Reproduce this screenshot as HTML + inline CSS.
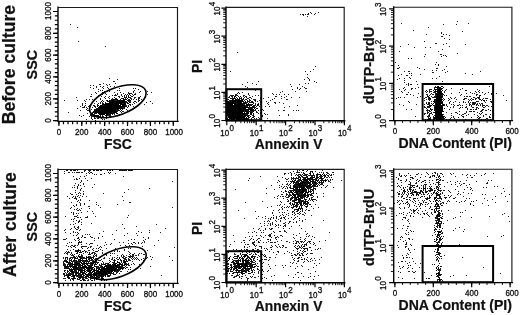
<!DOCTYPE html>
<html><head><meta charset="utf-8"><title>Flow cytometry before and after culture</title>
<style>html,body{margin:0;padding:0;background:#fff;}svg{display:block}text{font-family:"Liberation Sans",Arial,Helvetica,sans-serif}</style>
</head><body>
<svg width="520" height="315" viewBox="0 0 520 315">
<rect width="520" height="315" fill="#fff"/>
<path d="M108 104.5h1M113 111.5h1M108 110.5h1M105 115.5h1M107 111.5h1M104 114.5h1M110 107.5h1M120 106.5h1M109 116.5h1M104 106.5h1M114 109.5h1M114 111.5h1M111 108.5h1M103 112.5h1M111 111.5h1M114 104.5h1M100 112.5h1M105 106.5h1M94 111.5h1M99 109.5h1M96 112.5h1M108 108.5h1M100 112.5h1M110 103.5h1M113 113.5h1M109 111.5h1M91 116.5h1M105 108.5h1M109 107.5h1M111 109.5h1M98 113.5h1M104 104.5h1M103 112.5h1M106 118.5h1M116 99.5h1M104 112.5h1M110 109.5h1M116 105.5h1M107 113.5h1M107 104.5h1M111 108.5h1M112 111.5h1M100 110.5h1M110 106.5h1M120 104.5h1M97 110.5h1M118 110.5h1M109 104.5h1M106 112.5h1M123 98.5h1M116 107.5h1M100 110.5h1M107 100.5h1M114 106.5h1M107 105.5h1M114 104.5h1M111 112.5h1M113 102.5h1M119 100.5h1M106 113.5h1M111 107.5h1M108 113.5h1M111 108.5h1M100 108.5h1M105 109.5h1M109 112.5h1M117 108.5h1M118 104.5h1M100 111.5h1M103 109.5h1M114 104.5h1M97 118.5h1M106 109.5h1M108 104.5h1M118 103.5h1M115 108.5h1M108 110.5h1M107 108.5h1M107 106.5h1M121 103.5h1M105 104.5h1M106 104.5h1M113 109.5h1M108 106.5h1M108 109.5h1M102 114.5h1M110 109.5h1M106 109.5h1M121 110.5h1M115 108.5h1M109 106.5h1M115 108.5h1M107 110.5h1M117 102.5h1M110 108.5h1M114 105.5h1M98 105.5h1M112 106.5h1M97 111.5h1M94 112.5h1M105 103.5h1M102 109.5h1M111 107.5h1M126 102.5h1M102 106.5h1M105 111.5h1M110 103.5h1M113 105.5h1M110 112.5h1M107 106.5h1M114 104.5h1M115 109.5h1M101 109.5h1M109 107.5h1M110 108.5h1M103 113.5h1M109 100.5h1M102 107.5h1M116 102.5h1M110 104.5h1M109 105.5h1M104 107.5h1M109 109.5h1M94 110.5h1M101 111.5h1M113 108.5h1M93 111.5h1M116 105.5h1M98 117.5h1M116 106.5h1M102 108.5h1M115 105.5h1M110 104.5h1M98 112.5h1M120 106.5h1M119 101.5h1M109 107.5h1M109 111.5h1M108 106.5h1M102 111.5h1M117 101.5h1M105 107.5h1M109 106.5h1M106 116.5h1M104 108.5h1M99 109.5h1M118 102.5h1M108 107.5h1M117 107.5h1M110 108.5h1M106 115.5h1M107 109.5h1M107 113.5h1M110 108.5h1M107 110.5h1M106 104.5h1M99 111.5h1M103 109.5h1M122 102.5h1M102 103.5h1M102 113.5h1M112 105.5h1M120 102.5h1M98 111.5h1M108 107.5h1M105 110.5h1M95 109.5h1M114 103.5h1M110 108.5h1M110 108.5h1M103 108.5h1M112 105.5h1M105 107.5h1M108 108.5h1M102 114.5h1M99 108.5h1M121 108.5h1M107 111.5h1M111 105.5h1M110 110.5h1M105 104.5h1M104 104.5h1M113 102.5h1M107 107.5h1M108 107.5h1M109 106.5h1M118 104.5h1M112 100.5h1M113 108.5h1M104 105.5h1M98 109.5h1M116 104.5h1M116 101.5h1M107 104.5h1M113 103.5h1M115 105.5h1M116 107.5h1M117 106.5h1M105 106.5h1M120 101.5h1M99 108.5h1M116 106.5h1M111 100.5h1M117 109.5h1M123 101.5h1M120 101.5h1M101 111.5h1M98 115.5h1M116 106.5h1M103 113.5h1M110 108.5h1M117 109.5h1M98 115.5h1M94 113.5h1M113 111.5h1M110 108.5h1M108 108.5h1M109 105.5h1M103 109.5h1M99 114.5h1M107 104.5h1M103 112.5h1M98 113.5h1M114 107.5h1M107 101.5h1M112 106.5h1M103 112.5h1M104 107.5h1M102 110.5h1M100 103.5h1M112 109.5h1M103 108.5h1M113 109.5h1M110 101.5h1M125 104.5h1M99 111.5h1M117 107.5h1M108 105.5h1M109 106.5h1M101 118.5h1M105 106.5h1M114 103.5h1M109 107.5h1M109 104.5h1M109 112.5h1M120 109.5h1M109 105.5h1M91 109.5h1M105 113.5h1M96 116.5h1M86 119.5h1M107 112.5h1M119 101.5h1M110 107.5h1M99 107.5h1M101 106.5h1M119 107.5h1M110 105.5h1M112 114.5h1M109 108.5h1M109 105.5h1M116 107.5h1M116 111.5h1M112 108.5h1M100 107.5h1M114 107.5h1M106 113.5h1M117 103.5h1M99 109.5h1M110 111.5h1M110 108.5h1M98 108.5h1M122 102.5h1M120 101.5h1M106 110.5h1M115 106.5h1M114 110.5h1M91 117.5h1M110 102.5h1M109 109.5h1M111 110.5h1M102 112.5h1M109 111.5h1M108 106.5h1M117 101.5h1M113 109.5h1M108 104.5h1M119 97.5h1M106 112.5h1M106 106.5h1M96 112.5h1M120 99.5h1M115 101.5h1M115 102.5h1M114 105.5h1M111 108.5h1M109 100.5h1M108 110.5h1M107 105.5h1M109 104.5h1M122 105.5h1M114 106.5h1M107 103.5h1M107 114.5h1M104 107.5h1M122 104.5h1M114 107.5h1M111 111.5h1M106 107.5h1M102 113.5h1M108 105.5h1M117 108.5h1M106 106.5h1M107 107.5h1M110 113.5h1M111 108.5h1M98 112.5h1M110 114.5h1M103 111.5h1M115 103.5h1M104 112.5h1M113 102.5h1M122 106.5h1M108 112.5h1M104 107.5h1M110 105.5h1M110 108.5h1M102 110.5h1M112 103.5h1M125 103.5h1M105 102.5h1M108 107.5h1M101 109.5h1M112 106.5h1M100 112.5h1M100 107.5h1M120 106.5h1M103 109.5h1M117 103.5h1M120 99.5h1M110 103.5h1M114 107.5h1M123 99.5h1M108 108.5h1M106 112.5h1M100 114.5h1M111 112.5h1M120 103.5h1M116 102.5h1M103 113.5h1M103 111.5h1M107 112.5h1M112 107.5h1M109 111.5h1M112 109.5h1M112 109.5h1M108 110.5h1M110 109.5h1M111 107.5h1M109 108.5h1M114 109.5h1M123 101.5h1M116 111.5h1M110 107.5h1M98 115.5h1M112 106.5h1M95 112.5h1M101 117.5h1M116 104.5h1M113 102.5h1M108 106.5h1M96 111.5h1M109 114.5h1M105 110.5h1M115 108.5h1M125 98.5h1M111 108.5h1M104 111.5h1M103 116.5h1M108 106.5h1M109 110.5h1M101 111.5h1M109 104.5h1M101 110.5h1M118 104.5h1M115 98.5h1M118 106.5h1M106 110.5h1M113 105.5h1M107 104.5h1M108 113.5h1M107 109.5h1M101 114.5h1M100 115.5h1M115 104.5h1M109 110.5h1M111 106.5h1M117 104.5h1M96 112.5h1M104 110.5h1M112 110.5h1M113 107.5h1M107 108.5h1M117 104.5h1M111 108.5h1M99 108.5h1M102 109.5h1M116 105.5h1M112 105.5h1M95 112.5h1M119 102.5h1M116 111.5h1M121 107.5h1M107 110.5h1M107 108.5h1M103 117.5h1M129 101.5h1M108 108.5h1M122 104.5h1M105 110.5h1M112 111.5h1M97 112.5h1M109 114.5h1M116 102.5h1M101 113.5h1M117 102.5h1M114 112.5h1M101 109.5h1M106 109.5h1M107 111.5h1M110 111.5h1M104 106.5h1M103 109.5h1M106 104.5h1M102 111.5h1M100 111.5h1M109 107.5h1M115 103.5h1M98 110.5h1M109 105.5h1M105 111.5h1M104 114.5h1M114 100.5h1M105 108.5h1M120 102.5h1M104 111.5h1M111 104.5h1M108 108.5h1M103 107.5h1M115 108.5h1M108 108.5h1M114 105.5h1M110 109.5h1M101 110.5h1M107 103.5h1M111 109.5h1M117 106.5h1M103 109.5h1M110 110.5h1M98 116.5h1M113 103.5h1M101 108.5h1M98 117.5h1M111 112.5h1M117 102.5h1M97 108.5h1M101 109.5h1M103 108.5h1M99 106.5h1M112 106.5h1M102 106.5h1M103 106.5h1M115 108.5h1M103 108.5h1M113 106.5h1M103 112.5h1M101 113.5h1M95 111.5h1M124 102.5h1M106 106.5h1M113 112.5h1M110 109.5h1M110 104.5h1M110 107.5h1M125 104.5h1M102 112.5h1M100 117.5h1M103 114.5h1M99 110.5h1M115 105.5h1M114 102.5h1M103 111.5h1M99 112.5h1M110 116.5h1M120 104.5h1M86 109.5h1M113 104.5h1M102 111.5h1M116 101.5h1M101 108.5h1M107 107.5h1M99 112.5h1M102 110.5h1M119 101.5h1M116 107.5h1M106 107.5h1M102 108.5h1M94 109.5h1M106 106.5h1M110 109.5h1M107 103.5h1M109 107.5h1M102 112.5h1M109 107.5h1M109 108.5h1M118 101.5h1M125 106.5h1M110 111.5h1M104 110.5h1M107 103.5h1M104 106.5h1M105 112.5h1M111 112.5h1M102 111.5h1M115 109.5h1M108 106.5h1M111 106.5h1M108 108.5h1M104 111.5h1M101 106.5h1M109 111.5h1M107 113.5h1M110 104.5h1M108 104.5h1M100 112.5h1M109 105.5h1M97 104.5h1M106 111.5h1M107 109.5h1M93 112.5h1M112 113.5h1M111 107.5h1M108 106.5h1M106 109.5h1M106 105.5h1M101 108.5h1M108 109.5h1M105 107.5h1M110 106.5h1M102 115.5h1M112 109.5h1M111 109.5h1M109 109.5h1M107 110.5h1M115 110.5h1M97 112.5h1M115 111.5h1M110 104.5h1M111 106.5h1M111 102.5h1M104 108.5h1M108 110.5h1M116 110.5h1M112 104.5h1M111 107.5h1M98 111.5h1M113 104.5h1M117 101.5h1M117 105.5h1M109 102.5h1M98 112.5h1M117 105.5h1M108 106.5h1M89 111.5h1M111 102.5h1M100 117.5h1M98 107.5h1M106 114.5h1M120 106.5h1M106 107.5h1M110 103.5h1M124 106.5h1M123 108.5h1M108 105.5h1M107 107.5h1M101 114.5h1M105 110.5h1M115 112.5h1M112 105.5h1M111 109.5h1M116 101.5h1M106 115.5h1M108 105.5h1M113 99.5h1M114 105.5h1M117 104.5h1M114 112.5h1M107 107.5h1M112 106.5h1M103 112.5h1M99 116.5h1M114 106.5h1M110 110.5h1M112 108.5h1M96 111.5h1M107 109.5h1M105 109.5h1M102 107.5h1M94 117.5h1M106 104.5h1M117 108.5h1M113 109.5h1M105 109.5h1M109 105.5h1M115 105.5h1M89 116.5h1M109 110.5h1M114 107.5h1M116 108.5h1M122 101.5h1M118 105.5h1M110 102.5h1M113 109.5h1M116 106.5h1M105 108.5h1M110 111.5h1M117 107.5h1M121 94.5h1M108 108.5h1M108 103.5h1M112 110.5h1M122 111.5h1M109 106.5h1M121 104.5h1M102 109.5h1M108 109.5h1M109 110.5h1M117 109.5h1M116 102.5h1M100 116.5h1M102 107.5h1M112 107.5h1M106 112.5h1M99 114.5h1M116 102.5h1M112 104.5h1M113 105.5h1M106 109.5h1M118 108.5h1M106 104.5h1M118 106.5h1M103 112.5h1M104 111.5h1M112 108.5h1M106 114.5h1M115 107.5h1M112 109.5h1M103 112.5h1M112 112.5h1M105 103.5h1M118 109.5h1M104 108.5h1M106 108.5h1M118 101.5h1M124 96.5h1M124 101.5h1M109 105.5h1M112 108.5h1M120 99.5h1M110 112.5h1M102 111.5h1M110 106.5h1M112 104.5h1M102 107.5h1M96 109.5h1M98 110.5h1M115 106.5h1M104 109.5h1M107 104.5h1M111 106.5h1M113 103.5h1M107 109.5h1M115 111.5h1M103 112.5h1M106 108.5h1M100 106.5h1M117 100.5h1M108 103.5h1M105 111.5h1M106 106.5h1M108 108.5h1M114 104.5h1M98 112.5h1M103 114.5h1M106 107.5h1M128 100.5h1M116 103.5h1M110 110.5h1M114 103.5h1M124 99.5h1M106 104.5h1M105 104.5h1M119 105.5h1M116 113.5h1M114 103.5h1M107 111.5h1M124 103.5h1M121 100.5h1M113 105.5h1M114 105.5h1M94 111.5h1M116 111.5h1M106 103.5h1M113 107.5h1M115 106.5h1M106 107.5h1M97 112.5h1M113 109.5h1M104 110.5h1M107 109.5h1M106 111.5h1M105 103.5h1M94 118.5h1M121 110.5h1M112 109.5h1M119 107.5h1M123 98.5h1M110 107.5h1M95 110.5h1M102 108.5h1M101 113.5h1M105 107.5h1M110 107.5h1M92 107.5h1M112 106.5h1M98 112.5h1M111 105.5h1M108 106.5h1M109 114.5h1M108 104.5h1M104 106.5h1M104 107.5h1M98 115.5h1M111 113.5h1M124 103.5h1M124 100.5h1M119 103.5h1M116 108.5h1M103 107.5h1M122 108.5h1M111 112.5h1M109 108.5h1M108 110.5h1M111 109.5h1M108 113.5h1M108 105.5h1M103 114.5h1M106 107.5h1M126 99.5h1M109 108.5h1M107 107.5h1M112 103.5h1M113 101.5h1M100 108.5h1M109 112.5h1M118 110.5h1M112 108.5h1M112 110.5h1M121 102.5h1M104 109.5h1M110 108.5h1M104 106.5h1M120 101.5h1M95 113.5h1M104 108.5h1M104 106.5h1M115 107.5h1M114 105.5h1M121 106.5h1M98 112.5h1M115 104.5h1M107 109.5h1M104 109.5h1M113 104.5h1M102 109.5h1M95 115.5h1M107 110.5h1M100 115.5h1M103 104.5h1M112 105.5h1M111 105.5h1M122 104.5h1M108 107.5h1M97 110.5h1M105 112.5h1M103 110.5h1M99 107.5h1M114 110.5h1M106 112.5h1M94 111.5h1M116 108.5h1M108 106.5h1M113 110.5h1M110 106.5h1M113 103.5h1M109 106.5h1M118 102.5h1M113 107.5h1M113 107.5h1M113 106.5h1M98 110.5h1M105 98.5h1M108 108.5h1M109 101.5h1M100 112.5h1M123 106.5h1M111 108.5h1M100 110.5h1M96 112.5h1M107 108.5h1M108 106.5h1M104 108.5h1M109 105.5h1M106 113.5h1M114 106.5h1M105 112.5h1M109 107.5h1M117 105.5h1M129 100.5h1M102 111.5h1M107 111.5h1M103 110.5h1M115 103.5h1M100 108.5h1M108 113.5h1M109 107.5h1M102 109.5h1M104 114.5h1M107 112.5h1M94 115.5h1M98 110.5h1M109 115.5h1M111 108.5h1M109 109.5h1M96 112.5h1M105 105.5h1M114 101.5h1M114 107.5h1M109 109.5h1M103 109.5h1M113 102.5h1M104 105.5h1M100 110.5h1M102 105.5h1M121 106.5h1M112 110.5h1M121 112.5h1M107 111.5h1M116 103.5h1M104 107.5h1M105 98.5h1M128 99.5h1M115 105.5h1M107 111.5h1M109 109.5h1M113 108.5h1M119 105.5h1M107 111.5h1M98 116.5h1M106 105.5h1M109 106.5h1M109 103.5h1M121 108.5h1M113 110.5h1M116 107.5h1M100 107.5h1M116 106.5h1M125 101.5h1M115 106.5h1M111 106.5h1M111 108.5h1M123 101.5h1M103 112.5h1M109 108.5h1M113 105.5h1M115 105.5h1M106 107.5h1M113 109.5h1M107 107.5h1M111 108.5h1M108 107.5h1M99 106.5h1M110 110.5h1M115 102.5h1M103 112.5h1M108 109.5h1M113 101.5h1M100 108.5h1M110 105.5h1M101 108.5h1M117 101.5h1M128 103.5h1M124 101.5h1M108 109.5h1M115 104.5h1M111 108.5h1M109 105.5h1M121 103.5h1M100 113.5h1M117 105.5h1M109 106.5h1M119 100.5h1M111 107.5h1M105 110.5h1M111 106.5h1M114 103.5h1M110 109.5h1M116 113.5h1M105 108.5h1M94 114.5h1M117 106.5h1M112 98.5h1M111 107.5h1M109 105.5h1M119 108.5h1M106 108.5h1M103 107.5h1M108 107.5h1M119 105.5h1M98 110.5h1M118 104.5h1M103 105.5h1M101 110.5h1M120 106.5h1M111 113.5h1M100 113.5h1M107 109.5h1M118 108.5h1M120 107.5h1M108 113.5h1M114 109.5h1M115 105.5h1M105 110.5h1M112 107.5h1M110 108.5h1M106 109.5h1M105 107.5h1M108 101.5h1M109 105.5h1M103 103.5h1M106 109.5h1M118 104.5h1M109 102.5h1M117 107.5h1M119 107.5h1M114 106.5h1M128 106.5h1M105 115.5h1M114 102.5h1M108 111.5h1M124 104.5h1M123 104.5h1M96 115.5h1M101 108.5h1M114 104.5h1M115 103.5h1M114 103.5h1M109 107.5h1M111 102.5h1M113 103.5h1M110 109.5h1M117 104.5h1M93 115.5h1M112 100.5h1M101 108.5h1M116 103.5h1M108 108.5h1M102 108.5h1M113 109.5h1M103 110.5h1M103 110.5h1M98 112.5h1M110 109.5h1M113 105.5h1M118 108.5h1M109 109.5h1M118 105.5h1M110 107.5h1M109 109.5h1M115 109.5h1M118 107.5h1M107 109.5h1M109 111.5h1M108 108.5h1M111 111.5h1M103 110.5h1M115 99.5h1M108 112.5h1M113 106.5h1M102 106.5h1M112 106.5h1M112 104.5h1M108 114.5h1M125 103.5h1M111 102.5h1M123 104.5h1M116 104.5h1M106 115.5h1M106 105.5h1M110 100.5h1M110 107.5h1M110 106.5h1M107 107.5h1M94 106.5h1M108 109.5h1M95 118.5h1M110 101.5h1M105 113.5h1M104 108.5h1M110 115.5h1M112 108.5h1M99 111.5h1M97 115.5h1M102 112.5h1M94 111.5h1M103 112.5h1M121 102.5h1M100 105.5h1M116 111.5h1M99 110.5h1M111 105.5h1M107 109.5h1M107 103.5h1M112 102.5h1M122 101.5h1M110 105.5h1M111 107.5h1M103 113.5h1M113 104.5h1M108 109.5h1M116 107.5h1M108 104.5h1M123 103.5h1M94 110.5h1M108 111.5h1M117 106.5h1M107 108.5h1M102 106.5h1M108 108.5h1M98 109.5h1M111 109.5h1M128 100.5h1M117 102.5h1M102 113.5h1M104 112.5h1M106 107.5h1M118 108.5h1M103 109.5h1M104 108.5h1M116 105.5h1M115 103.5h1M106 107.5h1M101 110.5h1M99 116.5h1M106 114.5h1M92 113.5h1M117 110.5h1M105 109.5h1M114 107.5h1M124 105.5h1M119 105.5h1M103 117.5h1M116 106.5h1M117 101.5h1M105 113.5h1M102 109.5h1M108 107.5h1M94 103.5h1M122 106.5h1M92 116.5h1M102 113.5h1M108 111.5h1M110 113.5h1M111 107.5h1M113 109.5h1M107 106.5h1M118 103.5h1M95 116.5h1M110 109.5h1M103 106.5h1M111 108.5h1M111 106.5h1M102 108.5h1M105 110.5h1M115 104.5h1M111 102.5h1M103 106.5h1M127 107.5h1M125 97.5h1M99 112.5h1M112 108.5h1M129 102.5h1M114 102.5h1M111 106.5h1M108 108.5h1M106 111.5h1M107 106.5h1M104 106.5h1M116 108.5h1M108 112.5h1M107 110.5h1M100 109.5h1M110 109.5h1M103 110.5h1M109 110.5h1M116 101.5h1M112 107.5h1M113 106.5h1M111 103.5h1M110 108.5h1M109 108.5h1M107 107.5h1M116 106.5h1M100 106.5h1M120 104.5h1M110 109.5h1M104 110.5h1M107 112.5h1M103 106.5h1M109 103.5h1M104 110.5h1M119 106.5h1M106 116.5h1M93 115.5h1M103 107.5h1M95 115.5h1M108 105.5h1M116 100.5h1M117 113.5h1M100 112.5h1M105 112.5h1M123 104.5h1M114 112.5h1M110 108.5h1M119 108.5h1M127 98.5h1M118 100.5h1M112 111.5h1M114 111.5h1M115 107.5h1M105 110.5h1M102 111.5h1M109 105.5h1M104 114.5h1M110 109.5h1M111 109.5h1M127 102.5h1M104 113.5h1M109 109.5h1M109 110.5h1M112 103.5h1M118 106.5h1M108 115.5h1M103 108.5h1M97 112.5h1M103 112.5h1M115 109.5h1M110 109.5h1M100 106.5h1M107 110.5h1M109 104.5h1M112 104.5h1M106 111.5h1M107 107.5h1M97 115.5h1M104 119.5h1M122 105.5h1M94 115.5h1M106 106.5h1M110 105.5h1M106 105.5h1M103 108.5h1M108 104.5h1M109 106.5h1M109 107.5h1M94 110.5h1M107 104.5h1M102 106.5h1M106 110.5h1M111 107.5h1M115 109.5h1M117 108.5h1M105 108.5h1M117 107.5h1M117 100.5h1M120 111.5h1M121 107.5h1M108 107.5h1M107 105.5h1M116 106.5h1M97 106.5h1M110 105.5h1M106 111.5h1M107 109.5h1M96 111.5h1M104 113.5h1M108 105.5h1M116 106.5h1M116 103.5h1M108 105.5h1M109 109.5h1M102 107.5h1M114 112.5h1M107 106.5h1M116 111.5h1M122 100.5h1M110 109.5h1M97 108.5h1M102 106.5h1M99 112.5h1M101 113.5h1M118 100.5h1M112 110.5h1M97 109.5h1M115 106.5h1M119 105.5h1M107 110.5h1M103 104.5h1M109 113.5h1M112 108.5h1M114 104.5h1M117 101.5h1M117 99.5h1M117 100.5h1M120 105.5h1M114 105.5h1M97 108.5h1M108 106.5h1M113 111.5h1M106 108.5h1M116 103.5h1M108 112.5h1M103 111.5h1M120 104.5h1M114 104.5h1M110 102.5h1M115 102.5h1M117 103.5h1M112 106.5h1M91 115.5h1M105 111.5h1M106 109.5h1M102 111.5h1M110 104.5h1M116 98.5h1M105 107.5h1M100 108.5h1M124 100.5h1M106 108.5h1M99 107.5h1M110 104.5h1M113 106.5h1M104 110.5h1M115 103.5h1M106 110.5h1M102 109.5h1M110 104.5h1M115 105.5h1M107 114.5h1M111 105.5h1M110 111.5h1M132 104.5h1M106 114.5h1M119 101.5h1M111 113.5h1M109 108.5h1M115 105.5h1M116 104.5h1M120 106.5h1M112 107.5h1M105 109.5h1M107 112.5h1M113 104.5h1M113 103.5h1M121 106.5h1M113 108.5h1M119 108.5h1M120 100.5h1M112 110.5h1M99 113.5h1M102 116.5h1M97 108.5h1M122 104.5h1M103 109.5h1M117 100.5h1M113 104.5h1M124 106.5h1M117 103.5h1M108 106.5h1M109 110.5h1M111 110.5h1M112 110.5h1M105 107.5h1M109 107.5h1M123 106.5h1M96 110.5h1M111 105.5h1M104 112.5h1M113 111.5h1M115 102.5h1M106 100.5h1M114 101.5h1M97 109.5h1M118 104.5h1M106 111.5h1M114 105.5h1M110 105.5h1M90 115.5h1M103 107.5h1M111 107.5h1M121 101.5h1M114 114.5h1M112 109.5h1M98 109.5h1M119 101.5h1M123 101.5h1M108 103.5h1M107 106.5h1M97 110.5h1M117 107.5h1M129 99.5h1M114 103.5h1M118 100.5h1M112 103.5h1M102 110.5h1M119 103.5h1M101 114.5h1M107 106.5h1M113 110.5h1M116 106.5h1M113 106.5h1M110 101.5h1M102 106.5h1M101 113.5h1M111 111.5h1M104 110.5h1M100 113.5h1M100 110.5h1M105 108.5h1M95 111.5h1M100 114.5h1M98 113.5h1M111 106.5h1M112 105.5h1M125 103.5h1M99 112.5h1M104 107.5h1M118 110.5h1M108 109.5h1M107 108.5h1M124 107.5h1M108 111.5h1M101 110.5h1M100 113.5h1M111 103.5h1M111 105.5h1M97 105.5h1M103 114.5h1M112 101.5h1M115 108.5h1M104 107.5h1M113 103.5h1M114 105.5h1M96 113.5h1M108 110.5h1M114 111.5h1M106 110.5h1M94 116.5h1M107 106.5h1M116 107.5h1M122 104.5h1M93 112.5h1M129 100.5h1M101 110.5h1M117 105.5h1M119 105.5h1M116 103.5h1M110 105.5h1M102 113.5h1M112 101.5h1M103 108.5h1M92 119.5h1M128 92.5h1M114 104.5h1M124 104.5h1M101 105.5h1M123 111.5h1M119 96.5h1M123 107.5h1M111 112.5h1M101 113.5h1M108 107.5h1M93 114.5h1M96 110.5h1M111 109.5h1M101 107.5h1M108 107.5h1M110 111.5h1M123 99.5h1M119 103.5h1M109 108.5h1M117 100.5h1M105 113.5h1M107 109.5h1M115 101.5h1M100 111.5h1M107 106.5h1M99 109.5h1M110 107.5h1M121 101.5h1M105 112.5h1M110 105.5h1M104 113.5h1M101 110.5h1M101 113.5h1M120 102.5h1M127 100.5h1M112 103.5h1M105 111.5h1M116 108.5h1M109 114.5h1M117 109.5h1M112 107.5h1M111 106.5h1M114 107.5h1M105 109.5h1M108 113.5h1M98 115.5h1M105 106.5h1M98 109.5h1M110 112.5h1M103 111.5h1M110 106.5h1M114 110.5h1M98 110.5h1M103 109.5h1M102 109.5h1M113 100.5h1M123 105.5h1M115 102.5h1M106 107.5h1M120 101.5h1M99 114.5h1M121 103.5h1M105 109.5h1M87 110.5h1M129 100.5h1M120 99.5h1M102 111.5h1M111 108.5h1M108 108.5h1M112 113.5h1M99 113.5h1M105 111.5h1M113 107.5h1M111 106.5h1M120 107.5h1M111 110.5h1M126 97.5h1M105 112.5h1M112 108.5h1M96 115.5h1M101 112.5h1M118 100.5h1M101 107.5h1M115 111.5h1M109 108.5h1M100 106.5h1M107 109.5h1M105 108.5h1M104 104.5h1M113 99.5h1M113 101.5h1M105 110.5h1M103 110.5h1M111 106.5h1M109 108.5h1M118 106.5h1M127 94.5h1M116 104.5h1M108 105.5h1M107 104.5h1M102 108.5h1M103 110.5h1M102 109.5h1M105 104.5h1M106 107.5h1M117 111.5h1M105 106.5h1M106 103.5h1M113 100.5h1M117 99.5h1M117 103.5h1M99 108.5h1M126 109.5h1M100 99.5h1M100 112.5h1M106 111.5h1M109 102.5h1M119 100.5h1M120 105.5h1M114 112.5h1M121 98.5h1M111 99.5h1M124 106.5h1M98 118.5h1M94 111.5h1M117 93.5h1M98 117.5h1M108 106.5h1M113 111.5h1M106 107.5h1M106 106.5h1M127 98.5h1M124 108.5h1M135 88.5h1M111 102.5h1M114 113.5h1M120 101.5h1M131 93.5h1M99 110.5h1M113 105.5h1M110 106.5h1M118 101.5h1M113 104.5h1M119 101.5h1M108 109.5h1M111 102.5h1M104 107.5h1M104 108.5h1M112 111.5h1M111 108.5h1M99 110.5h1M130 101.5h1M111 108.5h1M98 116.5h1M125 103.5h1M106 116.5h1M120 109.5h1M112 106.5h1M114 103.5h1M115 108.5h1M106 110.5h1M112 105.5h1M133 91.5h1M84 107.5h1M113 107.5h1M118 107.5h1M101 113.5h1M95 106.5h1M138 101.5h1M107 105.5h1M136 99.5h1M119 105.5h1M112 102.5h1M116 101.5h1M116 95.5h1M124 97.5h1M114 97.5h1M114 107.5h1M114 105.5h1M129 104.5h1M122 104.5h1M100 107.5h1M105 110.5h1M115 103.5h1M106 111.5h1M108 108.5h1M100 106.5h1M109 107.5h1M117 104.5h1M123 100.5h1M113 109.5h1M138 104.5h1M111 104.5h1M147 91.5h1M120 92.5h1M117 103.5h1M106 106.5h1M77 108.5h1M111 107.5h1M115 107.5h1M133 95.5h1M96 110.5h1M132 94.5h1M110 110.5h1M118 96.5h1M83 115.5h1M116 113.5h1M108 107.5h1M120 105.5h1M113 105.5h1M97 106.5h1M123 102.5h1M120 104.5h1M117 99.5h1M124 103.5h1M126 106.5h1M113 110.5h1M94 105.5h1M95 107.5h1M125 94.5h1M122 107.5h1M114 108.5h1M108 110.5h1M111 102.5h1M111 101.5h1M108 107.5h1M104 109.5h1M135 93.5h1M115 105.5h1M106 111.5h1M98 112.5h1M102 104.5h1M117 94.5h1M120 101.5h1M110 107.5h1M112 104.5h1M108 105.5h1M98 107.5h1M128 103.5h1M116 104.5h1M140 96.5h1M102 105.5h1M110 104.5h1M122 103.5h1M108 103.5h1M94 106.5h1M101 108.5h1M115 110.5h1M116 105.5h1M113 112.5h1M123 101.5h1M123 100.5h1M114 99.5h1M111 103.5h1M111 112.5h1M119 105.5h1M123 105.5h1M114 108.5h1M117 104.5h1M108 106.5h1M96 112.5h1M102 112.5h1M121 104.5h1M118 106.5h1M130 100.5h1M112 102.5h1M121 101.5h1M126 96.5h1M125 106.5h1M102 100.5h1M110 105.5h1M117 115.5h1M100 108.5h1M116 99.5h1M124 101.5h1M108 113.5h1M134 97.5h1M110 109.5h1M110 107.5h1M109 105.5h1M117 104.5h1M111 103.5h1M130 97.5h1M119 105.5h1M119 105.5h1M111 110.5h1M96 112.5h1M109 100.5h1M103 111.5h1M122 100.5h1M111 105.5h1M129 93.5h1M119 100.5h1M120 99.5h1M115 105.5h1M112 99.5h1M119 103.5h1M123 102.5h1M102 104.5h1M117 101.5h1M140 91.5h1M112 110.5h1M105 96.5h1M104 107.5h1M93 105.5h1M125 99.5h1M114 109.5h1M114 102.5h1M133 99.5h1M139 92.5h1M105 117.5h1M125 105.5h1M121 108.5h1M115 99.5h1M116 99.5h1M113 110.5h1M130 98.5h1M119 102.5h1M116 106.5h1M124 95.5h1M123 105.5h1M117 104.5h1M116 106.5h1M131 96.5h1M119 106.5h1M110 103.5h1M104 113.5h1M110 112.5h1M102 114.5h1M114 107.5h1M116 107.5h1M85 103.5h1M113 109.5h1M119 102.5h1M114 105.5h1M101 108.5h1M124 95.5h1M103 106.5h1M99 113.5h1M102 116.5h1M111 103.5h1M122 98.5h1M127 107.5h1M113 101.5h1M102 119.5h1M105 108.5h1M101 106.5h1M111 110.5h1M95 120.5h1M111 99.5h1M122 109.5h1M110 105.5h1M119 110.5h1M101 108.5h1M93 105.5h1M106 110.5h1M126 105.5h1M127 110.5h1M109 114.5h1M127 103.5h1M108 106.5h1M128 97.5h1M117 102.5h1M106 104.5h1M121 101.5h1M100 98.5h1M102 110.5h1M96 111.5h1M119 115.5h1M113 109.5h1M110 104.5h1M108 110.5h1M126 95.5h1M106 105.5h1M101 101.5h1M128 106.5h1M129 102.5h1M114 99.5h1M92 112.5h1M107 112.5h1M120 105.5h1M113 107.5h1M128 96.5h1M96 109.5h1M120 103.5h1M106 112.5h1M126 97.5h1M110 101.5h1M125 106.5h1M103 104.5h1M98 116.5h1M100 111.5h1M106 112.5h1M103 117.5h1M127 103.5h1M128 103.5h1M114 101.5h1M99 107.5h1M112 109.5h1M107 115.5h1M130 105.5h1M119 114.5h1M118 105.5h1M108 108.5h1M91 118.5h1M103 109.5h1M99 110.5h1M115 100.5h1M115 109.5h1M101 105.5h1M108 109.5h1M128 93.5h1M103 114.5h1M100 105.5h1M111 110.5h1M102 102.5h1M107 106.5h1M120 108.5h1M130 95.5h1M92 113.5h1M111 104.5h1M109 96.5h1M112 107.5h1M111 108.5h1M107 103.5h1M124 104.5h1M106 104.5h1M109 102.5h1M112 106.5h1M112 102.5h1M113 116.5h1M121 95.5h1M113 109.5h1M115 109.5h1M109 98.5h1M98 103.5h1M103 111.5h1M99 108.5h1M115 106.5h1M106 113.5h1M99 108.5h1M113 100.5h1M114 92.5h1M92 114.5h1M130 95.5h1M113 107.5h1M111 107.5h1M122 96.5h1M115 112.5h1M107 112.5h1M138 100.5h1M98 105.5h1M110 104.5h1M121 100.5h1M99 108.5h1M109 101.5h1M117 106.5h1M139 97.5h1M102 111.5h1M111 104.5h1M121 108.5h1M113 106.5h1M94 99.5h1M116 101.5h1M113 105.5h1M118 108.5h1M124 100.5h1M123 100.5h1M116 101.5h1M116 107.5h1M99 108.5h1M110 104.5h1M113 102.5h1M108 109.5h1M112 103.5h1M100 102.5h1M130 102.5h1M135 94.5h1M108 109.5h1M117 105.5h1M111 111.5h1M128 105.5h1M116 101.5h1M113 105.5h1M108 101.5h1M116 112.5h1M101 111.5h1M122 108.5h1M103 107.5h1M115 95.5h1M116 111.5h1M124 101.5h1M112 106.5h1M124 102.5h1M103 112.5h1M120 105.5h1M107 100.5h1M116 109.5h1M112 103.5h1M122 100.5h1M117 108.5h1M95 110.5h1M123 93.5h1M90 114.5h1M101 112.5h1M93 112.5h1M129 94.5h1M96 108.5h1M111 100.5h1M106 109.5h1M93 116.5h1M110 111.5h1M118 100.5h1M110 107.5h1M123 104.5h1M107 105.5h1M112 105.5h1M111 116.5h1M116 105.5h1M135 101.5h1M115 102.5h1M114 105.5h1M103 101.5h1M103 109.5h1M130 104.5h1M121 85.5h1M114 103.5h1M109 89.5h1M104 91.5h1M99 84.5h1M103 88.5h1M109 84.5h1M98 95.5h1M111 89.5h1M96 93.5h1M90 87.5h1M96 87.5h1M91 96.5h1M93 85.5h1M113 81.5h1M102 92.5h1M106 84.5h1M113 88.5h1M114 95.5h1M100 86.5h1M115 94.5h1M107 87.5h1M104 97.5h1M108 97.5h1M93 88.5h1M98 89.5h1M103 86.5h1M109 91.5h1M101 96.5h1M103 83.5h1M112 95.5h1M115 83.5h1M110 86.5h1M114 81.5h1M101 101.5h1M102 90.5h1M107 91.5h1M102 87.5h1M100 95.5h1M117 79.5h1M102 90.5h1M96 101.5h1M108 88.5h1M119 90.5h1M105 93.5h1M114 86.5h1M100 90.5h1M100 95.5h1M98 91.5h1M103 92.5h1M119 88.5h1M95 92.5h1M117 90.5h1M96 97.5h1M102 94.5h1M111 89.5h1M109 78.5h1M106 94.5h1M91 94.5h1M107 85.5h1M76 97.5h1M80 110.5h1M91 113.5h1M81 116.5h1M84 106.5h1M87 113.5h1M92 99.5h1M86 107.5h1M85 101.5h1M83 107.5h1M94 111.5h1M91 113.5h1M86 99.5h1M79 115.5h1M82 103.5h1M89 99.5h1M82 105.5h1M90 96.5h1M88 106.5h1M87 108.5h1M89 105.5h1M88 110.5h1M82 104.5h1M84 106.5h1M98 96.5h1M80 106.5h1M84 100.5h1M91 103.5h1M85 105.5h1M82 107.5h1M121 102.5h1M123 105.5h1M131 99.5h1M138 98.5h1M133 88.5h1M141 99.5h1M146 102.5h1M139 100.5h1M132 96.5h1M124 97.5h1M126 101.5h1M128 95.5h1M136 99.5h1M134 94.5h1M134 101.5h1M134 103.5h1M135 88.5h1M135 97.5h1M134 94.5h1M133 91.5h1M128 96.5h1M125 99.5h1M138 99.5h1M134 90.5h1M133 102.5h1M133 106.5h1M151 92.5h1M128 101.5h1M131 98.5h1M133 92.5h1M125 102.5h1M134 98.5h1M147 94.5h1M144 104.5h1M139 98.5h1M138 97.5h1M136 102.5h1M138 89.5h1M130 93.5h1M129 97.5h1M70 24.5h1M77 27.5h1M78 41.5h1M105 46.5h1M77 100.5h1M150 101.5h1M152 103.5h1M96 86.5h1M90 85.5h1M100 84.5h1M64 100.5h1M68 112.5h1" stroke="#000" stroke-opacity="0.88" stroke-width="1" fill="none"/>
<path d="M58.0 7.3V121.4H178.0" fill="none" stroke="#000" stroke-width="1.4" stroke-linecap="square"/>
<path d="M58.0 7.5H177.5V121.4" fill="none" stroke="#1a1a1a" stroke-width="1.15"/>
<path d="M58.90 121.40v4.6M81.78 121.40v4.6M104.66 121.40v4.6M127.54 121.40v4.6M150.42 121.40v4.6M173.30 121.40v4.6" stroke="#000" stroke-width="1.2" fill="none"/>
<path d="M58.90 121.40v2.8M63.48 121.40v2.8M68.05 121.40v2.8M72.63 121.40v2.8M77.20 121.40v2.8M81.78 121.40v2.8M86.36 121.40v2.8M90.93 121.40v2.8M95.51 121.40v2.8M100.08 121.40v2.8M104.66 121.40v2.8M109.24 121.40v2.8M113.81 121.40v2.8M118.39 121.40v2.8M122.96 121.40v2.8M127.54 121.40v2.8M132.12 121.40v2.8M136.69 121.40v2.8M141.27 121.40v2.8M145.84 121.40v2.8M150.42 121.40v2.8M155.00 121.40v2.8M159.57 121.40v2.8M164.15 121.40v2.8M168.72 121.40v2.8M173.30 121.40v2.8" stroke="#000" stroke-width="1.2" fill="none"/>
<path d="M58.00 120.60h-5.0M58.00 98.78h-5.0M58.00 76.96h-5.0M58.00 55.14h-5.0M58.00 33.32h-5.0M58.00 11.50h-5.0" stroke="#000" stroke-width="1.2" fill="none"/>
<path d="M58.00 120.60h-3.2M58.00 116.24h-3.2M58.00 111.87h-3.2M58.00 107.51h-3.2M58.00 103.14h-3.2M58.00 98.78h-3.2M58.00 94.42h-3.2M58.00 90.05h-3.2M58.00 85.69h-3.2M58.00 81.32h-3.2M58.00 76.96h-3.2M58.00 72.60h-3.2M58.00 68.23h-3.2M58.00 63.87h-3.2M58.00 59.50h-3.2M58.00 55.14h-3.2M58.00 50.78h-3.2M58.00 46.41h-3.2M58.00 42.05h-3.2M58.00 37.68h-3.2M58.00 33.32h-3.2M58.00 28.96h-3.2M58.00 24.59h-3.2M58.00 20.23h-3.2M58.00 15.86h-3.2M58.00 11.50h-3.2" stroke="#000" stroke-width="1.2" fill="none"/>
<text transform="translate(58.90,134.90) scale(0.81,1)" text-anchor="middle" font-size="9.9" fill="#111" stroke="#111" stroke-width="0.35">0</text>
<text transform="translate(50.50,120.60) rotate(-90) scale(0.81,1)" text-anchor="middle" font-size="9.9" fill="#111" stroke="#111" stroke-width="0.35">0</text>
<text transform="translate(81.78,134.90) scale(0.81,1)" text-anchor="middle" font-size="9.9" fill="#111" stroke="#111" stroke-width="0.35">200</text>
<text transform="translate(50.50,98.78) rotate(-90) scale(0.81,1)" text-anchor="middle" font-size="9.9" fill="#111" stroke="#111" stroke-width="0.35">200</text>
<text transform="translate(104.66,134.90) scale(0.81,1)" text-anchor="middle" font-size="9.9" fill="#111" stroke="#111" stroke-width="0.35">400</text>
<text transform="translate(50.50,76.96) rotate(-90) scale(0.81,1)" text-anchor="middle" font-size="9.9" fill="#111" stroke="#111" stroke-width="0.35">400</text>
<text transform="translate(127.54,134.90) scale(0.81,1)" text-anchor="middle" font-size="9.9" fill="#111" stroke="#111" stroke-width="0.35">600</text>
<text transform="translate(50.50,55.14) rotate(-90) scale(0.81,1)" text-anchor="middle" font-size="9.9" fill="#111" stroke="#111" stroke-width="0.35">600</text>
<text transform="translate(150.42,134.90) scale(0.81,1)" text-anchor="middle" font-size="9.9" fill="#111" stroke="#111" stroke-width="0.35">800</text>
<text transform="translate(50.50,33.32) rotate(-90) scale(0.81,1)" text-anchor="middle" font-size="9.9" fill="#111" stroke="#111" stroke-width="0.35">800</text>
<text transform="translate(174.10,134.90) scale(0.81,1)" text-anchor="middle" font-size="9.9" fill="#111" stroke="#111" stroke-width="0.35">1000</text>
<text transform="translate(50.50,11.00) rotate(-90) scale(0.81,1)" text-anchor="middle" font-size="9.9" fill="#111" stroke="#111" stroke-width="0.35">1000</text>
<ellipse cx="117.85" cy="101.2" rx="29.8" ry="13.6" transform="rotate(-20.5 117.85 101.2)" fill="none" stroke="#000" stroke-width="1.6"/>
<text transform="translate(117.90,148.80)" text-anchor="middle" font-size="13.9" font-weight="bold" fill="#111" stroke="#111" stroke-width="0.22" >FSC</text>
<text transform="translate(36.90,64.70) rotate(-90)" text-anchor="middle" font-size="14.3" font-weight="bold" fill="#111" stroke="#111" stroke-width="0.22" >SSC</text>
<path d="M231 113.5h1M237 109.5h1M233 113.5h1M241 106.5h1M240 112.5h1M237 116.5h1M232 112.5h1M237 99.5h1M237 113.5h1M230 111.5h1M235 106.5h1M237 117.5h1M235 102.5h1M241 120.5h1M239 107.5h1M231 118.5h1M235 110.5h1M230 104.5h1M236 111.5h1M230 112.5h1M238 113.5h1M236 116.5h1M238 106.5h1M233 113.5h1M228 114.5h1M241 109.5h1M233 106.5h1M240 105.5h1M236 114.5h1M237 114.5h1M242 106.5h1M235 104.5h1M240 116.5h1M228 102.5h1M238 111.5h1M233 106.5h1M233 101.5h1M234 111.5h1M235 109.5h1M241 117.5h1M234 109.5h1M231 115.5h1M239 115.5h1M232 108.5h1M236 106.5h1M232 118.5h1M237 108.5h1M238 110.5h1M232 109.5h1M234 110.5h1M228 107.5h1M235 114.5h1M238 116.5h1M232 108.5h1M239 103.5h1M228 107.5h1M232 116.5h1M234 112.5h1M234 105.5h1M237 114.5h1M232 99.5h1M229 107.5h1M229 118.5h1M243 114.5h1M233 102.5h1M240 114.5h1M236 110.5h1M231 107.5h1M234 112.5h1M238 107.5h1M239 101.5h1M230 114.5h1M237 107.5h1M235 105.5h1M239 104.5h1M240 111.5h1M233 106.5h1M228 113.5h1M236 109.5h1M241 116.5h1M237 108.5h1M235 107.5h1M244 100.5h1M230 105.5h1M238 114.5h1M234 104.5h1M234 105.5h1M240 112.5h1M230 113.5h1M232 107.5h1M227 111.5h1M236 102.5h1M232 109.5h1M236 115.5h1M229 118.5h1M232 109.5h1M238 109.5h1M233 112.5h1M237 116.5h1M236 113.5h1M233 106.5h1M227 112.5h1M238 115.5h1M235 107.5h1M238 104.5h1M227 112.5h1M230 111.5h1M238 107.5h1M236 108.5h1M234 105.5h1M235 106.5h1M237 107.5h1M233 108.5h1M236 116.5h1M235 104.5h1M232 107.5h1M240 118.5h1M232 112.5h1M233 108.5h1M231 114.5h1M232 111.5h1M239 108.5h1M233 118.5h1M230 114.5h1M232 116.5h1M237 105.5h1M237 114.5h1M238 114.5h1M236 110.5h1M231 107.5h1M237 105.5h1M227 114.5h1M229 117.5h1M228 109.5h1M229 113.5h1M238 117.5h1M228 106.5h1M229 109.5h1M230 105.5h1M235 116.5h1M233 112.5h1M238 108.5h1M231 102.5h1M229 109.5h1M232 115.5h1M234 109.5h1M230 108.5h1M235 113.5h1M242 104.5h1M232 111.5h1M234 113.5h1M240 106.5h1M231 106.5h1M230 112.5h1M229 110.5h1M236 109.5h1M236 111.5h1M233 111.5h1M234 106.5h1M239 107.5h1M238 113.5h1M228 116.5h1M234 117.5h1M234 106.5h1M237 116.5h1M233 114.5h1M231 110.5h1M232 113.5h1M234 119.5h1M231 105.5h1M236 113.5h1M230 110.5h1M232 109.5h1M230 116.5h1M229 114.5h1M237 105.5h1M232 109.5h1M236 111.5h1M229 103.5h1M234 115.5h1M227 110.5h1M232 111.5h1M232 112.5h1M236 119.5h1M235 111.5h1M233 109.5h1M237 119.5h1M235 108.5h1M236 108.5h1M237 103.5h1M234 116.5h1M233 112.5h1M235 113.5h1M232 111.5h1M235 110.5h1M238 106.5h1M237 106.5h1M232 112.5h1M228 111.5h1M234 118.5h1M233 107.5h1M238 108.5h1M232 105.5h1M233 117.5h1M237 104.5h1M232 114.5h1M233 117.5h1M241 110.5h1M240 114.5h1M236 100.5h1M235 108.5h1M230 102.5h1M236 111.5h1M234 110.5h1M235 107.5h1M232 115.5h1M234 112.5h1M233 108.5h1M235 108.5h1M240 103.5h1M235 109.5h1M230 107.5h1M227 112.5h1M230 108.5h1M236 114.5h1M235 113.5h1M231 109.5h1M235 102.5h1M231 108.5h1M228 116.5h1M228 109.5h1M230 113.5h1M240 108.5h1M228 101.5h1M239 112.5h1M239 112.5h1M233 108.5h1M234 109.5h1M231 112.5h1M234 107.5h1M237 112.5h1M234 109.5h1M238 99.5h1M239 110.5h1M235 107.5h1M235 106.5h1M234 112.5h1M235 108.5h1M229 113.5h1M235 116.5h1M235 111.5h1M230 103.5h1M243 107.5h1M230 115.5h1M230 109.5h1M235 106.5h1M230 113.5h1M227 112.5h1M230 114.5h1M233 106.5h1M235 109.5h1M238 109.5h1M237 110.5h1M239 100.5h1M236 109.5h1M232 104.5h1M238 117.5h1M232 118.5h1M231 119.5h1M240 114.5h1M237 108.5h1M235 115.5h1M237 109.5h1M237 113.5h1M228 106.5h1M233 108.5h1M229 113.5h1M234 119.5h1M231 110.5h1M230 104.5h1M234 110.5h1M229 106.5h1M234 110.5h1M236 108.5h1M235 110.5h1M232 115.5h1M236 112.5h1M235 110.5h1M239 111.5h1M228 111.5h1M236 113.5h1M231 110.5h1M235 113.5h1M235 104.5h1M237 114.5h1M231 119.5h1M235 111.5h1M229 103.5h1M228 117.5h1M236 109.5h1M234 96.5h1M227 109.5h1M230 113.5h1M234 112.5h1M240 117.5h1M238 114.5h1M237 111.5h1M233 105.5h1M236 111.5h1M235 114.5h1M236 105.5h1M233 107.5h1M241 113.5h1M240 101.5h1M233 101.5h1M230 109.5h1M242 112.5h1M231 108.5h1M239 99.5h1M242 111.5h1M230 104.5h1M235 114.5h1M232 110.5h1M236 112.5h1M235 114.5h1M242 108.5h1M236 115.5h1M234 117.5h1M238 112.5h1M233 117.5h1M232 107.5h1M243 115.5h1M230 112.5h1M232 106.5h1M234 110.5h1M229 108.5h1M238 111.5h1M230 116.5h1M231 109.5h1M232 111.5h1M230 103.5h1M229 111.5h1M234 116.5h1M244 114.5h1M237 113.5h1M237 108.5h1M227 106.5h1M234 110.5h1M229 104.5h1M237 104.5h1M233 115.5h1M234 106.5h1M233 119.5h1M231 103.5h1M227 113.5h1M236 105.5h1M228 111.5h1M229 105.5h1M233 111.5h1M231 110.5h1M235 108.5h1M238 113.5h1M235 118.5h1M235 108.5h1M234 115.5h1M237 111.5h1M230 100.5h1M229 107.5h1M234 101.5h1M232 109.5h1M236 109.5h1M233 119.5h1M242 117.5h1M237 108.5h1M240 113.5h1M234 119.5h1M228 111.5h1M229 111.5h1M237 113.5h1M238 103.5h1M231 106.5h1M233 112.5h1M235 113.5h1M232 109.5h1M241 110.5h1M243 110.5h1M233 114.5h1M241 111.5h1M232 111.5h1M230 103.5h1M238 112.5h1M232 103.5h1M244 112.5h1M235 107.5h1M235 106.5h1M240 107.5h1M232 106.5h1M233 107.5h1M238 100.5h1M231 110.5h1M234 109.5h1M235 115.5h1M238 109.5h1M234 98.5h1M241 117.5h1M233 105.5h1M231 110.5h1M232 104.5h1M230 108.5h1M238 115.5h1M235 115.5h1M230 107.5h1M235 113.5h1M233 111.5h1M236 111.5h1M237 113.5h1M231 107.5h1M238 110.5h1M242 111.5h1M232 111.5h1M237 106.5h1M227 119.5h1M236 114.5h1M234 111.5h1M235 116.5h1M231 100.5h1M237 109.5h1M241 104.5h1M233 111.5h1M239 113.5h1M236 104.5h1M237 108.5h1M235 117.5h1M244 103.5h1M234 109.5h1M236 109.5h1M231 109.5h1M231 117.5h1M234 107.5h1M235 106.5h1M231 115.5h1M241 113.5h1M229 102.5h1M232 114.5h1M235 114.5h1M229 107.5h1M236 111.5h1M236 112.5h1M233 108.5h1M242 107.5h1M234 107.5h1M235 109.5h1M230 104.5h1M227 110.5h1M231 103.5h1M232 111.5h1M232 110.5h1M237 105.5h1M229 120.5h1M239 104.5h1M231 117.5h1M232 111.5h1M229 110.5h1M238 107.5h1M232 110.5h1M235 117.5h1M239 108.5h1M235 107.5h1M236 108.5h1M239 113.5h1M233 120.5h1M233 105.5h1M237 110.5h1M236 108.5h1M233 107.5h1M234 112.5h1M232 113.5h1M237 103.5h1M238 105.5h1M234 116.5h1M242 112.5h1M227 113.5h1M233 108.5h1M241 108.5h1M232 113.5h1M227 108.5h1M240 105.5h1M236 110.5h1M229 115.5h1M237 105.5h1M229 116.5h1M228 114.5h1M233 106.5h1M232 110.5h1M229 110.5h1M232 113.5h1M230 114.5h1M234 104.5h1M234 104.5h1M237 115.5h1M232 111.5h1M228 112.5h1M228 112.5h1M233 118.5h1M240 104.5h1M237 116.5h1M231 106.5h1M238 114.5h1M229 117.5h1M238 103.5h1M232 112.5h1M237 109.5h1M236 109.5h1M233 111.5h1M235 105.5h1M229 106.5h1M233 114.5h1M238 115.5h1M251 108.5h1M237 103.5h1M230 116.5h1M238 112.5h1M227 105.5h1M230 107.5h1M235 112.5h1M229 106.5h1M240 118.5h1M238 111.5h1M231 112.5h1M231 105.5h1M228 106.5h1M228 106.5h1M236 112.5h1M236 109.5h1M235 109.5h1M235 112.5h1M231 111.5h1M235 118.5h1M228 109.5h1M234 105.5h1M240 110.5h1M239 118.5h1M232 108.5h1M232 111.5h1M240 109.5h1M241 112.5h1M227 112.5h1M232 106.5h1M235 109.5h1M239 115.5h1M230 116.5h1M237 115.5h1M233 115.5h1M244 109.5h1M236 109.5h1M233 115.5h1M232 105.5h1M238 110.5h1M237 101.5h1M229 108.5h1M235 107.5h1M228 104.5h1M231 113.5h1M228 107.5h1M228 109.5h1M231 109.5h1M230 107.5h1M236 117.5h1M237 108.5h1M233 111.5h1M229 104.5h1M237 108.5h1M237 107.5h1M237 111.5h1M238 118.5h1M233 110.5h1M228 110.5h1M232 108.5h1M231 118.5h1M231 113.5h1M228 114.5h1M229 107.5h1M237 110.5h1M236 111.5h1M229 111.5h1M229 106.5h1M231 107.5h1M236 113.5h1M229 112.5h1M233 100.5h1M229 117.5h1M236 107.5h1M238 112.5h1M229 103.5h1M231 114.5h1M237 105.5h1M232 104.5h1M232 109.5h1M235 107.5h1M239 104.5h1M237 113.5h1M231 111.5h1M233 118.5h1M234 104.5h1M228 103.5h1M230 109.5h1M238 112.5h1M227 112.5h1M238 116.5h1M235 103.5h1M233 106.5h1M236 110.5h1M236 114.5h1M239 113.5h1M232 108.5h1M233 105.5h1M233 115.5h1M242 115.5h1M230 109.5h1M232 118.5h1M231 104.5h1M234 108.5h1M235 107.5h1M243 108.5h1M238 108.5h1M236 110.5h1M231 108.5h1M233 114.5h1M232 110.5h1M234 110.5h1M238 118.5h1M227 112.5h1M239 111.5h1M232 110.5h1M240 111.5h1M236 113.5h1M239 106.5h1M236 116.5h1M238 118.5h1M234 116.5h1M230 108.5h1M237 103.5h1M237 108.5h1M243 111.5h1M233 109.5h1M238 109.5h1M229 118.5h1M233 107.5h1M243 116.5h1M240 115.5h1M230 104.5h1M240 112.5h1M239 108.5h1M237 106.5h1M235 101.5h1M235 103.5h1M230 112.5h1M232 108.5h1M237 112.5h1M234 105.5h1M242 109.5h1M232 109.5h1M232 102.5h1M235 113.5h1M235 111.5h1M234 106.5h1M230 110.5h1M240 114.5h1M231 119.5h1M237 106.5h1M233 113.5h1M240 111.5h1M230 98.5h1M236 117.5h1M232 110.5h1M237 101.5h1M233 114.5h1M232 115.5h1M243 116.5h1M233 116.5h1M233 110.5h1M229 107.5h1M231 108.5h1M237 110.5h1M236 112.5h1M234 108.5h1M231 111.5h1M237 115.5h1M227 112.5h1M230 105.5h1M235 108.5h1M231 104.5h1M231 105.5h1M241 113.5h1M237 105.5h1M239 105.5h1M234 109.5h1M238 114.5h1M237 109.5h1M239 109.5h1M244 115.5h1M233 113.5h1M235 113.5h1M234 115.5h1M228 111.5h1M234 107.5h1M237 115.5h1M232 114.5h1M239 105.5h1M239 117.5h1M232 105.5h1M240 116.5h1M241 111.5h1M236 106.5h1M230 105.5h1M240 109.5h1M233 110.5h1M232 107.5h1M234 113.5h1M232 103.5h1M238 110.5h1M237 110.5h1M239 101.5h1M236 112.5h1M231 104.5h1M233 98.5h1M238 107.5h1M232 109.5h1M246 115.5h1M233 108.5h1M232 118.5h1M239 117.5h1M237 116.5h1M234 117.5h1M233 112.5h1M236 108.5h1M238 114.5h1M237 115.5h1M233 112.5h1M236 109.5h1M238 103.5h1M237 114.5h1M230 104.5h1M231 111.5h1M233 114.5h1M235 110.5h1M238 114.5h1M237 114.5h1M233 103.5h1M234 109.5h1M241 113.5h1M231 115.5h1M235 117.5h1M241 101.5h1M235 110.5h1M236 116.5h1M232 119.5h1M234 106.5h1M238 109.5h1M236 105.5h1M233 114.5h1M238 104.5h1M236 116.5h1M234 115.5h1M235 113.5h1M235 100.5h1M233 107.5h1M232 114.5h1M234 103.5h1M230 109.5h1M229 110.5h1M239 115.5h1M233 112.5h1M234 112.5h1M233 108.5h1M234 110.5h1M234 110.5h1M234 114.5h1M231 109.5h1M238 115.5h1M231 102.5h1M238 116.5h1M230 116.5h1M238 111.5h1M233 115.5h1M231 118.5h1M236 108.5h1M230 111.5h1M234 110.5h1M232 102.5h1M231 109.5h1M236 109.5h1M238 106.5h1M230 109.5h1M241 103.5h1M232 117.5h1M240 106.5h1M234 105.5h1M231 112.5h1M231 102.5h1M229 111.5h1M240 107.5h1M234 109.5h1M242 112.5h1M233 111.5h1M238 113.5h1M232 104.5h1M233 115.5h1M241 104.5h1M233 111.5h1M239 104.5h1M234 106.5h1M231 117.5h1M236 108.5h1M231 107.5h1M239 108.5h1M238 109.5h1M234 117.5h1M237 104.5h1M236 104.5h1M233 113.5h1M238 102.5h1M233 109.5h1M237 116.5h1M230 110.5h1M234 108.5h1M236 107.5h1M231 106.5h1M232 107.5h1M232 111.5h1M237 116.5h1M231 115.5h1M236 107.5h1M240 107.5h1M236 114.5h1M227 101.5h1M235 108.5h1M238 109.5h1M233 105.5h1M239 105.5h1M237 112.5h1M236 102.5h1M233 106.5h1M232 107.5h1M233 111.5h1M234 103.5h1M236 116.5h1M236 109.5h1M233 109.5h1M234 108.5h1M236 107.5h1M227 105.5h1M231 116.5h1M231 111.5h1M233 110.5h1M233 115.5h1M233 107.5h1M230 113.5h1M237 110.5h1M235 106.5h1M227 114.5h1M234 103.5h1M229 113.5h1M241 106.5h1M232 112.5h1M232 117.5h1M234 113.5h1M233 107.5h1M234 110.5h1M241 108.5h1M235 104.5h1M238 105.5h1M239 110.5h1M230 113.5h1M241 101.5h1M237 110.5h1M238 113.5h1M230 111.5h1M238 105.5h1M236 115.5h1M232 104.5h1M244 113.5h1M236 118.5h1M233 100.5h1M235 111.5h1M238 112.5h1M239 111.5h1M237 106.5h1M239 109.5h1M240 103.5h1M229 111.5h1M232 113.5h1M230 107.5h1M234 106.5h1M240 108.5h1M237 110.5h1M230 110.5h1M233 110.5h1M238 110.5h1M232 104.5h1M234 97.5h1M235 113.5h1M237 103.5h1M236 107.5h1M236 112.5h1M230 115.5h1M231 113.5h1M232 116.5h1M235 110.5h1M234 112.5h1M235 112.5h1M242 108.5h1M240 116.5h1M231 113.5h1M231 115.5h1M241 108.5h1M233 115.5h1M240 105.5h1M241 112.5h1M232 97.5h1M233 105.5h1M234 114.5h1M230 108.5h1M230 111.5h1M232 102.5h1M238 118.5h1M232 113.5h1M233 110.5h1M232 112.5h1M228 112.5h1M240 117.5h1M231 103.5h1M236 109.5h1M228 116.5h1M237 113.5h1M239 108.5h1M230 113.5h1M235 111.5h1M229 113.5h1M236 102.5h1M234 106.5h1M235 113.5h1M240 109.5h1M236 112.5h1M240 120.5h1M237 108.5h1M229 111.5h1M235 107.5h1M236 107.5h1M228 110.5h1M240 103.5h1M234 100.5h1M236 117.5h1M230 109.5h1M234 115.5h1M235 111.5h1M233 111.5h1M234 113.5h1M240 104.5h1M229 116.5h1M230 111.5h1M236 110.5h1M230 118.5h1M235 108.5h1M230 113.5h1M243 110.5h1M236 112.5h1M242 106.5h1M230 106.5h1M237 112.5h1M230 102.5h1M237 106.5h1M237 113.5h1M227 107.5h1M229 106.5h1M229 105.5h1M228 111.5h1M231 108.5h1M230 111.5h1M228 109.5h1M234 119.5h1M236 108.5h1M229 100.5h1M232 111.5h1M234 110.5h1M233 111.5h1M231 102.5h1M237 116.5h1M238 110.5h1M237 110.5h1M233 102.5h1M242 112.5h1M241 110.5h1M232 117.5h1M234 108.5h1M239 104.5h1M231 111.5h1M236 106.5h1M234 112.5h1M231 105.5h1M233 109.5h1M227 109.5h1M232 110.5h1M244 106.5h1M240 110.5h1M239 107.5h1M235 111.5h1M238 109.5h1M239 99.5h1M238 110.5h1M238 117.5h1M230 111.5h1M236 113.5h1M232 112.5h1M229 108.5h1M229 104.5h1M236 114.5h1M238 115.5h1M228 113.5h1M241 112.5h1M240 112.5h1M232 110.5h1M232 111.5h1M234 110.5h1M238 112.5h1M232 105.5h1M229 107.5h1M235 113.5h1M235 98.5h1M239 111.5h1M235 99.5h1M237 119.5h1M236 113.5h1M237 113.5h1M235 107.5h1M231 105.5h1M233 109.5h1M234 110.5h1M239 106.5h1M241 111.5h1M236 113.5h1M231 113.5h1M231 105.5h1M233 100.5h1M240 110.5h1M235 107.5h1M234 112.5h1M231 118.5h1M238 118.5h1M235 111.5h1M234 115.5h1M234 118.5h1M241 110.5h1M233 111.5h1M241 114.5h1M239 110.5h1M234 108.5h1M238 106.5h1M233 110.5h1M231 107.5h1M233 114.5h1M230 108.5h1M236 117.5h1M234 116.5h1M236 104.5h1M237 115.5h1M235 117.5h1M235 110.5h1M230 113.5h1M234 107.5h1M240 112.5h1M227 112.5h1M235 109.5h1M234 112.5h1M237 113.5h1M234 104.5h1M232 113.5h1M231 112.5h1M247 114.5h1M232 107.5h1M230 109.5h1M232 111.5h1M232 107.5h1M234 117.5h1M230 108.5h1M236 115.5h1M232 106.5h1M228 112.5h1M231 108.5h1M232 115.5h1M238 109.5h1M236 106.5h1M233 112.5h1M234 105.5h1M235 106.5h1M243 114.5h1M231 101.5h1M236 114.5h1M237 108.5h1M230 106.5h1M235 111.5h1M235 113.5h1M232 107.5h1M236 109.5h1M238 114.5h1M239 114.5h1M233 110.5h1M235 107.5h1M244 106.5h1M229 107.5h1M235 113.5h1M238 113.5h1M235 112.5h1M237 117.5h1M235 109.5h1M237 109.5h1M239 108.5h1M233 119.5h1M235 101.5h1M234 112.5h1M232 112.5h1M234 111.5h1M237 116.5h1M241 114.5h1M241 106.5h1M239 113.5h1M230 109.5h1M240 111.5h1M231 111.5h1M234 108.5h1M242 113.5h1M229 118.5h1M238 115.5h1M235 111.5h1M233 101.5h1M230 116.5h1M236 115.5h1M232 109.5h1M238 108.5h1M239 114.5h1M228 107.5h1M232 114.5h1M233 105.5h1M229 106.5h1M229 110.5h1M234 104.5h1M233 110.5h1M227 113.5h1M232 104.5h1M236 115.5h1M229 108.5h1M230 113.5h1M241 111.5h1M240 108.5h1M227 108.5h1M228 102.5h1M236 107.5h1M229 107.5h1M233 118.5h1M232 115.5h1M236 104.5h1M229 109.5h1M238 113.5h1M233 114.5h1M227 108.5h1M236 109.5h1M237 111.5h1M233 106.5h1M233 111.5h1M236 110.5h1M239 107.5h1M235 107.5h1M236 112.5h1M234 115.5h1M232 112.5h1M230 106.5h1M235 114.5h1M233 111.5h1M233 113.5h1M238 116.5h1M236 106.5h1M238 110.5h1M227 108.5h1M236 106.5h1M232 120.5h1M231 115.5h1M230 102.5h1M239 112.5h1M237 108.5h1M231 116.5h1M229 111.5h1M234 110.5h1M232 111.5h1M241 112.5h1M228 111.5h1M233 110.5h1M234 113.5h1M235 105.5h1M237 110.5h1M243 110.5h1M233 108.5h1M232 114.5h1M227 104.5h1M235 109.5h1M238 107.5h1M233 113.5h1M239 108.5h1M234 111.5h1M240 112.5h1M235 103.5h1M230 113.5h1M231 107.5h1M228 109.5h1M227 110.5h1M235 114.5h1M238 114.5h1M242 119.5h1M234 111.5h1M233 108.5h1M229 108.5h1M238 114.5h1M236 118.5h1M232 112.5h1M237 108.5h1M236 112.5h1M237 111.5h1M235 107.5h1M232 99.5h1M232 108.5h1M241 115.5h1M240 111.5h1M242 100.5h1M229 111.5h1M231 102.5h1M238 120.5h1M229 111.5h1M231 105.5h1M242 107.5h1M238 113.5h1M236 111.5h1M235 105.5h1M232 114.5h1M232 104.5h1M237 117.5h1M231 111.5h1M239 106.5h1M232 102.5h1M230 118.5h1M239 117.5h1M233 105.5h1M236 118.5h1M232 111.5h1M236 110.5h1M228 109.5h1M239 117.5h1M227 111.5h1M236 115.5h1M234 105.5h1M229 109.5h1M238 106.5h1M228 111.5h1M232 112.5h1M231 112.5h1M232 108.5h1M238 107.5h1M231 114.5h1M236 110.5h1M227 107.5h1M229 114.5h1M232 111.5h1M232 107.5h1M235 117.5h1M237 106.5h1M237 109.5h1M233 115.5h1M228 105.5h1M234 117.5h1M232 114.5h1M236 109.5h1M234 117.5h1M237 119.5h1M232 113.5h1M240 111.5h1M230 117.5h1M236 106.5h1M228 110.5h1M237 109.5h1M229 109.5h1M234 103.5h1M230 115.5h1M232 111.5h1M235 111.5h1M234 117.5h1M232 108.5h1M243 110.5h1M234 112.5h1M230 108.5h1M238 110.5h1M237 114.5h1M239 110.5h1M242 117.5h1M230 107.5h1M238 111.5h1M239 104.5h1M234 110.5h1M235 107.5h1M232 114.5h1M242 113.5h1M232 117.5h1M235 114.5h1M236 107.5h1M241 104.5h1M227 110.5h1M234 109.5h1M238 107.5h1M228 109.5h1M234 103.5h1M242 118.5h1M240 105.5h1M236 107.5h1M233 103.5h1M236 115.5h1M233 115.5h1M234 109.5h1M247 105.5h1M233 108.5h1M230 102.5h1M235 117.5h1M233 111.5h1M233 107.5h1M234 106.5h1M237 113.5h1M235 118.5h1M229 104.5h1M233 108.5h1M236 102.5h1M232 114.5h1M239 111.5h1M230 110.5h1M235 108.5h1M242 107.5h1M241 115.5h1M234 103.5h1M238 114.5h1M231 112.5h1M228 108.5h1M236 106.5h1M235 115.5h1M236 119.5h1M234 108.5h1M235 113.5h1M232 119.5h1M236 108.5h1M237 109.5h1M234 105.5h1M237 110.5h1M227 110.5h1M231 109.5h1M240 107.5h1M241 103.5h1M235 104.5h1M234 106.5h1M229 114.5h1M236 108.5h1M237 106.5h1M228 114.5h1M236 113.5h1M236 107.5h1M236 108.5h1M229 114.5h1M236 112.5h1M228 107.5h1M240 112.5h1M235 110.5h1M229 116.5h1M240 106.5h1M239 115.5h1M231 113.5h1M243 106.5h1M230 116.5h1M235 115.5h1M239 104.5h1M238 105.5h1M234 106.5h1M234 109.5h1M229 114.5h1M235 113.5h1M229 110.5h1M230 117.5h1M232 112.5h1M229 117.5h1M228 111.5h1M231 98.5h1M233 108.5h1M234 105.5h1M237 111.5h1M237 111.5h1M233 105.5h1M232 105.5h1M234 109.5h1M237 110.5h1M237 98.5h1M232 115.5h1M243 110.5h1M238 112.5h1M235 106.5h1M235 110.5h1M232 116.5h1M230 116.5h1M233 113.5h1M233 109.5h1M231 107.5h1M228 117.5h1M233 113.5h1M236 108.5h1M232 100.5h1M234 106.5h1M233 117.5h1M233 111.5h1M229 107.5h1M227 109.5h1M231 116.5h1M236 104.5h1M232 110.5h1M237 105.5h1M233 102.5h1M228 111.5h1M233 118.5h1M237 111.5h1M232 109.5h1M232 111.5h1M238 116.5h1M239 103.5h1M237 101.5h1M238 120.5h1M236 112.5h1M237 118.5h1M238 112.5h1M236 118.5h1M234 107.5h1M235 113.5h1M244 118.5h1M234 116.5h1M233 108.5h1M232 115.5h1M234 107.5h1M235 103.5h1M229 113.5h1M235 115.5h1M227 104.5h1M235 115.5h1M235 114.5h1M239 108.5h1M241 98.5h1M236 116.5h1M232 115.5h1M229 113.5h1M231 102.5h1M234 103.5h1M234 114.5h1M234 113.5h1M237 109.5h1M233 112.5h1M234 108.5h1M231 109.5h1M232 106.5h1M227 112.5h1M235 108.5h1M241 115.5h1M235 114.5h1M236 106.5h1M230 120.5h1M240 105.5h1M231 113.5h1M237 116.5h1M234 117.5h1M230 100.5h1M238 115.5h1M234 117.5h1M235 118.5h1M236 99.5h1M234 107.5h1M232 110.5h1M236 108.5h1M232 117.5h1M234 107.5h1M231 117.5h1M228 113.5h1M231 103.5h1M232 106.5h1M234 108.5h1M239 111.5h1M227 115.5h1M235 110.5h1M230 103.5h1M232 95.5h1M235 109.5h1M234 105.5h1M234 113.5h1M243 110.5h1M233 107.5h1M230 106.5h1M237 110.5h1M232 114.5h1M239 117.5h1M235 116.5h1M237 106.5h1M235 115.5h1M230 115.5h1M238 113.5h1M235 116.5h1M230 108.5h1M231 110.5h1M238 108.5h1M232 114.5h1M234 107.5h1M237 112.5h1M235 105.5h1M228 110.5h1M237 109.5h1M238 110.5h1M238 111.5h1M241 110.5h1M236 109.5h1M237 100.5h1M241 116.5h1M233 107.5h1M241 109.5h1M241 106.5h1M237 115.5h1M242 106.5h1M238 113.5h1M230 116.5h1M239 119.5h1M235 116.5h1M236 114.5h1M235 105.5h1M240 117.5h1M236 116.5h1M231 115.5h1M236 115.5h1M237 111.5h1M231 108.5h1M232 116.5h1M232 117.5h1M231 105.5h1M235 115.5h1M238 112.5h1M242 115.5h1M239 112.5h1M238 116.5h1M239 116.5h1M240 115.5h1M232 104.5h1M237 115.5h1M235 111.5h1M233 105.5h1M232 114.5h1M232 104.5h1M233 115.5h1M229 119.5h1M236 108.5h1M234 115.5h1M234 113.5h1M235 114.5h1M237 104.5h1M232 114.5h1M234 111.5h1M227 114.5h1M240 112.5h1M236 117.5h1M240 112.5h1M232 116.5h1M241 112.5h1M242 113.5h1M238 108.5h1M244 114.5h1M237 117.5h1M231 110.5h1M236 115.5h1M232 113.5h1M229 105.5h1M229 112.5h1M244 117.5h1M232 108.5h1M234 102.5h1M231 112.5h1M235 107.5h1M233 120.5h1M232 110.5h1M229 111.5h1M228 108.5h1M231 112.5h1M235 108.5h1M243 106.5h1M238 110.5h1M242 107.5h1M236 117.5h1M234 105.5h1M228 110.5h1M234 107.5h1M233 119.5h1M241 100.5h1M235 118.5h1M239 104.5h1M232 111.5h1M232 100.5h1M232 104.5h1M239 117.5h1M242 112.5h1M231 108.5h1M233 111.5h1M233 106.5h1M233 111.5h1M229 118.5h1M234 109.5h1M236 111.5h1M236 117.5h1M234 108.5h1M227 112.5h1M238 108.5h1M230 108.5h1M233 109.5h1M232 108.5h1M232 102.5h1M230 101.5h1M227 107.5h1M241 111.5h1M235 117.5h1M235 108.5h1M243 110.5h1M234 114.5h1M236 114.5h1M234 110.5h1M239 110.5h1M236 120.5h1M235 109.5h1M233 108.5h1M235 103.5h1M239 113.5h1M234 120.5h1M232 109.5h1M233 115.5h1M237 119.5h1M231 104.5h1M233 118.5h1M232 111.5h1M227 110.5h1M232 109.5h1M230 109.5h1M233 99.5h1M234 113.5h1M234 111.5h1M234 106.5h1M243 110.5h1M229 113.5h1M232 109.5h1M231 119.5h1M233 107.5h1M232 110.5h1M231 108.5h1M241 110.5h1M234 114.5h1M233 114.5h1M233 107.5h1M233 110.5h1M240 111.5h1M236 109.5h1M239 110.5h1M236 107.5h1M239 111.5h1M242 106.5h1M234 113.5h1M227 110.5h1M237 106.5h1M232 108.5h1M227 108.5h1M232 110.5h1M239 111.5h1M239 110.5h1M237 106.5h1M230 118.5h1M245 115.5h1M229 111.5h1M234 115.5h1M228 112.5h1M240 109.5h1M236 111.5h1M235 115.5h1M234 116.5h1M235 109.5h1M238 113.5h1M233 116.5h1M234 117.5h1M235 114.5h1M241 118.5h1M236 112.5h1M234 113.5h1M232 108.5h1M232 112.5h1M234 111.5h1M233 117.5h1M234 108.5h1M237 111.5h1M236 107.5h1M235 111.5h1M237 109.5h1M235 113.5h1M234 110.5h1M236 108.5h1M227 109.5h1M239 110.5h1M229 108.5h1M238 115.5h1M234 114.5h1M239 111.5h1M234 105.5h1M230 113.5h1M239 104.5h1M235 112.5h1M235 111.5h1M235 108.5h1M238 107.5h1M238 107.5h1M228 109.5h1M233 110.5h1M235 115.5h1M242 113.5h1M236 116.5h1M234 105.5h1M239 105.5h1M234 110.5h1M235 109.5h1M228 111.5h1M238 115.5h1M236 105.5h1M233 112.5h1M229 110.5h1M235 114.5h1M240 111.5h1M232 108.5h1M230 106.5h1M236 99.5h1M228 115.5h1M232 109.5h1M231 119.5h1M233 109.5h1M232 114.5h1M236 110.5h1M233 114.5h1M232 111.5h1M232 108.5h1M237 117.5h1M238 109.5h1M238 104.5h1M237 109.5h1M230 105.5h1M233 114.5h1M235 114.5h1M240 108.5h1M236 114.5h1M232 103.5h1M235 109.5h1M233 111.5h1M231 113.5h1M236 110.5h1M232 110.5h1M228 108.5h1M232 108.5h1M234 112.5h1M230 113.5h1M240 114.5h1M230 115.5h1M242 116.5h1M238 102.5h1M230 108.5h1M235 110.5h1M239 108.5h1M233 116.5h1M229 114.5h1M235 110.5h1M243 111.5h1M228 117.5h1M237 109.5h1M234 109.5h1M234 115.5h1M233 113.5h1M233 117.5h1M239 112.5h1M237 114.5h1M230 108.5h1M241 106.5h1M229 111.5h1M237 98.5h1M235 113.5h1M239 115.5h1M236 111.5h1M239 110.5h1M234 116.5h1M238 110.5h1M236 115.5h1M231 114.5h1M239 115.5h1M236 113.5h1M235 112.5h1M232 112.5h1M236 111.5h1M228 116.5h1M229 103.5h1M237 109.5h1M228 114.5h1M240 107.5h1M233 110.5h1M235 107.5h1M235 113.5h1M236 115.5h1M233 118.5h1M233 113.5h1M234 107.5h1M239 112.5h1M239 113.5h1M240 117.5h1M236 100.5h1M233 112.5h1M227 102.5h1M237 114.5h1M238 113.5h1M233 113.5h1M238 115.5h1M240 112.5h1M235 108.5h1M239 112.5h1M236 116.5h1M227 110.5h1M232 111.5h1M233 105.5h1M237 116.5h1M231 108.5h1M232 107.5h1M230 108.5h1M234 107.5h1M235 109.5h1M238 117.5h1M238 114.5h1M235 117.5h1M235 118.5h1M235 106.5h1M235 113.5h1M241 118.5h1M234 104.5h1M236 104.5h1M239 113.5h1M230 109.5h1M236 106.5h1M238 112.5h1M232 107.5h1M233 111.5h1M229 111.5h1M237 114.5h1M231 115.5h1M242 111.5h1M235 109.5h1M231 107.5h1M232 103.5h1M230 109.5h1M236 115.5h1M241 114.5h1M238 110.5h1M230 102.5h1M236 115.5h1M244 116.5h1M228 105.5h1M239 103.5h1M239 111.5h1M228 105.5h1M230 109.5h1M238 107.5h1M233 105.5h1M234 104.5h1M237 111.5h1M235 109.5h1M235 107.5h1M233 98.5h1M239 119.5h1M231 106.5h1M241 110.5h1M233 105.5h1M231 112.5h1M237 103.5h1M236 111.5h1M235 115.5h1M229 105.5h1M231 107.5h1M238 109.5h1M236 104.5h1M233 112.5h1M242 107.5h1M234 112.5h1M229 114.5h1M230 111.5h1M230 112.5h1M235 112.5h1M234 108.5h1M238 110.5h1M235 103.5h1M235 109.5h1M236 107.5h1M234 109.5h1M236 114.5h1M238 112.5h1M238 113.5h1M232 116.5h1M227 99.5h1M231 113.5h1M235 110.5h1M232 104.5h1M236 113.5h1M232 116.5h1M230 115.5h1M242 110.5h1M240 114.5h1M233 115.5h1M240 119.5h1M240 116.5h1M230 111.5h1M246 111.5h1M230 111.5h1M233 112.5h1M230 108.5h1M235 114.5h1M229 107.5h1M234 107.5h1M239 112.5h1M235 108.5h1M233 109.5h1M241 101.5h1M230 114.5h1M238 110.5h1M233 110.5h1M235 113.5h1M234 112.5h1M235 107.5h1M234 120.5h1M231 108.5h1M232 115.5h1M236 119.5h1M234 108.5h1M229 111.5h1M231 107.5h1M231 116.5h1M234 109.5h1M235 105.5h1M235 117.5h1M231 115.5h1M234 106.5h1M228 116.5h1M227 119.5h1M230 108.5h1M229 109.5h1M237 106.5h1M229 111.5h1M235 111.5h1M232 114.5h1M229 111.5h1M228 103.5h1M236 107.5h1M236 117.5h1M237 116.5h1M242 110.5h1M235 110.5h1M235 110.5h1M234 111.5h1M235 102.5h1M233 115.5h1M230 107.5h1M242 111.5h1M235 112.5h1M236 117.5h1M235 100.5h1M230 118.5h1M233 113.5h1M232 107.5h1M230 103.5h1M234 116.5h1M232 112.5h1M232 113.5h1M237 109.5h1M230 107.5h1M236 115.5h1M231 106.5h1M236 115.5h1M234 103.5h1M235 106.5h1M230 104.5h1M231 117.5h1M230 102.5h1M235 105.5h1M237 114.5h1M239 112.5h1M234 119.5h1M227 113.5h1M230 102.5h1M231 106.5h1M227 109.5h1M227 110.5h1M236 104.5h1M231 106.5h1M227 106.5h1M244 116.5h1M235 113.5h1M233 109.5h1M237 109.5h1M231 112.5h1M241 107.5h1M227 109.5h1M228 102.5h1M233 114.5h1M231 115.5h1M240 112.5h1M227 113.5h1M231 112.5h1M236 111.5h1M238 104.5h1M235 105.5h1M243 114.5h1M232 116.5h1M235 114.5h1M237 115.5h1M233 111.5h1M233 103.5h1M232 107.5h1M231 102.5h1M229 109.5h1M232 104.5h1M227 111.5h1M235 110.5h1M227 101.5h1M242 114.5h1M241 114.5h1M238 104.5h1M233 111.5h1M231 114.5h1M239 109.5h1M235 115.5h1M236 111.5h1M231 116.5h1M238 111.5h1M230 110.5h1M234 113.5h1M227 114.5h1M231 112.5h1M236 108.5h1M232 107.5h1M232 109.5h1M237 108.5h1M233 111.5h1M239 111.5h1M236 110.5h1M236 111.5h1M227 118.5h1M228 116.5h1M237 108.5h1M229 112.5h1M231 109.5h1M237 117.5h1M236 115.5h1M234 118.5h1M229 113.5h1M239 118.5h1M246 105.5h1M232 113.5h1M241 116.5h1M235 104.5h1M240 102.5h1M232 112.5h1M236 110.5h1M237 113.5h1M239 104.5h1M237 111.5h1M242 107.5h1M238 107.5h1M239 102.5h1M240 114.5h1M231 100.5h1M235 114.5h1M235 115.5h1M253 106.5h1M250 107.5h1M235 102.5h1M235 104.5h1M240 110.5h1M242 113.5h1M233 110.5h1M231 115.5h1M251 110.5h1M245 102.5h1M227 118.5h1M232 105.5h1M242 112.5h1M236 110.5h1M239 93.5h1M242 99.5h1M238 114.5h1M234 108.5h1M242 103.5h1M237 119.5h1M230 112.5h1M238 101.5h1M229 105.5h1M244 115.5h1M231 96.5h1M239 111.5h1M246 107.5h1M237 108.5h1M249 99.5h1M227 106.5h1M237 119.5h1M228 112.5h1M237 114.5h1M227 111.5h1M234 115.5h1M239 102.5h1M240 107.5h1M241 115.5h1M246 105.5h1M243 106.5h1M243 117.5h1M231 119.5h1M237 105.5h1M260 104.5h1M253 113.5h1M243 111.5h1M243 105.5h1M245 113.5h1M235 113.5h1M251 110.5h1M237 118.5h1M253 114.5h1M233 105.5h1M237 111.5h1M235 110.5h1M239 106.5h1M233 111.5h1M237 111.5h1M230 109.5h1M235 106.5h1M228 115.5h1M242 99.5h1M229 115.5h1M243 109.5h1M235 111.5h1M236 94.5h1M246 120.5h1M239 98.5h1M241 113.5h1M240 107.5h1M235 95.5h1M228 107.5h1M238 111.5h1M236 114.5h1M252 107.5h1M235 111.5h1M251 112.5h1M247 105.5h1M234 105.5h1M247 104.5h1M237 117.5h1M239 110.5h1M236 119.5h1M229 105.5h1M235 113.5h1M231 111.5h1M227 108.5h1M236 111.5h1M250 104.5h1M249 109.5h1M237 107.5h1M239 114.5h1M241 109.5h1M247 100.5h1M240 107.5h1M234 109.5h1M235 104.5h1M246 118.5h1M256 112.5h1M233 115.5h1M243 107.5h1M237 116.5h1M239 100.5h1M246 112.5h1M238 110.5h1M229 106.5h1M237 102.5h1M230 111.5h1M240 102.5h1M229 101.5h1M235 118.5h1M228 105.5h1M235 96.5h1M235 116.5h1M242 104.5h1M247 87.5h1M237 109.5h1M232 115.5h1M251 112.5h1M242 108.5h1M242 113.5h1M248 103.5h1M245 110.5h1M243 119.5h1M243 113.5h1M232 110.5h1M234 97.5h1M237 107.5h1M238 101.5h1M238 114.5h1M240 105.5h1M238 112.5h1M235 103.5h1M244 102.5h1M242 110.5h1M241 111.5h1M241 104.5h1M238 113.5h1M229 115.5h1M234 97.5h1M249 111.5h1M232 96.5h1M230 110.5h1M234 106.5h1M240 114.5h1M242 120.5h1M238 108.5h1M234 98.5h1M245 118.5h1M245 119.5h1M237 113.5h1M246 104.5h1M233 115.5h1M244 115.5h1M236 120.5h1M229 104.5h1M233 116.5h1M229 115.5h1M242 100.5h1M245 105.5h1M238 112.5h1M228 108.5h1M236 109.5h1M245 109.5h1M246 110.5h1M247 113.5h1M237 113.5h1M239 109.5h1M239 111.5h1M242 106.5h1M235 114.5h1M246 106.5h1M240 120.5h1M246 109.5h1M241 111.5h1M243 104.5h1M233 107.5h1M235 110.5h1M229 109.5h1M236 105.5h1M237 102.5h1M244 110.5h1M229 110.5h1M260 113.5h1M237 117.5h1M247 107.5h1M245 96.5h1M236 97.5h1M248 101.5h1M243 113.5h1M231 105.5h1M235 105.5h1M239 109.5h1M239 112.5h1M233 107.5h1M243 103.5h1M262 116.5h1M240 105.5h1M242 116.5h1M237 103.5h1M233 114.5h1M240 107.5h1M248 104.5h1M239 108.5h1M244 112.5h1M236 112.5h1M255 120.5h1M242 92.5h1M242 107.5h1M240 96.5h1M230 107.5h1M230 113.5h1M236 101.5h1M238 102.5h1M229 110.5h1M230 107.5h1M242 120.5h1M245 111.5h1M234 113.5h1M233 106.5h1M255 109.5h1M241 103.5h1M237 111.5h1M245 116.5h1M254 118.5h1M246 109.5h1M228 105.5h1M237 104.5h1M235 100.5h1M235 110.5h1M229 118.5h1M235 94.5h1M230 95.5h1M240 118.5h1M238 99.5h1M228 112.5h1M234 114.5h1M242 114.5h1M241 110.5h1M237 115.5h1M234 113.5h1M235 117.5h1M229 105.5h1M235 104.5h1M233 108.5h1M257 108.5h1M243 110.5h1M236 106.5h1M237 114.5h1M237 110.5h1M239 112.5h1M235 109.5h1M238 113.5h1M245 102.5h1M244 120.5h1M240 112.5h1M247 112.5h1M239 113.5h1M231 116.5h1M233 111.5h1M237 108.5h1M241 99.5h1M245 111.5h1M234 107.5h1M232 107.5h1M246 97.5h1M234 110.5h1M240 117.5h1M247 116.5h1M240 118.5h1M237 101.5h1M247 114.5h1M242 108.5h1M234 111.5h1M229 111.5h1M237 112.5h1M237 108.5h1M245 110.5h1M229 105.5h1M248 109.5h1M238 106.5h1M246 111.5h1M231 100.5h1M240 100.5h1M246 113.5h1M239 111.5h1M227 103.5h1M235 108.5h1M241 103.5h1M228 99.5h1M231 104.5h1M242 112.5h1M229 108.5h1M232 116.5h1M248 115.5h1M232 108.5h1M238 104.5h1M231 119.5h1M245 110.5h1M239 108.5h1M241 111.5h1M236 110.5h1M236 104.5h1M243 118.5h1M236 109.5h1M236 113.5h1M241 119.5h1M248 108.5h1M232 104.5h1M242 116.5h1M236 113.5h1M235 108.5h1M243 119.5h1M232 111.5h1M230 98.5h1M242 112.5h1M238 109.5h1M237 109.5h1M241 108.5h1M235 112.5h1M243 111.5h1M241 100.5h1M248 110.5h1M247 107.5h1M244 119.5h1M239 102.5h1M234 103.5h1M258 104.5h1M236 105.5h1M242 105.5h1M247 110.5h1M228 117.5h1M232 101.5h1M235 100.5h1M231 98.5h1M229 117.5h1M234 118.5h1M247 100.5h1M243 99.5h1M238 110.5h1M238 117.5h1M243 111.5h1M241 114.5h1M230 112.5h1M239 106.5h1M234 110.5h1M231 102.5h1M233 107.5h1M231 100.5h1M241 110.5h1M240 117.5h1M240 101.5h1M237 117.5h1M252 112.5h1M246 104.5h1M240 107.5h1M238 101.5h1M234 101.5h1M236 108.5h1M229 108.5h1M228 114.5h1M237 102.5h1M244 117.5h1M246 115.5h1M240 107.5h1M239 117.5h1M241 104.5h1M243 107.5h1M250 116.5h1M238 109.5h1M244 111.5h1M237 105.5h1M229 108.5h1M248 105.5h1M254 107.5h1M242 113.5h1M229 103.5h1M237 114.5h1M238 110.5h1M239 115.5h1M245 115.5h1M245 118.5h1M247 114.5h1M234 108.5h1M234 113.5h1M248 104.5h1M236 108.5h1M228 114.5h1M229 109.5h1M238 113.5h1M244 103.5h1M248 119.5h1M237 106.5h1M235 112.5h1M249 109.5h1M235 116.5h1M248 107.5h1M239 103.5h1M239 97.5h1M236 108.5h1M240 102.5h1M235 113.5h1M233 119.5h1M237 95.5h1M233 101.5h1M240 112.5h1M238 118.5h1M236 112.5h1M236 112.5h1M236 113.5h1M250 113.5h1M234 114.5h1M236 102.5h1M242 107.5h1M236 111.5h1M237 104.5h1M236 108.5h1M239 106.5h1M241 105.5h1M241 114.5h1M230 102.5h1M243 110.5h1M247 111.5h1M239 119.5h1M246 113.5h1M238 96.5h1M237 112.5h1M227 104.5h1M232 101.5h1M234 103.5h1M249 99.5h1M235 106.5h1M240 117.5h1M240 114.5h1M232 98.5h1M233 106.5h1M228 108.5h1M236 115.5h1M237 106.5h1M237 108.5h1M237 119.5h1M241 98.5h1M231 107.5h1M244 113.5h1M238 105.5h1M241 101.5h1M232 111.5h1M227 106.5h1M242 115.5h1M233 116.5h1M243 110.5h1M243 107.5h1M238 111.5h1M238 110.5h1M245 102.5h1M240 117.5h1M231 111.5h1M239 115.5h1M242 101.5h1M239 115.5h1M237 114.5h1M237 100.5h1M231 110.5h1M228 109.5h1M246 111.5h1M233 108.5h1M239 113.5h1M227 107.5h1M239 111.5h1M232 105.5h1M258 110.5h1M231 116.5h1M231 106.5h1M244 114.5h1M246 104.5h1M240 108.5h1M244 118.5h1M229 105.5h1M243 118.5h1M234 100.5h1M231 109.5h1M235 116.5h1M235 114.5h1M228 103.5h1M253 102.5h1M235 115.5h1M233 101.5h1M244 113.5h1M237 106.5h1M247 109.5h1M240 120.5h1M238 115.5h1M239 101.5h1M236 112.5h1M237 110.5h1M249 109.5h1M233 118.5h1M234 98.5h1M235 112.5h1M242 110.5h1M241 105.5h1M228 101.5h1M240 110.5h1M237 110.5h1M236 95.5h1M239 100.5h1M240 115.5h1M239 116.5h1M228 113.5h1M237 111.5h1M249 95.5h1M235 111.5h1M242 106.5h1M236 117.5h1M232 118.5h1M235 114.5h1M247 115.5h1M243 103.5h1M233 110.5h1M245 101.5h1M237 115.5h1M233 102.5h1M241 108.5h1M231 104.5h1M227 106.5h1M247 113.5h1M242 111.5h1M227 103.5h1M238 119.5h1M236 105.5h1M235 116.5h1M237 93.5h1M238 103.5h1M232 108.5h1M237 117.5h1M245 106.5h1M233 112.5h1M240 105.5h1M230 113.5h1M240 101.5h1M242 115.5h1M255 90.5h1M244 97.5h1M248 111.5h1M231 104.5h1M234 116.5h1M234 117.5h1M245 107.5h1M239 114.5h1M247 113.5h1M228 99.5h1M240 113.5h1M234 108.5h1M236 118.5h1M244 105.5h1M239 105.5h1M231 111.5h1M229 114.5h1M232 107.5h1M247 109.5h1M237 114.5h1M236 112.5h1M241 117.5h1M238 111.5h1M239 104.5h1M243 98.5h1M240 115.5h1M244 107.5h1M230 107.5h1M238 108.5h1M235 99.5h1M239 107.5h1M238 92.5h1M234 107.5h1M236 103.5h1M234 112.5h1M229 108.5h1M242 111.5h1M245 114.5h1M236 104.5h1M239 108.5h1M232 107.5h1M246 110.5h1M243 96.5h1M239 115.5h1M227 103.5h1M241 109.5h1M245 116.5h1M252 106.5h1M241 108.5h1M245 101.5h1M230 102.5h1M234 103.5h1M254 116.5h1M240 100.5h1M250 112.5h1M249 101.5h1M243 119.5h1M248 115.5h1M247 104.5h1M244 107.5h1M248 103.5h1M248 109.5h1M241 112.5h1M242 101.5h1M248 117.5h1M256 106.5h1M256 111.5h1M249 115.5h1M253 113.5h1M248 112.5h1M254 108.5h1M248 109.5h1M250 110.5h1M246 117.5h1M247 100.5h1M259 106.5h1M240 102.5h1M247 104.5h1M244 105.5h1M253 116.5h1M245 118.5h1M230 102.5h1M251 110.5h1M251 102.5h1M237 112.5h1M246 117.5h1M247 113.5h1M233 115.5h1M252 109.5h1M250 97.5h1M249 97.5h1M241 109.5h1M243 113.5h1M243 117.5h1M250 107.5h1M241 110.5h1M256 111.5h1M250 116.5h1M234 109.5h1M258 103.5h1M248 116.5h1M244 112.5h1M248 112.5h1M236 102.5h1M248 109.5h1M232 99.5h1M241 97.5h1M256 108.5h1M255 107.5h1M245 113.5h1M241 118.5h1M253 109.5h1M249 106.5h1M251 114.5h1M241 102.5h1M252 110.5h1M234 108.5h1M256 108.5h1M237 113.5h1M243 98.5h1M243 110.5h1M252 104.5h1M252 110.5h1M250 112.5h1M251 107.5h1M250 107.5h1M247 102.5h1M235 113.5h1M233 105.5h1M233 112.5h1M247 101.5h1M246 118.5h1M246 103.5h1M249 117.5h1M246 107.5h1M241 113.5h1M238 109.5h1M235 114.5h1M255 110.5h1M253 117.5h1M239 114.5h1M246 114.5h1M250 120.5h1M257 105.5h1M243 118.5h1M248 110.5h1M254 100.5h1M236 112.5h1M243 108.5h1M247 120.5h1M243 106.5h1M260 110.5h1M253 111.5h1M248 98.5h1M241 113.5h1M253 103.5h1M251 118.5h1M244 120.5h1M244 109.5h1M238 100.5h1M247 111.5h1M253 111.5h1M253 114.5h1M251 108.5h1M252 102.5h1M243 109.5h1M244 104.5h1M250 105.5h1M242 105.5h1M250 109.5h1M252 102.5h1M252 107.5h1M248 109.5h1M244 106.5h1M250 108.5h1M258 117.5h1M248 112.5h1M243 101.5h1M249 107.5h1M239 114.5h1M249 105.5h1M245 110.5h1M253 109.5h1M248 113.5h1M254 108.5h1M262 109.5h1M246 104.5h1M242 112.5h1M250 104.5h1M248 109.5h1M243 108.5h1M251 114.5h1M248 109.5h1M234 110.5h1M246 109.5h1M249 105.5h1M255 104.5h1M244 105.5h1M242 116.5h1M254 106.5h1M243 107.5h1M248 107.5h1M250 114.5h1M247 104.5h1M240 113.5h1M253 110.5h1M244 108.5h1M244 113.5h1M260 102.5h1M253 115.5h1M241 111.5h1M244 103.5h1M246 119.5h1M242 115.5h1M235 117.5h1M252 101.5h1M252 108.5h1M249 106.5h1M245 113.5h1M248 118.5h1M251 98.5h1M241 110.5h1M245 109.5h1M244 116.5h1M251 109.5h1M249 102.5h1M239 108.5h1M243 103.5h1M258 105.5h1M241 110.5h1M248 107.5h1M243 111.5h1M255 100.5h1M244 117.5h1M240 114.5h1M246 102.5h1M252 96.5h1M251 104.5h1M239 108.5h1M246 118.5h1M241 106.5h1M248 117.5h1M243 117.5h1M243 110.5h1M243 117.5h1M247 112.5h1M244 105.5h1M236 102.5h1M250 109.5h1M244 116.5h1M255 101.5h1M250 100.5h1M251 113.5h1M248 93.5h1M245 107.5h1M241 114.5h1M230 101.5h1M245 103.5h1M244 108.5h1M255 109.5h1M251 111.5h1M248 116.5h1M245 118.5h1M254 110.5h1M243 107.5h1M244 109.5h1M252 111.5h1M251 118.5h1M260 110.5h1M235 104.5h1M251 113.5h1M246 117.5h1M257 112.5h1M258 104.5h1M243 105.5h1M244 109.5h1M239 111.5h1M250 108.5h1M251 101.5h1M251 105.5h1M239 113.5h1M242 115.5h1M238 101.5h1M237 107.5h1M239 99.5h1M237 106.5h1M250 110.5h1M251 107.5h1M247 106.5h1M243 102.5h1M247 98.5h1M251 109.5h1M245 108.5h1M247 119.5h1M245 99.5h1M244 112.5h1M247 118.5h1M255 95.5h1M234 96.5h1M250 97.5h1M252 110.5h1M260 101.5h1M239 101.5h1M240 104.5h1M228 119.5h1M232 100.5h1M252 101.5h1M236 100.5h1M257 101.5h1M238 101.5h1M253 115.5h1M239 119.5h1M252 104.5h1M241 116.5h1M234 96.5h1M234 106.5h1M236 115.5h1M231 95.5h1M256 120.5h1M257 104.5h1M253 106.5h1M227 119.5h1M256 118.5h1M253 99.5h1M255 105.5h1M248 113.5h1M234 105.5h1M237 118.5h1M240 98.5h1M233 119.5h1M228 110.5h1M258 110.5h1M240 111.5h1M247 100.5h1M231 105.5h1M255 99.5h1M252 115.5h1M228 102.5h1M234 97.5h1M252 117.5h1M229 102.5h1M228 119.5h1M231 105.5h1M232 111.5h1M253 114.5h1M253 107.5h1M246 118.5h1M237 115.5h1M253 117.5h1M248 107.5h1M229 96.5h1M233 98.5h1M250 97.5h1M246 107.5h1M240 119.5h1M245 108.5h1M235 105.5h1M246 96.5h1M232 103.5h1M260 98.5h1M254 105.5h1M243 105.5h1M259 118.5h1M249 104.5h1M246 117.5h1M248 94.5h1M250 102.5h1M260 112.5h1M253 105.5h1M235 95.5h1M229 103.5h1M257 108.5h1M251 119.5h1M246 99.5h1M243 95.5h1M258 113.5h1M228 110.5h1M232 102.5h1M237 104.5h1M260 102.5h1M250 111.5h1M247 116.5h1M238 101.5h1M232 118.5h1M228 104.5h1M232 106.5h1M233 100.5h1M244 95.5h1M239 98.5h1M259 100.5h1M257 105.5h1M245 106.5h1M232 116.5h1M237 103.5h1M228 114.5h1M249 100.5h1M240 106.5h1M258 95.5h1M237 117.5h1M255 103.5h1M240 110.5h1M249 108.5h1M239 106.5h1M254 99.5h1M234 115.5h1M232 106.5h1M229 97.5h1M240 96.5h1M251 107.5h1M242 108.5h1M255 100.5h1M246 99.5h1M245 115.5h1M243 111.5h1M228 97.5h1M246 115.5h1M233 95.5h1M318 12.5h1M307 16.5h1M303 15.5h1M300 14.5h1M308 14.5h1M302 14.5h1M308 13.5h1M311 13.5h1M307 14.5h1M305 14.5h1M315 13.5h1M308 13.5h1M310 12.5h1M314 14.5h1M303 14.5h1M268 102.5h1M266 101.5h1M263 110.5h1M270 100.5h1M267 103.5h1M272 99.5h1M276 96.5h1M280 92.5h1M275 96.5h1M279 94.5h1M279 102.5h1M282 91.5h1M273 94.5h1M281 98.5h1M284 94.5h1M286 96.5h1M284 97.5h1M290 84.5h1M292 89.5h1M291 86.5h1M291 97.5h1M292 89.5h1M295 91.5h1M299 97.5h1M302 86.5h1M297 87.5h1M297 88.5h1M299 84.5h1M306 91.5h1M305 88.5h1M306 88.5h1M308 83.5h1M309 80.5h1M309 79.5h1M308 78.5h1M310 71.5h1M314 81.5h1M316 82.5h1M272 99.5h1M289 106.5h1M278 110.5h1M296 110.5h1M293 110.5h1M288 94.5h1M276 94.5h1M279 115.5h1M275 96.5h1M274 102.5h1M262 115.5h1M272 93.5h1M288 115.5h1M283 110.5h1M275 102.5h1M274 98.5h1M269 106.5h1M265 114.5h1M268 97.5h1M286 99.5h1M297 105.5h1M288 114.5h1M275 103.5h1M283 103.5h1M267 118.5h1M265 106.5h1M264 113.5h1M284 110.5h1M284 107.5h1M268 104.5h1M298 110.5h1M267 114.5h1M281 96.5h1M287 99.5h1M263 98.5h1M299 89.5h1M300 88.5h1M304 87.5h1M305 83.5h1M304 79.5h1M307 77.5h1M307 74.5h1M305 71.5h1M313 69.5h1M315 66.5h1M237 52.5h1M230 71.5h1M242 84.5h1M247 82.5h1M252 83.5h1M258 81.5h1M245 86.5h1M256 84.5h1" stroke="#000" stroke-opacity="0.88" stroke-width="1" fill="none"/>
<path d="M226.0 7.1V120.7H344.7" fill="none" stroke="#000" stroke-width="1.4" stroke-linecap="square"/>
<path d="M226.0 7.3H344.2V120.7" fill="none" stroke="#1a1a1a" stroke-width="1.15"/>
<path d="M226.80 120.70v4.6M256.20 120.70v4.6M285.60 120.70v4.6M315.00 120.70v4.6M344.40 120.70v4.6" stroke="#000" stroke-width="1.2" fill="none"/>
<path d="M235.65 120.70v2.5M240.83 120.70v2.5M244.50 120.70v2.5M247.35 120.70v2.5M249.68 120.70v2.5M251.65 120.70v2.5M253.35 120.70v2.5M254.85 120.70v2.5M265.05 120.70v2.5M270.23 120.70v2.5M273.90 120.70v2.5M276.75 120.70v2.5M279.08 120.70v2.5M281.05 120.70v2.5M282.75 120.70v2.5M284.25 120.70v2.5M294.45 120.70v2.5M299.63 120.70v2.5M303.30 120.70v2.5M306.15 120.70v2.5M308.48 120.70v2.5M310.45 120.70v2.5M312.15 120.70v2.5M313.65 120.70v2.5M323.85 120.70v2.5M329.03 120.70v2.5M332.70 120.70v2.5M335.55 120.70v2.5M337.88 120.70v2.5M339.85 120.70v2.5M341.55 120.70v2.5M343.05 120.70v2.5" stroke="#000" stroke-width="0.9" fill="none"/>
<path d="M226.00 120.50h-4.6M226.00 92.40h-4.6M226.00 64.30h-4.6M226.00 36.20h-4.6M226.00 8.10h-4.6" stroke="#000" stroke-width="1.2" fill="none"/>
<path d="M226.00 112.04h-2.8M226.00 107.09h-2.8M226.00 103.58h-2.8M226.00 100.86h-2.8M226.00 98.63h-2.8M226.00 96.75h-2.8M226.00 95.12h-2.8M226.00 93.69h-2.8M226.00 83.94h-2.8M226.00 78.99h-2.8M226.00 75.48h-2.8M226.00 72.76h-2.8M226.00 70.53h-2.8M226.00 68.65h-2.8M226.00 67.02h-2.8M226.00 65.59h-2.8M226.00 55.84h-2.8M226.00 50.89h-2.8M226.00 47.38h-2.8M226.00 44.66h-2.8M226.00 42.43h-2.8M226.00 40.55h-2.8M226.00 38.92h-2.8M226.00 37.49h-2.8M226.00 27.74h-2.8M226.00 22.79h-2.8M226.00 19.28h-2.8M226.00 16.56h-2.8M226.00 14.33h-2.8M226.00 12.45h-2.8M226.00 10.82h-2.8M226.00 9.39h-2.8" stroke="#000" stroke-width="0.9" fill="none"/>
<g transform="translate(227.60,135.50)"><text transform="translate(1.6,0) scale(0.81,1)" text-anchor="end" font-size="9.9" fill="#111" stroke="#111" stroke-width="0.35">10</text><text transform="translate(1.9,-4.3) scale(0.81,1)" font-size="9.9" fill="#111" stroke="#111" stroke-width="0.35">0</text></g>
<g transform="translate(220.00,120.50) rotate(-90)"><text transform="translate(1.6,0) scale(0.81,1)" text-anchor="end" font-size="9.9" fill="#111" stroke="#111" stroke-width="0.35">10</text><text transform="translate(1.9,-5.2) scale(0.81,1)" font-size="9.9" fill="#111" stroke="#111" stroke-width="0.35">0</text></g>
<g transform="translate(257.00,135.50)"><text transform="translate(1.6,0) scale(0.81,1)" text-anchor="end" font-size="9.9" fill="#111" stroke="#111" stroke-width="0.35">10</text><text transform="translate(1.9,-4.3) scale(0.81,1)" font-size="9.9" fill="#111" stroke="#111" stroke-width="0.35">1</text></g>
<g transform="translate(220.00,92.40) rotate(-90)"><text transform="translate(1.6,0) scale(0.81,1)" text-anchor="end" font-size="9.9" fill="#111" stroke="#111" stroke-width="0.35">10</text><text transform="translate(1.9,-5.2) scale(0.81,1)" font-size="9.9" fill="#111" stroke="#111" stroke-width="0.35">1</text></g>
<g transform="translate(286.40,135.50)"><text transform="translate(1.6,0) scale(0.81,1)" text-anchor="end" font-size="9.9" fill="#111" stroke="#111" stroke-width="0.35">10</text><text transform="translate(1.9,-4.3) scale(0.81,1)" font-size="9.9" fill="#111" stroke="#111" stroke-width="0.35">2</text></g>
<g transform="translate(220.00,64.30) rotate(-90)"><text transform="translate(1.6,0) scale(0.81,1)" text-anchor="end" font-size="9.9" fill="#111" stroke="#111" stroke-width="0.35">10</text><text transform="translate(1.9,-5.2) scale(0.81,1)" font-size="9.9" fill="#111" stroke="#111" stroke-width="0.35">2</text></g>
<g transform="translate(315.80,135.50)"><text transform="translate(1.6,0) scale(0.81,1)" text-anchor="end" font-size="9.9" fill="#111" stroke="#111" stroke-width="0.35">10</text><text transform="translate(1.9,-4.3) scale(0.81,1)" font-size="9.9" fill="#111" stroke="#111" stroke-width="0.35">3</text></g>
<g transform="translate(220.00,36.20) rotate(-90)"><text transform="translate(1.6,0) scale(0.81,1)" text-anchor="end" font-size="9.9" fill="#111" stroke="#111" stroke-width="0.35">10</text><text transform="translate(1.9,-5.2) scale(0.81,1)" font-size="9.9" fill="#111" stroke="#111" stroke-width="0.35">3</text></g>
<g transform="translate(345.20,135.50)"><text transform="translate(1.6,0) scale(0.81,1)" text-anchor="end" font-size="9.9" fill="#111" stroke="#111" stroke-width="0.35">10</text><text transform="translate(1.9,-4.3) scale(0.81,1)" font-size="9.9" fill="#111" stroke="#111" stroke-width="0.35">4</text></g>
<g transform="translate(220.00,8.10) rotate(-90)"><text transform="translate(1.6,0) scale(0.81,1)" text-anchor="end" font-size="9.9" fill="#111" stroke="#111" stroke-width="0.35">10</text><text transform="translate(1.9,-5.2) scale(0.81,1)" font-size="9.9" fill="#111" stroke="#111" stroke-width="0.35">4</text></g>
<rect x="226.6" y="89.2" width="34.6" height="31.0" fill="none" stroke="#000" stroke-width="2"/>
<text transform="translate(288.60,148.70)" text-anchor="middle" font-size="13.8" font-weight="bold" fill="#111" stroke="#111" stroke-width="0.22" >Annexin V</text>
<text transform="translate(201.90,66.50) rotate(-90)" text-anchor="middle" font-size="14" font-weight="bold" fill="#111" stroke="#111" stroke-width="0.22" >PI</text>
<path d="M437 97.5h1M438 112.5h1M436 116.5h1M441 92.5h1M435 117.5h1M438 93.5h1M439 87.5h1M439 90.5h1M439 87.5h1M441 94.5h1M436 112.5h1M438 102.5h1M439 113.5h1M438 89.5h1M437 111.5h1M441 91.5h1M437 97.5h1M438 117.5h1M438 111.5h1M438 111.5h1M439 108.5h1M438 98.5h1M439 107.5h1M439 100.5h1M439 113.5h1M441 109.5h1M437 116.5h1M441 114.5h1M438 114.5h1M439 89.5h1M439 87.5h1M438 99.5h1M435 118.5h1M441 106.5h1M437 105.5h1M437 114.5h1M440 107.5h1M438 90.5h1M442 102.5h1M441 115.5h1M440 113.5h1M439 88.5h1M440 120.5h1M436 104.5h1M439 96.5h1M439 100.5h1M438 118.5h1M439 116.5h1M436 98.5h1M440 107.5h1M441 88.5h1M436 113.5h1M439 89.5h1M441 110.5h1M439 97.5h1M437 91.5h1M437 91.5h1M440 119.5h1M441 93.5h1M437 102.5h1M438 91.5h1M437 102.5h1M438 114.5h1M439 94.5h1M438 110.5h1M437 98.5h1M442 90.5h1M438 113.5h1M438 98.5h1M440 107.5h1M438 118.5h1M438 110.5h1M440 97.5h1M437 107.5h1M440 111.5h1M440 93.5h1M439 118.5h1M438 94.5h1M438 87.5h1M435 104.5h1M438 102.5h1M439 91.5h1M440 102.5h1M439 95.5h1M438 113.5h1M437 103.5h1M438 104.5h1M439 91.5h1M440 118.5h1M438 95.5h1M437 106.5h1M438 112.5h1M438 103.5h1M438 97.5h1M435 108.5h1M436 110.5h1M436 91.5h1M439 95.5h1M438 92.5h1M439 87.5h1M440 107.5h1M437 120.5h1M440 95.5h1M439 118.5h1M437 99.5h1M441 117.5h1M436 89.5h1M436 97.5h1M438 114.5h1M439 117.5h1M438 113.5h1M435 109.5h1M438 96.5h1M438 119.5h1M443 105.5h1M441 114.5h1M439 99.5h1M436 118.5h1M439 107.5h1M436 110.5h1M439 91.5h1M439 100.5h1M438 89.5h1M439 98.5h1M438 105.5h1M437 96.5h1M441 86.5h1M439 100.5h1M438 111.5h1M437 99.5h1M439 112.5h1M439 99.5h1M440 104.5h1M441 96.5h1M439 89.5h1M436 112.5h1M442 103.5h1M440 113.5h1M440 112.5h1M441 112.5h1M436 99.5h1M438 96.5h1M437 94.5h1M440 102.5h1M436 106.5h1M438 115.5h1M441 120.5h1M439 111.5h1M438 105.5h1M441 96.5h1M436 106.5h1M439 96.5h1M438 115.5h1M439 94.5h1M438 100.5h1M437 94.5h1M439 93.5h1M436 112.5h1M439 93.5h1M438 97.5h1M440 87.5h1M438 117.5h1M437 116.5h1M439 99.5h1M440 117.5h1M435 94.5h1M439 94.5h1M439 105.5h1M436 93.5h1M437 116.5h1M439 119.5h1M437 90.5h1M437 101.5h1M441 100.5h1M437 119.5h1M437 119.5h1M434 88.5h1M436 118.5h1M436 108.5h1M441 102.5h1M440 101.5h1M436 115.5h1M442 90.5h1M440 99.5h1M438 89.5h1M440 99.5h1M439 113.5h1M437 114.5h1M435 91.5h1M437 94.5h1M438 110.5h1M438 92.5h1M437 88.5h1M440 115.5h1M437 87.5h1M440 116.5h1M438 106.5h1M438 99.5h1M436 96.5h1M438 99.5h1M437 116.5h1M435 105.5h1M438 91.5h1M438 105.5h1M440 96.5h1M439 116.5h1M437 91.5h1M437 103.5h1M434 87.5h1M436 95.5h1M440 110.5h1M441 107.5h1M440 117.5h1M439 91.5h1M439 102.5h1M439 89.5h1M435 109.5h1M437 90.5h1M440 117.5h1M440 102.5h1M439 104.5h1M438 98.5h1M438 99.5h1M437 115.5h1M437 112.5h1M435 99.5h1M439 113.5h1M438 99.5h1M438 89.5h1M441 94.5h1M439 100.5h1M437 101.5h1M439 92.5h1M436 110.5h1M440 94.5h1M439 108.5h1M438 104.5h1M439 108.5h1M441 116.5h1M438 110.5h1M437 107.5h1M442 109.5h1M438 103.5h1M441 119.5h1M437 113.5h1M439 91.5h1M437 91.5h1M439 101.5h1M438 117.5h1M437 91.5h1M441 94.5h1M439 120.5h1M435 111.5h1M438 104.5h1M437 92.5h1M436 87.5h1M437 97.5h1M438 92.5h1M438 116.5h1M437 103.5h1M435 103.5h1M437 107.5h1M440 103.5h1M436 94.5h1M439 111.5h1M439 111.5h1M438 117.5h1M439 102.5h1M437 90.5h1M438 118.5h1M437 87.5h1M439 91.5h1M441 110.5h1M437 115.5h1M440 118.5h1M435 106.5h1M437 95.5h1M437 87.5h1M441 111.5h1M437 108.5h1M440 90.5h1M435 111.5h1M438 118.5h1M439 92.5h1M438 106.5h1M434 100.5h1M439 107.5h1M440 90.5h1M441 116.5h1M439 96.5h1M435 108.5h1M438 94.5h1M440 92.5h1M437 118.5h1M439 95.5h1M437 118.5h1M438 115.5h1M440 105.5h1M437 105.5h1M443 87.5h1M439 112.5h1M439 109.5h1M437 106.5h1M438 113.5h1M438 102.5h1M436 99.5h1M436 111.5h1M439 103.5h1M438 106.5h1M434 91.5h1M435 93.5h1M438 92.5h1M438 113.5h1M439 119.5h1M436 119.5h1M439 105.5h1M438 112.5h1M437 90.5h1M438 97.5h1M440 118.5h1M439 96.5h1M440 91.5h1M437 101.5h1M438 112.5h1M436 119.5h1M437 87.5h1M438 107.5h1M438 114.5h1M440 113.5h1M439 117.5h1M440 108.5h1M439 115.5h1M440 100.5h1M438 106.5h1M440 104.5h1M439 101.5h1M440 101.5h1M438 110.5h1M436 91.5h1M436 114.5h1M442 110.5h1M439 93.5h1M439 98.5h1M438 114.5h1M438 100.5h1M443 114.5h1M436 99.5h1M438 119.5h1M438 99.5h1M436 119.5h1M436 99.5h1M437 100.5h1M438 92.5h1M437 112.5h1M440 89.5h1M436 112.5h1M439 103.5h1M441 115.5h1M440 107.5h1M436 118.5h1M433 103.5h1M440 94.5h1M439 117.5h1M437 116.5h1M440 114.5h1M438 106.5h1M438 95.5h1M437 87.5h1M439 113.5h1M438 108.5h1M437 101.5h1M440 103.5h1M439 112.5h1M436 94.5h1M439 87.5h1M440 89.5h1M437 119.5h1M438 93.5h1M438 119.5h1M438 87.5h1M439 109.5h1M439 104.5h1M437 103.5h1M442 86.5h1M437 105.5h1M437 107.5h1M442 114.5h1M442 114.5h1M438 113.5h1M438 88.5h1M436 115.5h1M440 104.5h1M439 115.5h1M437 117.5h1M439 89.5h1M441 100.5h1M439 103.5h1M442 106.5h1M440 118.5h1M439 87.5h1M438 106.5h1M439 103.5h1M440 91.5h1M440 109.5h1M440 110.5h1M439 90.5h1M440 90.5h1M440 102.5h1M438 118.5h1M436 114.5h1M441 108.5h1M439 99.5h1M438 118.5h1M439 102.5h1M438 91.5h1M435 106.5h1M438 89.5h1M436 115.5h1M439 103.5h1M438 111.5h1M440 115.5h1M438 113.5h1M439 113.5h1M438 112.5h1M438 99.5h1M436 87.5h1M440 95.5h1M439 108.5h1M437 97.5h1M439 119.5h1M438 97.5h1M437 110.5h1M439 90.5h1M440 101.5h1M438 113.5h1M436 117.5h1M437 88.5h1M441 113.5h1M437 118.5h1M440 87.5h1M438 113.5h1M440 87.5h1M438 109.5h1M436 119.5h1M438 89.5h1M442 111.5h1M438 90.5h1M439 106.5h1M438 98.5h1M438 105.5h1M439 111.5h1M439 92.5h1M442 96.5h1M438 90.5h1M438 100.5h1M437 89.5h1M436 87.5h1M436 111.5h1M439 110.5h1M435 87.5h1M441 108.5h1M440 109.5h1M438 98.5h1M436 96.5h1M438 94.5h1M438 106.5h1M440 90.5h1M437 104.5h1M438 100.5h1M438 103.5h1M438 111.5h1M437 94.5h1M435 97.5h1M436 102.5h1M437 97.5h1M438 109.5h1M440 91.5h1M442 117.5h1M441 118.5h1M439 90.5h1M441 102.5h1M438 98.5h1M437 98.5h1M442 93.5h1M436 104.5h1M438 113.5h1M438 94.5h1M441 112.5h1M437 111.5h1M440 107.5h1M438 116.5h1M436 106.5h1M439 113.5h1M439 118.5h1M436 115.5h1M437 105.5h1M437 96.5h1M440 106.5h1M439 110.5h1M439 110.5h1M439 99.5h1M437 111.5h1M439 97.5h1M437 90.5h1M436 118.5h1M437 117.5h1M439 100.5h1M438 104.5h1M440 87.5h1M435 118.5h1M438 98.5h1M439 107.5h1M437 91.5h1M439 91.5h1M438 106.5h1M436 109.5h1M440 119.5h1M436 110.5h1M440 107.5h1M438 106.5h1M437 95.5h1M437 98.5h1M437 107.5h1M437 91.5h1M439 96.5h1M435 92.5h1M440 87.5h1M440 101.5h1M441 99.5h1M437 105.5h1M434 99.5h1M437 88.5h1M438 115.5h1M439 87.5h1M437 87.5h1M438 87.5h1M439 113.5h1M436 98.5h1M441 118.5h1M436 97.5h1M439 100.5h1M440 109.5h1M437 118.5h1M438 117.5h1M441 99.5h1M438 109.5h1M440 88.5h1M439 105.5h1M439 108.5h1M440 95.5h1M438 108.5h1M438 96.5h1M440 112.5h1M439 88.5h1M439 104.5h1M436 118.5h1M438 107.5h1M440 118.5h1M440 118.5h1M439 112.5h1M437 113.5h1M437 111.5h1M439 103.5h1M441 113.5h1M438 112.5h1M441 115.5h1M438 86.5h1M440 87.5h1M437 102.5h1M439 110.5h1M437 100.5h1M439 99.5h1M439 87.5h1M437 106.5h1M437 118.5h1M438 107.5h1M436 94.5h1M437 107.5h1M437 98.5h1M440 98.5h1M441 88.5h1M438 110.5h1M438 86.5h1M439 114.5h1M437 86.5h1M438 112.5h1M440 98.5h1M439 98.5h1M438 102.5h1M437 92.5h1M441 93.5h1M437 110.5h1M439 117.5h1M437 91.5h1M437 95.5h1M438 119.5h1M438 109.5h1M439 117.5h1M438 99.5h1M436 112.5h1M434 110.5h1M440 111.5h1M437 102.5h1M441 96.5h1M438 98.5h1M437 91.5h1M439 89.5h1M438 99.5h1M438 115.5h1M437 97.5h1M439 105.5h1M440 114.5h1M437 90.5h1M441 98.5h1M437 98.5h1M439 110.5h1M436 116.5h1M435 86.5h1M442 104.5h1M441 86.5h1M440 96.5h1M435 99.5h1M439 95.5h1M439 100.5h1M438 98.5h1M439 103.5h1M437 94.5h1M438 99.5h1M436 93.5h1M438 100.5h1M439 110.5h1M437 87.5h1M438 120.5h1M438 91.5h1M438 113.5h1M440 96.5h1M439 88.5h1M439 113.5h1M436 105.5h1M438 95.5h1M440 99.5h1M437 115.5h1M438 110.5h1M437 95.5h1M441 94.5h1M438 105.5h1M437 90.5h1M439 94.5h1M440 113.5h1M439 110.5h1M439 117.5h1M439 108.5h1M439 110.5h1M440 96.5h1M436 118.5h1M436 112.5h1M436 117.5h1M436 110.5h1M438 109.5h1M439 111.5h1M443 104.5h1M439 116.5h1M438 118.5h1M441 119.5h1M437 113.5h1M439 119.5h1M440 119.5h1M440 112.5h1M439 109.5h1M438 102.5h1M436 117.5h1M438 104.5h1M437 108.5h1M440 117.5h1M438 118.5h1M439 107.5h1M435 113.5h1M440 117.5h1M437 114.5h1M435 108.5h1M435 115.5h1M437 99.5h1M441 115.5h1M440 108.5h1M436 111.5h1M438 118.5h1M438 117.5h1M435 113.5h1M436 115.5h1M434 100.5h1M437 110.5h1M433 103.5h1M437 111.5h1M436 115.5h1M437 112.5h1M437 118.5h1M441 112.5h1M438 117.5h1M439 113.5h1M440 101.5h1M440 107.5h1M440 103.5h1M437 113.5h1M436 119.5h1M437 112.5h1M437 119.5h1M438 105.5h1M438 110.5h1M441 117.5h1M438 106.5h1M442 116.5h1M440 108.5h1M437 110.5h1M440 110.5h1M432 114.5h1M441 108.5h1M439 117.5h1M439 106.5h1M435 115.5h1M443 116.5h1M438 114.5h1M438 112.5h1M441 107.5h1M438 111.5h1M437 119.5h1M440 108.5h1M436 110.5h1M440 111.5h1M439 107.5h1M441 111.5h1M436 109.5h1M441 113.5h1M439 108.5h1M442 108.5h1M437 114.5h1M442 97.5h1M440 119.5h1M440 117.5h1M437 94.5h1M439 112.5h1M440 113.5h1M437 114.5h1M436 101.5h1M437 107.5h1M441 103.5h1M439 98.5h1M440 87.5h1M439 113.5h1M439 115.5h1M439 87.5h1M437 112.5h1M441 119.5h1M439 104.5h1M439 111.5h1M435 117.5h1M439 119.5h1M437 115.5h1M437 116.5h1M440 109.5h1M436 108.5h1M438 105.5h1M440 107.5h1M441 112.5h1M437 117.5h1M439 107.5h1M439 118.5h1M436 113.5h1M434 110.5h1M434 112.5h1M440 114.5h1M439 110.5h1M436 112.5h1M437 111.5h1M437 115.5h1M438 118.5h1M438 110.5h1M443 119.5h1M437 105.5h1M439 116.5h1M437 113.5h1M437 110.5h1M436 110.5h1M438 112.5h1M437 115.5h1M439 115.5h1M439 119.5h1M436 109.5h1M442 115.5h1M436 99.5h1M439 116.5h1M443 100.5h1M437 107.5h1M441 91.5h1M441 119.5h1M439 119.5h1M435 104.5h1M441 115.5h1M438 115.5h1M437 116.5h1M441 115.5h1M437 105.5h1M440 116.5h1M437 117.5h1M439 119.5h1M436 117.5h1M437 118.5h1M436 107.5h1M437 113.5h1M439 118.5h1M438 118.5h1M439 107.5h1M441 110.5h1M438 105.5h1M434 119.5h1M438 117.5h1M438 96.5h1M440 119.5h1M440 100.5h1M440 109.5h1M438 116.5h1M440 105.5h1M435 111.5h1M441 113.5h1M439 113.5h1M439 102.5h1M438 105.5h1M438 117.5h1M437 118.5h1M439 114.5h1M436 116.5h1M440 117.5h1M439 113.5h1M442 118.5h1M438 92.5h1M438 110.5h1M439 114.5h1M438 118.5h1M438 101.5h1M436 105.5h1M436 89.5h1M437 102.5h1M438 114.5h1M436 103.5h1M436 116.5h1M438 112.5h1M440 107.5h1M438 112.5h1M440 95.5h1M440 103.5h1M440 119.5h1M437 115.5h1M437 110.5h1M434 117.5h1M437 117.5h1M439 110.5h1M436 106.5h1M441 97.5h1M441 117.5h1M438 109.5h1M440 116.5h1M435 102.5h1M436 101.5h1M438 114.5h1M438 116.5h1M438 109.5h1M437 117.5h1M442 108.5h1M439 110.5h1M439 118.5h1M440 112.5h1M439 106.5h1M438 118.5h1M437 108.5h1M435 111.5h1M441 118.5h1M436 98.5h1M435 112.5h1M437 119.5h1M435 106.5h1M442 110.5h1M439 119.5h1M441 102.5h1M441 112.5h1M439 99.5h1M439 111.5h1M437 117.5h1M438 109.5h1M437 103.5h1M438 112.5h1M437 106.5h1M441 112.5h1M440 116.5h1M438 113.5h1M435 107.5h1M440 108.5h1M440 89.5h1M438 115.5h1M436 119.5h1M439 113.5h1M440 112.5h1M434 117.5h1M439 114.5h1M435 111.5h1M438 113.5h1M442 105.5h1M438 108.5h1M439 96.5h1M438 118.5h1M438 109.5h1M443 117.5h1M441 116.5h1M438 115.5h1M438 106.5h1M438 110.5h1M443 117.5h1M439 108.5h1M441 93.5h1M438 97.5h1M436 112.5h1M441 118.5h1M438 113.5h1M437 114.5h1M437 103.5h1M437 102.5h1M437 101.5h1M435 112.5h1M441 99.5h1M439 111.5h1M440 110.5h1M438 113.5h1M439 116.5h1M439 111.5h1M441 106.5h1M440 111.5h1M439 109.5h1M437 115.5h1M436 111.5h1M437 112.5h1M437 119.5h1M437 119.5h1M436 115.5h1M442 115.5h1M439 107.5h1M434 100.5h1M436 117.5h1M436 114.5h1M439 111.5h1M440 112.5h1M436 110.5h1M440 116.5h1M438 99.5h1M441 105.5h1M441 108.5h1M439 110.5h1M440 105.5h1M438 104.5h1M438 117.5h1M436 114.5h1M439 110.5h1M438 115.5h1M438 112.5h1M438 113.5h1M438 105.5h1M436 118.5h1M437 119.5h1M441 114.5h1M438 96.5h1M441 100.5h1M436 110.5h1M436 117.5h1M439 118.5h1M440 117.5h1M437 98.5h1M440 112.5h1M440 113.5h1M440 114.5h1M438 111.5h1M438 112.5h1M435 112.5h1M438 118.5h1M439 113.5h1M441 103.5h1M436 111.5h1M437 96.5h1M436 111.5h1M440 112.5h1M433 117.5h1M436 115.5h1M442 90.5h1M440 114.5h1M436 106.5h1M438 114.5h1M440 114.5h1M439 113.5h1M438 115.5h1M437 116.5h1M440 115.5h1M438 118.5h1M440 119.5h1M439 108.5h1M437 119.5h1M441 107.5h1M437 109.5h1M439 109.5h1M437 117.5h1M438 99.5h1M438 114.5h1M437 106.5h1M439 103.5h1M441 118.5h1M442 114.5h1M441 100.5h1M438 106.5h1M441 117.5h1M439 104.5h1M442 107.5h1M436 115.5h1M441 118.5h1M437 116.5h1M441 118.5h1M437 111.5h1M440 112.5h1M438 116.5h1M435 107.5h1M436 117.5h1M438 118.5h1M438 116.5h1M434 119.5h1M436 112.5h1M437 117.5h1M438 101.5h1M439 118.5h1M437 118.5h1M435 115.5h1M439 119.5h1M438 103.5h1M440 106.5h1M437 109.5h1M440 113.5h1M437 108.5h1M439 116.5h1M438 119.5h1M439 98.5h1M436 113.5h1M438 105.5h1M437 118.5h1M438 104.5h1M440 111.5h1M444 108.5h1M438 118.5h1M440 115.5h1M439 111.5h1M441 101.5h1M439 118.5h1M440 119.5h1M439 110.5h1M443 111.5h1M441 112.5h1M435 118.5h1M439 114.5h1M438 113.5h1M434 118.5h1M437 119.5h1M437 117.5h1M437 104.5h1M439 115.5h1M435 112.5h1M440 119.5h1M440 107.5h1M439 110.5h1M438 113.5h1M438 119.5h1M437 116.5h1M441 116.5h1M439 114.5h1M442 115.5h1M438 110.5h1M441 119.5h1M437 118.5h1M438 100.5h1M436 114.5h1M439 115.5h1M438 112.5h1M440 114.5h1M441 109.5h1M438 112.5h1M439 89.5h1M440 108.5h1M438 118.5h1M437 118.5h1M439 117.5h1M439 112.5h1M440 109.5h1M440 111.5h1M437 117.5h1M439 110.5h1M441 107.5h1M437 103.5h1M439 108.5h1M437 111.5h1M439 108.5h1M442 109.5h1M439 117.5h1M436 117.5h1M439 115.5h1M439 118.5h1M441 119.5h1M436 109.5h1M436 115.5h1M438 113.5h1M435 115.5h1M441 114.5h1M434 118.5h1M437 117.5h1M435 114.5h1M437 105.5h1M440 117.5h1M440 116.5h1M440 106.5h1M440 113.5h1M434 119.5h1M439 118.5h1M435 113.5h1M437 115.5h1M438 119.5h1M437 104.5h1M439 115.5h1M437 117.5h1M442 117.5h1M440 117.5h1M441 95.5h1M440 113.5h1M440 118.5h1M438 118.5h1M442 119.5h1M436 115.5h1M439 116.5h1M438 104.5h1M438 107.5h1M439 113.5h1M437 115.5h1M440 107.5h1M440 113.5h1M439 114.5h1M440 112.5h1M436 96.5h1M435 112.5h1M437 116.5h1M438 114.5h1M443 111.5h1M439 90.5h1M439 94.5h1M433 90.5h1M434 106.5h1M436 109.5h1M437 119.5h1M437 96.5h1M436 115.5h1M441 107.5h1M442 88.5h1M439 100.5h1M430 119.5h1M438 111.5h1M440 109.5h1M438 110.5h1M439 119.5h1M439 105.5h1M433 92.5h1M429 90.5h1M441 106.5h1M436 94.5h1M440 118.5h1M437 119.5h1M438 106.5h1M444 108.5h1M434 92.5h1M438 114.5h1M434 102.5h1M439 112.5h1M440 102.5h1M441 114.5h1M439 92.5h1M433 119.5h1M439 110.5h1M442 99.5h1M442 101.5h1M446 95.5h1M440 104.5h1M434 117.5h1M436 103.5h1M439 99.5h1M442 103.5h1M434 101.5h1M442 102.5h1M441 105.5h1M435 111.5h1M441 111.5h1M435 89.5h1M438 118.5h1M437 99.5h1M439 102.5h1M434 105.5h1M440 117.5h1M430 89.5h1M437 115.5h1M436 110.5h1M444 105.5h1M440 101.5h1M436 105.5h1M435 110.5h1M438 102.5h1M436 118.5h1M447 106.5h1M428 103.5h1M439 117.5h1M429 89.5h1M442 117.5h1M435 104.5h1M444 92.5h1M436 110.5h1M442 96.5h1M439 103.5h1M443 105.5h1M438 119.5h1M427 110.5h1M436 102.5h1M432 109.5h1M442 109.5h1M440 93.5h1M438 100.5h1M440 94.5h1M439 92.5h1M436 99.5h1M446 89.5h1M439 94.5h1M438 94.5h1M433 105.5h1M436 102.5h1M438 92.5h1M438 120.5h1M437 112.5h1M438 110.5h1M434 109.5h1M438 111.5h1M432 94.5h1M435 111.5h1M436 100.5h1M442 94.5h1M440 97.5h1M439 115.5h1M434 101.5h1M437 116.5h1M441 120.5h1M443 118.5h1M433 103.5h1M437 106.5h1M439 107.5h1M440 91.5h1M438 112.5h1M441 114.5h1M433 94.5h1M444 99.5h1M434 108.5h1M439 119.5h1M440 100.5h1M443 116.5h1M442 90.5h1M442 106.5h1M443 98.5h1M438 116.5h1M441 94.5h1M444 91.5h1M435 100.5h1M433 112.5h1M435 112.5h1M444 99.5h1M443 111.5h1M437 93.5h1M439 102.5h1M440 116.5h1M442 93.5h1M431 96.5h1M436 100.5h1M437 95.5h1M440 105.5h1M439 101.5h1M437 107.5h1M440 89.5h1M429 114.5h1M450 101.5h1M442 90.5h1M442 108.5h1M436 94.5h1M440 95.5h1M446 112.5h1M445 90.5h1M439 118.5h1M434 96.5h1M439 107.5h1M437 92.5h1M442 120.5h1M434 119.5h1M438 109.5h1M439 97.5h1M437 100.5h1M442 107.5h1M434 97.5h1M434 107.5h1M437 117.5h1M442 93.5h1M437 97.5h1M436 119.5h1M442 116.5h1M439 89.5h1M436 91.5h1M439 109.5h1M438 115.5h1M441 119.5h1M439 92.5h1M435 103.5h1M437 104.5h1M437 115.5h1M440 104.5h1M440 89.5h1M435 90.5h1M438 104.5h1M440 92.5h1M443 104.5h1M439 107.5h1M446 104.5h1M439 107.5h1M441 89.5h1M437 110.5h1M435 89.5h1M439 104.5h1M440 93.5h1M440 101.5h1M439 114.5h1M437 115.5h1M435 116.5h1M437 110.5h1M440 105.5h1M442 114.5h1M426 90.5h1M441 89.5h1M443 116.5h1M443 111.5h1M440 102.5h1M441 96.5h1M437 119.5h1M438 95.5h1M440 96.5h1M434 118.5h1M435 112.5h1M439 115.5h1M433 118.5h1M439 119.5h1M433 101.5h1M439 96.5h1M439 106.5h1M436 100.5h1M435 99.5h1M436 107.5h1M430 117.5h1M437 106.5h1M439 99.5h1M443 94.5h1M436 115.5h1M438 108.5h1M444 95.5h1M478 116.5h1M429 120.5h1M430 113.5h1M444 118.5h1M477 119.5h1M459 92.5h1M470 92.5h1M485 106.5h1M490 117.5h1M480 105.5h1M453 104.5h1M461 115.5h1M424 107.5h1M429 114.5h1M453 107.5h1M446 105.5h1M459 104.5h1M424 113.5h1M488 92.5h1M456 99.5h1M435 91.5h1M467 109.5h1M463 101.5h1M471 117.5h1M490 99.5h1M453 117.5h1M424 98.5h1M437 118.5h1M451 117.5h1M441 97.5h1M457 105.5h1M466 90.5h1M459 108.5h1M428 110.5h1M426 103.5h1M426 102.5h1M470 104.5h1M451 113.5h1M461 94.5h1M451 115.5h1M470 111.5h1M490 101.5h1M465 119.5h1M438 107.5h1M473 104.5h1M438 105.5h1M470 99.5h1M462 105.5h1M425 91.5h1M437 107.5h1M439 99.5h1M449 109.5h1M483 107.5h1M472 120.5h1M456 112.5h1M451 88.5h1M426 92.5h1M439 104.5h1M483 105.5h1M449 103.5h1M442 111.5h1M487 118.5h1M439 90.5h1M478 108.5h1M450 97.5h1M448 100.5h1M446 119.5h1M442 90.5h1M442 95.5h1M443 104.5h1M455 112.5h1M454 118.5h1M425 119.5h1M450 118.5h1M479 113.5h1M474 102.5h1M432 97.5h1M438 116.5h1M466 112.5h1M466 111.5h1M427 113.5h1M445 117.5h1M458 105.5h1M470 96.5h1M462 88.5h1M467 96.5h1M483 109.5h1M483 100.5h1M437 94.5h1M482 92.5h1M438 89.5h1M424 106.5h1M476 109.5h1M485 119.5h1M431 113.5h1M474 93.5h1M429 95.5h1M485 119.5h1M455 97.5h1M457 105.5h1M485 114.5h1M444 108.5h1M460 89.5h1M431 103.5h1M436 105.5h1M460 105.5h1M482 92.5h1M449 119.5h1M424 104.5h1M440 110.5h1M457 113.5h1M428 96.5h1M434 89.5h1M439 108.5h1M480 117.5h1M453 116.5h1M433 116.5h1M460 95.5h1M463 116.5h1M465 90.5h1M473 97.5h1M462 114.5h1M427 91.5h1M464 113.5h1M465 113.5h1M458 117.5h1M434 115.5h1M438 111.5h1M466 93.5h1M476 92.5h1M429 91.5h1M475 98.5h1M454 98.5h1M466 120.5h1M477 115.5h1M430 91.5h1M473 103.5h1M474 114.5h1M455 101.5h1M441 105.5h1M462 116.5h1M463 117.5h1M451 93.5h1M459 114.5h1M473 102.5h1M477 89.5h1M487 98.5h1M489 116.5h1M426 94.5h1M485 93.5h1M429 99.5h1M426 108.5h1M428 106.5h1M429 105.5h1M427 112.5h1M429 114.5h1M429 115.5h1M430 99.5h1M430 109.5h1M425 97.5h1M430 98.5h1M429 102.5h1M430 108.5h1M427 106.5h1M430 94.5h1M429 106.5h1M426 97.5h1M430 98.5h1M427 116.5h1M426 110.5h1M429 100.5h1M427 113.5h1M429 119.5h1M428 116.5h1M429 97.5h1M429 110.5h1M428 104.5h1M430 105.5h1M429 98.5h1M427 96.5h1M430 119.5h1M429 105.5h1M428 97.5h1M430 105.5h1M431 105.5h1M429 97.5h1M425 113.5h1M429 110.5h1M428 112.5h1M428 115.5h1M429 116.5h1M427 119.5h1M431 112.5h1M429 119.5h1M428 119.5h1M429 98.5h1M429 103.5h1M430 106.5h1M429 105.5h1M428 96.5h1M428 103.5h1M424 114.5h1M425 107.5h1M430 111.5h1M427 111.5h1M431 110.5h1M431 93.5h1M426 103.5h1M429 113.5h1M433 103.5h1M427 119.5h1M429 118.5h1M428 107.5h1M428 119.5h1M428 99.5h1M428 106.5h1M429 118.5h1M427 95.5h1M429 107.5h1M427 104.5h1M429 103.5h1M429 104.5h1M427 109.5h1M428 117.5h1M427 94.5h1M475 91.5h1M474 103.5h1M469 96.5h1M486 105.5h1M479 90.5h1M486 98.5h1M469 105.5h1M462 107.5h1M472 93.5h1M476 101.5h1M483 120.5h1M485 110.5h1M487 105.5h1M489 86.5h1M483 98.5h1M478 108.5h1M471 106.5h1M483 107.5h1M473 111.5h1M471 105.5h1M482 110.5h1M479 92.5h1M484 120.5h1M472 102.5h1M486 100.5h1M480 114.5h1M476 108.5h1M471 111.5h1M469 100.5h1M466 106.5h1M488 109.5h1M466 96.5h1M482 103.5h1M475 102.5h1M473 102.5h1M473 99.5h1M476 95.5h1M484 107.5h1M482 106.5h1M477 112.5h1M466 104.5h1M463 99.5h1M491 94.5h1M469 105.5h1M465 102.5h1M486 118.5h1M465 120.5h1M483 115.5h1M485 98.5h1M479 95.5h1M485 102.5h1M466 98.5h1M468 114.5h1M476 105.5h1M477 101.5h1M477 104.5h1M481 113.5h1M471 98.5h1M460 107.5h1M480 95.5h1M475 103.5h1M484 100.5h1M491 106.5h1M478 105.5h1M482 112.5h1M470 109.5h1M484 100.5h1M480 95.5h1M479 98.5h1M484 101.5h1M468 102.5h1M482 99.5h1M481 111.5h1M490 110.5h1M463 102.5h1M476 101.5h1M491 102.5h1M474 104.5h1M474 104.5h1M491 93.5h1M491 101.5h1M478 91.5h1M472 104.5h1M473 109.5h1M474 97.5h1M471 105.5h1M471 100.5h1M479 99.5h1M477 117.5h1M481 110.5h1M477 107.5h1M468 101.5h1M483 107.5h1M479 103.5h1M473 107.5h1M475 98.5h1M480 104.5h1M478 101.5h1M476 94.5h1M483 116.5h1M486 110.5h1M475 99.5h1M477 94.5h1M468 99.5h1M476 98.5h1M481 100.5h1M484 94.5h1M478 98.5h1M476 104.5h1M472 107.5h1M479 90.5h1M469 104.5h1M478 97.5h1M477 97.5h1M470 102.5h1M480 99.5h1M475 109.5h1M482 109.5h1M473 102.5h1M481 100.5h1M489 116.5h1M479 117.5h1M483 107.5h1M472 103.5h1M474 111.5h1M488 106.5h1M482 105.5h1M490 114.5h1M480 111.5h1M453 102.5h1M465 107.5h1M481 119.5h1M453 106.5h1M464 96.5h1M448 98.5h1M464 99.5h1M469 111.5h1M451 104.5h1M471 111.5h1M449 102.5h1M466 115.5h1M476 107.5h1M478 118.5h1M463 114.5h1M450 107.5h1M490 119.5h1M469 103.5h1M466 107.5h1M444 104.5h1M479 96.5h1M481 103.5h1M477 97.5h1M464 98.5h1M465 98.5h1M482 104.5h1M488 109.5h1M471 109.5h1M473 111.5h1M483 100.5h1M459 102.5h1M451 98.5h1M479 118.5h1M472 99.5h1M459 111.5h1M483 107.5h1M479 97.5h1M444 116.5h1M467 108.5h1M476 109.5h1M486 114.5h1M477 103.5h1M454 105.5h1M449 99.5h1M489 117.5h1M484 105.5h1M434 102.5h1M434 112.5h1M429 111.5h1M431 101.5h1M427 96.5h1M430 108.5h1M428 118.5h1M435 101.5h1M432 104.5h1M435 96.5h1M427 116.5h1M426 90.5h1M424 100.5h1M431 91.5h1M428 102.5h1M427 107.5h1M429 92.5h1M431 109.5h1M433 97.5h1M435 95.5h1M426 99.5h1M430 118.5h1M435 116.5h1M428 98.5h1M431 89.5h1M417 97.5h1M414 47.5h1M408 83.5h1M409 102.5h1M416 104.5h1M410 78.5h1M409 73.5h1M399 89.5h1M398 68.5h1M397 79.5h1M395 62.5h1M408 85.5h1M410 84.5h1M403 105.5h1M411 89.5h1M411 75.5h1M408 83.5h1M399 67.5h1M417 84.5h1M416 81.5h1M405 89.5h1M420 96.5h1M408 58.5h1M403 88.5h1M406 94.5h1M397 68.5h1M406 109.5h1M398 75.5h1M415 116.5h1M410 94.5h1M400 97.5h1M411 88.5h1M398 97.5h1M409 71.5h1M411 73.5h1M408 58.5h1M401 91.5h1M407 75.5h1M407 94.5h1M408 92.5h1M417 67.5h1M418 93.5h1M418 87.5h1M404 87.5h1M404 90.5h1M408 84.5h1M411 84.5h1M396 98.5h1M404 71.5h1M419 68.5h1M401 74.5h1M404 97.5h1M404 80.5h1M411 109.5h1M408 44.5h1M406 75.5h1M399 78.5h1M412 88.5h1M408 101.5h1M404 82.5h1M408 71.5h1M413 95.5h1M399 104.5h1M399 51.5h1M402 92.5h1M403 88.5h1M404 78.5h1M415 88.5h1M406 84.5h1M438 64.5h1M432 72.5h1M442 70.5h1M435 64.5h1M441 36.5h1M436 68.5h1M441 54.5h1M445 72.5h1M442 36.5h1M445 55.5h1M430 47.5h1M443 55.5h1M442 81.5h1M436 70.5h1M439 76.5h1M420 74.5h1M441 33.5h1M437 68.5h1M424 69.5h1M444 69.5h1M436 43.5h1M442 49.5h1M438 64.5h1M443 44.5h1M441 56.5h1M438 51.5h1M443 34.5h1M446 34.5h1M424 41.5h1M440 54.5h1M436 78.5h1M432 70.5h1M449 46.5h1M447 71.5h1M433 72.5h1M432 78.5h1M446 66.5h1M436 62.5h1M438 65.5h1M426 34.5h1M441 32.5h1M401 23.5h1M444 38.5h1M446 56.5h1M425 54.5h1M411 58.5h1M435 43.5h1M409 77.5h1M425 47.5h1M449 35.5h1M400 46.5h1M465 44.5h1M462 31.5h1M424 56.5h1M457 53.5h1M457 21.5h1M449 39.5h1M428 27.5h1M424 41.5h1M413 30.5h1M456 24.5h1M446 43.5h1M468 23.5h1M443 24.5h1M398 65.5h1M465 73.5h1M472 74.5h1M480 71.5h1M503 95.5h1M506 100.5h1M496 93.5h1" stroke="#000" stroke-opacity="0.88" stroke-width="1" fill="none"/>
<path d="M393.7 7.0V120.6H512.4" fill="none" stroke="#000" stroke-width="1.4" stroke-linecap="square"/>
<path d="M393.7 7.2H511.9V120.6" fill="none" stroke="#1a1a1a" stroke-width="1.15"/>
<path d="M394.90 120.60v4.6M433.30 120.60v4.6M471.70 120.60v4.6M510.10 120.60v4.6" stroke="#000" stroke-width="1.2" fill="none"/>
<path d="M394.90 120.60v2.4M402.58 120.60v2.4M410.26 120.60v2.4M417.94 120.60v2.4M425.62 120.60v2.4M433.30 120.60v2.4M440.98 120.60v2.4M448.66 120.60v2.4M456.34 120.60v2.4M464.02 120.60v2.4M471.70 120.60v2.4M479.38 120.60v2.4M487.06 120.60v2.4M494.74 120.60v2.4M502.42 120.60v2.4M510.10 120.60v2.4" stroke="#000" stroke-width="0.9" fill="none"/>
<path d="M393.70 120.70h-4.6M393.70 83.40h-4.6M393.70 46.10h-4.6M393.70 8.80h-4.6" stroke="#000" stroke-width="1.2" fill="none"/>
<path d="M393.70 109.47h-2.8M393.70 102.90h-2.8M393.70 98.24h-2.8M393.70 94.63h-2.8M393.70 91.67h-2.8M393.70 89.18h-2.8M393.70 87.01h-2.8M393.70 85.11h-2.8M393.70 72.17h-2.8M393.70 65.60h-2.8M393.70 60.94h-2.8M393.70 57.33h-2.8M393.70 54.37h-2.8M393.70 51.88h-2.8M393.70 49.71h-2.8M393.70 47.81h-2.8M393.70 34.87h-2.8M393.70 28.30h-2.8M393.70 23.64h-2.8M393.70 20.03h-2.8M393.70 17.07h-2.8M393.70 14.58h-2.8M393.70 12.41h-2.8M393.70 10.51h-2.8" stroke="#000" stroke-width="0.9" fill="none"/>
<text transform="translate(394.90,133.60) scale(0.81,1)" text-anchor="middle" font-size="9.9" fill="#111" stroke="#111" stroke-width="0.35">0</text>
<text transform="translate(433.30,133.60) scale(0.81,1)" text-anchor="middle" font-size="9.9" fill="#111" stroke="#111" stroke-width="0.35">200</text>
<text transform="translate(471.70,133.60) scale(0.81,1)" text-anchor="middle" font-size="9.9" fill="#111" stroke="#111" stroke-width="0.35">400</text>
<text transform="translate(512.10,133.60) scale(0.81,1)" text-anchor="middle" font-size="9.9" fill="#111" stroke="#111" stroke-width="0.35">600</text>
<g transform="translate(385.80,120.70) rotate(-90)"><text transform="translate(1.6,0) scale(0.81,1)" text-anchor="end" font-size="9.9" fill="#111" stroke="#111" stroke-width="0.35">10</text><text transform="translate(1.9,-5.2) scale(0.81,1)" font-size="9.9" fill="#111" stroke="#111" stroke-width="0.35">0</text></g>
<g transform="translate(385.80,83.40) rotate(-90)"><text transform="translate(1.6,0) scale(0.81,1)" text-anchor="end" font-size="9.9" fill="#111" stroke="#111" stroke-width="0.35">10</text><text transform="translate(1.9,-5.2) scale(0.81,1)" font-size="9.9" fill="#111" stroke="#111" stroke-width="0.35">1</text></g>
<g transform="translate(385.80,46.10) rotate(-90)"><text transform="translate(1.6,0) scale(0.81,1)" text-anchor="end" font-size="9.9" fill="#111" stroke="#111" stroke-width="0.35">10</text><text transform="translate(1.9,-5.2) scale(0.81,1)" font-size="9.9" fill="#111" stroke="#111" stroke-width="0.35">2</text></g>
<g transform="translate(385.80,8.80) rotate(-90)"><text transform="translate(1.6,0) scale(0.81,1)" text-anchor="end" font-size="9.9" fill="#111" stroke="#111" stroke-width="0.35">10</text><text transform="translate(1.9,-5.2) scale(0.81,1)" font-size="9.9" fill="#111" stroke="#111" stroke-width="0.35">3</text></g>
<rect x="422.6" y="84.0" width="70.5" height="36.2" fill="none" stroke="#000" stroke-width="2"/>
<text transform="translate(455.20,148.00)" text-anchor="middle" font-size="14.05" font-weight="bold" fill="#111" stroke="#111" stroke-width="0.22" >DNA Content (PI)</text>
<text transform="translate(373.80,65.50) rotate(-90)" text-anchor="middle" font-size="14.3" font-weight="bold" fill="#111" stroke="#111" stroke-width="0.22" >dUTP-BrdU</text>
<path d="M91 278.5h1M104 271.5h1M100 271.5h1M109 273.5h1M96 273.5h1M113 270.5h1M104 271.5h1M110 268.5h1M113 270.5h1M90 277.5h1M104 271.5h1M117 265.5h1M106 271.5h1M114 267.5h1M108 268.5h1M100 269.5h1M105 263.5h1M113 267.5h1M115 266.5h1M118 269.5h1M97 275.5h1M113 270.5h1M96 279.5h1M104 270.5h1M103 269.5h1M111 270.5h1M107 268.5h1M115 266.5h1M102 276.5h1M112 269.5h1M109 272.5h1M104 267.5h1M96 274.5h1M111 271.5h1M106 266.5h1M112 268.5h1M105 271.5h1M101 265.5h1M110 273.5h1M108 267.5h1M111 268.5h1M122 268.5h1M99 268.5h1M122 265.5h1M82 279.5h1M113 267.5h1M98 271.5h1M122 267.5h1M97 270.5h1M114 268.5h1M98 275.5h1M96 274.5h1M111 267.5h1M112 267.5h1M101 275.5h1M125 264.5h1M103 271.5h1M116 263.5h1M97 274.5h1M98 275.5h1M106 270.5h1M99 277.5h1M107 264.5h1M106 269.5h1M100 269.5h1M96 269.5h1M108 272.5h1M104 272.5h1M102 271.5h1M112 268.5h1M108 270.5h1M108 268.5h1M117 269.5h1M105 272.5h1M112 267.5h1M100 267.5h1M111 272.5h1M109 267.5h1M100 269.5h1M95 278.5h1M96 276.5h1M96 268.5h1M108 264.5h1M104 270.5h1M102 268.5h1M109 268.5h1M114 274.5h1M119 273.5h1M101 272.5h1M110 270.5h1M112 270.5h1M98 273.5h1M105 266.5h1M99 276.5h1M103 270.5h1M109 270.5h1M93 277.5h1M98 271.5h1M101 277.5h1M106 270.5h1M100 273.5h1M108 268.5h1M99 275.5h1M102 274.5h1M109 267.5h1M108 271.5h1M106 269.5h1M104 267.5h1M113 266.5h1M117 267.5h1M103 273.5h1M101 275.5h1M96 272.5h1M119 264.5h1M98 273.5h1M96 276.5h1M107 269.5h1M113 265.5h1M94 270.5h1M106 274.5h1M95 277.5h1M99 271.5h1M120 269.5h1M107 270.5h1M104 272.5h1M107 273.5h1M107 268.5h1M104 269.5h1M94 270.5h1M96 275.5h1M121 265.5h1M100 275.5h1M115 268.5h1M100 273.5h1M117 269.5h1M110 265.5h1M104 272.5h1M122 265.5h1M98 273.5h1M105 275.5h1M99 274.5h1M101 276.5h1M103 274.5h1M98 273.5h1M105 276.5h1M119 268.5h1M92 276.5h1M95 274.5h1M97 271.5h1M102 271.5h1M113 266.5h1M111 268.5h1M109 268.5h1M107 271.5h1M124 262.5h1M95 270.5h1M96 273.5h1M104 268.5h1M106 266.5h1M103 270.5h1M100 275.5h1M94 272.5h1M101 266.5h1M100 272.5h1M105 279.5h1M96 272.5h1M116 267.5h1M108 268.5h1M121 267.5h1M103 276.5h1M106 270.5h1M105 274.5h1M104 267.5h1M104 272.5h1M103 268.5h1M90 277.5h1M103 270.5h1M111 269.5h1M89 274.5h1M103 272.5h1M110 269.5h1M115 265.5h1M104 269.5h1M108 266.5h1M119 264.5h1M116 267.5h1M102 271.5h1M101 273.5h1M115 270.5h1M107 269.5h1M101 273.5h1M104 273.5h1M108 271.5h1M104 272.5h1M103 271.5h1M105 276.5h1M94 275.5h1M119 264.5h1M115 268.5h1M119 270.5h1M106 274.5h1M106 270.5h1M111 271.5h1M112 269.5h1M91 276.5h1M109 271.5h1M98 275.5h1M105 271.5h1M102 277.5h1M118 264.5h1M111 272.5h1M107 276.5h1M118 271.5h1M105 271.5h1M99 272.5h1M102 267.5h1M102 271.5h1M108 276.5h1M110 264.5h1M103 267.5h1M106 273.5h1M114 269.5h1M106 265.5h1M113 267.5h1M107 271.5h1M94 271.5h1M98 276.5h1M91 272.5h1M115 270.5h1M109 269.5h1M101 270.5h1M96 269.5h1M108 268.5h1M104 270.5h1M108 269.5h1M98 271.5h1M96 273.5h1M118 267.5h1M97 271.5h1M105 270.5h1M116 267.5h1M91 276.5h1M112 270.5h1M107 274.5h1M104 270.5h1M108 270.5h1M93 267.5h1M88 276.5h1M121 266.5h1M102 268.5h1M114 271.5h1M112 262.5h1M109 273.5h1M108 268.5h1M110 265.5h1M117 264.5h1M109 268.5h1M114 264.5h1M102 268.5h1M101 270.5h1M107 272.5h1M109 270.5h1M111 272.5h1M120 263.5h1M112 267.5h1M105 269.5h1M121 264.5h1M108 270.5h1M110 274.5h1M110 270.5h1M103 272.5h1M98 277.5h1M106 268.5h1M102 268.5h1M99 275.5h1M106 270.5h1M104 271.5h1M102 274.5h1M91 275.5h1M104 270.5h1M119 266.5h1M113 269.5h1M115 269.5h1M105 271.5h1M114 268.5h1M98 266.5h1M103 275.5h1M108 265.5h1M94 275.5h1M108 276.5h1M107 268.5h1M117 261.5h1M102 276.5h1M108 268.5h1M100 272.5h1M101 272.5h1M99 275.5h1M114 266.5h1M111 271.5h1M106 267.5h1M125 264.5h1M109 267.5h1M96 276.5h1M103 269.5h1M104 269.5h1M119 269.5h1M97 270.5h1M107 266.5h1M114 269.5h1M99 272.5h1M106 269.5h1M90 276.5h1M108 275.5h1M87 275.5h1M102 271.5h1M119 265.5h1M108 267.5h1M106 270.5h1M107 271.5h1M121 261.5h1M111 271.5h1M112 264.5h1M102 271.5h1M102 272.5h1M102 266.5h1M100 273.5h1M116 273.5h1M110 267.5h1M106 273.5h1M101 272.5h1M81 276.5h1M101 273.5h1M107 267.5h1M111 268.5h1M80 276.5h1M87 280.5h1M104 264.5h1M97 273.5h1M105 274.5h1M102 273.5h1M110 267.5h1M91 275.5h1M100 271.5h1M115 274.5h1M107 269.5h1M99 273.5h1M108 267.5h1M107 268.5h1M99 275.5h1M110 266.5h1M110 266.5h1M104 269.5h1M112 266.5h1M96 274.5h1M111 267.5h1M104 270.5h1M97 271.5h1M102 275.5h1M115 267.5h1M101 271.5h1M103 272.5h1M100 272.5h1M98 269.5h1M113 267.5h1M124 267.5h1M116 267.5h1M110 272.5h1M111 266.5h1M101 268.5h1M101 270.5h1M98 277.5h1M116 263.5h1M102 269.5h1M101 275.5h1M100 272.5h1M107 269.5h1M101 273.5h1M106 270.5h1M106 269.5h1M116 267.5h1M95 272.5h1M108 269.5h1M101 274.5h1M101 269.5h1M118 265.5h1M109 265.5h1M103 273.5h1M110 270.5h1M106 273.5h1M115 269.5h1M103 274.5h1M110 270.5h1M103 269.5h1M106 272.5h1M103 268.5h1M103 278.5h1M106 271.5h1M114 269.5h1M99 269.5h1M103 274.5h1M109 272.5h1M98 269.5h1M112 266.5h1M110 267.5h1M87 276.5h1M102 276.5h1M99 279.5h1M111 265.5h1M114 270.5h1M96 273.5h1M101 276.5h1M102 264.5h1M102 270.5h1M112 271.5h1M112 265.5h1M111 271.5h1M113 265.5h1M114 270.5h1M105 272.5h1M102 270.5h1M99 271.5h1M112 267.5h1M113 270.5h1M113 267.5h1M102 270.5h1M106 280.5h1M106 265.5h1M115 266.5h1M109 270.5h1M106 267.5h1M99 273.5h1M108 268.5h1M108 265.5h1M98 274.5h1M118 262.5h1M97 271.5h1M114 270.5h1M103 268.5h1M107 271.5h1M100 276.5h1M102 274.5h1M111 269.5h1M104 270.5h1M101 268.5h1M112 268.5h1M111 269.5h1M106 268.5h1M106 267.5h1M120 267.5h1M103 268.5h1M109 270.5h1M108 268.5h1M93 270.5h1M92 280.5h1M107 271.5h1M113 269.5h1M106 266.5h1M101 271.5h1M101 273.5h1M111 266.5h1M105 275.5h1M91 270.5h1M111 270.5h1M105 265.5h1M107 265.5h1M112 264.5h1M116 267.5h1M109 267.5h1M103 269.5h1M88 274.5h1M106 265.5h1M103 268.5h1M115 263.5h1M115 265.5h1M109 268.5h1M114 260.5h1M104 269.5h1M106 273.5h1M98 272.5h1M103 271.5h1M106 268.5h1M113 265.5h1M100 272.5h1M110 264.5h1M123 262.5h1M93 270.5h1M104 272.5h1M104 266.5h1M114 268.5h1M122 266.5h1M113 262.5h1M106 272.5h1M98 272.5h1M106 273.5h1M104 269.5h1M107 268.5h1M98 272.5h1M118 268.5h1M98 267.5h1M111 270.5h1M107 269.5h1M96 272.5h1M106 269.5h1M106 272.5h1M105 273.5h1M113 272.5h1M101 270.5h1M123 257.5h1M114 265.5h1M98 272.5h1M85 277.5h1M116 269.5h1M110 275.5h1M106 271.5h1M96 269.5h1M95 277.5h1M90 274.5h1M125 262.5h1M119 267.5h1M101 273.5h1M120 264.5h1M91 276.5h1M111 270.5h1M111 269.5h1M101 278.5h1M99 264.5h1M96 271.5h1M105 268.5h1M116 268.5h1M113 267.5h1M109 271.5h1M113 263.5h1M91 275.5h1M122 265.5h1M105 270.5h1M95 273.5h1M103 272.5h1M102 276.5h1M104 264.5h1M109 273.5h1M87 278.5h1M114 264.5h1M119 266.5h1M97 273.5h1M118 268.5h1M114 264.5h1M114 269.5h1M117 262.5h1M95 275.5h1M112 269.5h1M97 273.5h1M124 264.5h1M97 271.5h1M97 276.5h1M114 265.5h1M109 266.5h1M105 270.5h1M106 269.5h1M109 266.5h1M120 266.5h1M100 272.5h1M101 273.5h1M99 268.5h1M103 267.5h1M105 269.5h1M94 272.5h1M107 269.5h1M96 275.5h1M104 274.5h1M105 274.5h1M104 273.5h1M116 263.5h1M119 266.5h1M113 265.5h1M118 266.5h1M102 268.5h1M118 269.5h1M105 271.5h1M107 268.5h1M106 266.5h1M95 275.5h1M100 271.5h1M104 271.5h1M107 267.5h1M104 269.5h1M99 274.5h1M98 277.5h1M104 267.5h1M96 273.5h1M96 275.5h1M104 270.5h1M106 268.5h1M101 278.5h1M90 274.5h1M108 270.5h1M111 266.5h1M102 271.5h1M100 265.5h1M88 280.5h1M112 267.5h1M96 271.5h1M113 272.5h1M100 271.5h1M103 269.5h1M103 268.5h1M92 278.5h1M127 261.5h1M93 274.5h1M105 266.5h1M98 270.5h1M104 272.5h1M116 266.5h1M88 271.5h1M103 268.5h1M109 269.5h1M109 276.5h1M108 267.5h1M97 267.5h1M93 277.5h1M94 273.5h1M101 268.5h1M112 269.5h1M106 269.5h1M117 262.5h1M105 266.5h1M107 269.5h1M107 270.5h1M90 271.5h1M111 271.5h1M95 270.5h1M104 275.5h1M124 263.5h1M95 273.5h1M106 270.5h1M107 268.5h1M106 269.5h1M107 274.5h1M100 270.5h1M122 266.5h1M88 274.5h1M97 273.5h1M118 268.5h1M108 265.5h1M100 273.5h1M96 267.5h1M102 268.5h1M126 260.5h1M110 271.5h1M98 275.5h1M106 267.5h1M100 272.5h1M117 266.5h1M106 265.5h1M116 267.5h1M108 273.5h1M123 267.5h1M108 267.5h1M107 268.5h1M96 271.5h1M101 270.5h1M108 268.5h1M102 273.5h1M125 262.5h1M104 268.5h1M100 274.5h1M114 269.5h1M100 270.5h1M108 268.5h1M104 270.5h1M98 268.5h1M116 266.5h1M107 271.5h1M116 271.5h1M103 272.5h1M94 274.5h1M95 274.5h1M102 273.5h1M105 273.5h1M105 268.5h1M109 269.5h1M96 276.5h1M105 264.5h1M97 277.5h1M100 272.5h1M126 264.5h1M115 266.5h1M102 270.5h1M119 264.5h1M117 266.5h1M113 269.5h1M117 265.5h1M102 268.5h1M104 269.5h1M97 270.5h1M111 270.5h1M94 272.5h1M103 275.5h1M109 269.5h1M101 271.5h1M109 272.5h1M119 263.5h1M97 272.5h1M117 267.5h1M101 274.5h1M97 270.5h1M109 275.5h1M114 268.5h1M98 269.5h1M99 272.5h1M103 274.5h1M100 273.5h1M108 272.5h1M102 278.5h1M104 273.5h1M110 274.5h1M103 273.5h1M114 265.5h1M101 276.5h1M98 271.5h1M122 266.5h1M118 267.5h1M105 268.5h1M111 266.5h1M108 268.5h1M102 273.5h1M112 271.5h1M108 269.5h1M117 271.5h1M92 278.5h1M111 266.5h1M106 268.5h1M100 272.5h1M101 270.5h1M102 271.5h1M96 276.5h1M101 273.5h1M112 270.5h1M93 273.5h1M101 269.5h1M85 274.5h1M99 267.5h1M108 268.5h1M105 270.5h1M105 269.5h1M96 274.5h1M112 273.5h1M97 270.5h1M113 268.5h1M108 265.5h1M105 270.5h1M130 255.5h1M114 263.5h1M129 256.5h1M101 268.5h1M138 255.5h1M143 254.5h1M104 267.5h1M117 270.5h1M113 264.5h1M125 268.5h1M102 276.5h1M120 259.5h1M126 265.5h1M106 263.5h1M108 270.5h1M110 264.5h1M122 254.5h1M108 267.5h1M100 266.5h1M125 266.5h1M118 259.5h1M124 261.5h1M117 267.5h1M129 260.5h1M122 264.5h1M94 273.5h1M119 267.5h1M124 258.5h1M117 267.5h1M132 254.5h1M111 268.5h1M123 258.5h1M101 271.5h1M117 267.5h1M111 272.5h1M101 264.5h1M99 269.5h1M117 261.5h1M123 268.5h1M107 265.5h1M102 274.5h1M104 268.5h1M123 256.5h1M101 272.5h1M128 256.5h1M97 276.5h1M120 267.5h1M126 267.5h1M129 256.5h1M113 273.5h1M108 273.5h1M96 266.5h1M130 269.5h1M117 272.5h1M109 264.5h1M111 268.5h1M117 259.5h1M116 265.5h1M130 260.5h1M91 278.5h1M125 258.5h1M109 268.5h1M114 262.5h1M113 268.5h1M116 268.5h1M125 262.5h1M120 268.5h1M100 275.5h1M116 267.5h1M116 270.5h1M118 259.5h1M116 265.5h1M112 259.5h1M128 260.5h1M102 269.5h1M143 258.5h1M108 266.5h1M102 268.5h1M125 261.5h1M129 259.5h1M132 261.5h1M132 255.5h1M119 257.5h1M114 259.5h1M122 268.5h1M114 261.5h1M109 266.5h1M134 253.5h1M139 260.5h1M115 263.5h1M115 271.5h1M109 265.5h1M96 274.5h1M109 271.5h1M111 271.5h1M114 261.5h1M103 269.5h1M93 274.5h1M121 255.5h1M138 259.5h1M91 277.5h1M115 268.5h1M124 256.5h1M102 272.5h1M99 274.5h1M118 269.5h1M112 264.5h1M109 271.5h1M139 264.5h1M133 256.5h1M123 260.5h1M115 264.5h1M110 261.5h1M126 260.5h1M116 272.5h1M133 254.5h1M131 258.5h1M111 272.5h1M126 263.5h1M135 258.5h1M124 261.5h1M105 269.5h1M113 266.5h1M113 269.5h1M118 265.5h1M118 268.5h1M109 260.5h1M128 264.5h1M132 257.5h1M110 268.5h1M98 271.5h1M122 266.5h1M116 265.5h1M122 265.5h1M107 265.5h1M120 264.5h1M107 274.5h1M131 264.5h1M136 255.5h1M106 270.5h1M85 276.5h1M111 267.5h1M110 268.5h1M121 268.5h1M118 267.5h1M125 268.5h1M152 257.5h1M108 263.5h1M113 268.5h1M121 261.5h1M92 268.5h1M125 257.5h1M109 266.5h1M102 278.5h1M107 269.5h1M123 262.5h1M127 261.5h1M131 256.5h1M122 263.5h1M108 268.5h1M121 256.5h1M115 263.5h1M150 266.5h1M93 277.5h1M136 257.5h1M127 264.5h1M120 259.5h1M116 266.5h1M112 271.5h1M103 264.5h1M97 270.5h1M141 253.5h1M128 259.5h1M124 260.5h1M122 264.5h1M96 278.5h1M114 267.5h1M120 268.5h1M133 263.5h1M104 267.5h1M121 264.5h1M114 265.5h1M119 267.5h1M107 267.5h1M121 262.5h1M121 271.5h1M94 273.5h1M130 253.5h1M144 254.5h1M107 270.5h1M130 257.5h1M106 270.5h1M112 271.5h1M138 254.5h1M119 263.5h1M135 255.5h1M121 264.5h1M129 259.5h1M114 262.5h1M134 257.5h1M142 263.5h1M123 255.5h1M109 262.5h1M114 268.5h1M104 264.5h1M128 269.5h1M122 257.5h1M107 263.5h1M128 258.5h1M112 271.5h1M141 259.5h1M128 263.5h1M137 258.5h1M111 273.5h1M103 263.5h1M96 275.5h1M127 267.5h1M102 266.5h1M134 259.5h1M121 268.5h1M129 265.5h1M102 270.5h1M113 274.5h1M121 266.5h1M128 265.5h1M101 267.5h1M121 260.5h1M107 266.5h1M130 267.5h1M112 257.5h1M111 259.5h1M124 265.5h1M132 259.5h1M110 255.5h1M132 257.5h1M105 268.5h1M123 268.5h1M101 263.5h1M119 262.5h1M108 273.5h1M119 267.5h1M124 258.5h1M106 268.5h1M94 268.5h1M118 270.5h1M123 261.5h1M122 268.5h1M108 272.5h1M126 257.5h1M114 265.5h1M128 263.5h1M108 270.5h1M125 268.5h1M133 263.5h1M110 269.5h1M115 269.5h1M124 259.5h1M123 260.5h1M123 265.5h1M117 266.5h1M97 268.5h1M117 264.5h1M101 268.5h1M118 262.5h1M133 254.5h1M139 253.5h1M124 265.5h1M108 269.5h1M114 267.5h1M126 255.5h1M125 261.5h1M109 267.5h1M131 256.5h1M125 259.5h1M124 261.5h1M115 269.5h1M120 271.5h1M109 269.5h1M122 269.5h1M110 268.5h1M129 254.5h1M118 265.5h1M122 268.5h1M123 268.5h1M120 260.5h1M104 280.5h1M132 256.5h1M118 262.5h1M110 266.5h1M108 275.5h1M110 269.5h1M111 271.5h1M114 257.5h1M107 269.5h1M119 264.5h1M120 267.5h1M109 266.5h1M146 258.5h1M115 263.5h1M119 258.5h1M116 258.5h1M117 270.5h1M127 264.5h1M133 255.5h1M118 269.5h1M107 268.5h1M124 262.5h1M90 270.5h1M118 262.5h1M115 266.5h1M122 264.5h1M98 270.5h1M114 271.5h1M107 275.5h1M110 265.5h1M125 263.5h1M113 260.5h1M111 269.5h1M130 256.5h1M117 264.5h1M93 275.5h1M104 269.5h1M123 267.5h1M121 260.5h1M119 262.5h1M79 275.5h1M76 263.5h1M78 272.5h1M75 269.5h1M70 267.5h1M82 264.5h1M77 265.5h1M84 262.5h1M87 265.5h1M74 268.5h1M70 271.5h1M73 260.5h1M71 263.5h1M90 260.5h1M80 267.5h1M96 267.5h1M72 267.5h1M81 270.5h1M79 273.5h1M76 272.5h1M84 270.5h1M76 271.5h1M76 264.5h1M78 263.5h1M71 271.5h1M70 280.5h1M90 267.5h1M81 263.5h1M83 270.5h1M82 266.5h1M75 264.5h1M90 275.5h1M75 278.5h1M65 270.5h1M82 265.5h1M86 270.5h1M77 268.5h1M79 261.5h1M84 273.5h1M89 270.5h1M81 275.5h1M90 265.5h1M79 268.5h1M94 268.5h1M65 259.5h1M79 257.5h1M77 262.5h1M66 266.5h1M85 260.5h1M75 271.5h1M68 266.5h1M71 269.5h1M75 270.5h1M77 269.5h1M69 269.5h1M69 268.5h1M80 271.5h1M76 273.5h1M93 267.5h1M73 266.5h1M83 266.5h1M91 270.5h1M75 266.5h1M85 266.5h1M79 260.5h1M77 279.5h1M90 262.5h1M68 277.5h1M72 273.5h1M76 270.5h1M85 271.5h1M74 270.5h1M83 272.5h1M70 273.5h1M86 276.5h1M76 263.5h1M73 271.5h1M90 277.5h1M76 276.5h1M81 263.5h1M78 270.5h1M82 270.5h1M78 270.5h1M67 257.5h1M79 273.5h1M80 260.5h1M80 280.5h1M75 272.5h1M91 268.5h1M71 272.5h1M78 269.5h1M78 266.5h1M68 268.5h1M67 270.5h1M82 264.5h1M82 272.5h1M78 274.5h1M63 274.5h1M74 275.5h1M78 275.5h1M82 272.5h1M86 276.5h1M80 269.5h1M84 271.5h1M90 276.5h1M85 267.5h1M73 261.5h1M80 280.5h1M78 275.5h1M68 278.5h1M69 273.5h1M80 270.5h1M75 265.5h1M82 263.5h1M73 276.5h1M94 274.5h1M74 270.5h1M93 263.5h1M70 266.5h1M81 265.5h1M86 267.5h1M66 253.5h1M69 270.5h1M80 277.5h1M86 266.5h1M88 269.5h1M81 270.5h1M85 263.5h1M67 271.5h1M73 264.5h1M88 266.5h1M72 270.5h1M74 268.5h1M75 264.5h1M63 273.5h1M79 263.5h1M88 273.5h1M79 266.5h1M78 262.5h1M73 268.5h1M81 263.5h1M67 266.5h1M73 268.5h1M94 273.5h1M66 273.5h1M72 271.5h1M65 267.5h1M86 260.5h1M74 267.5h1M66 267.5h1M66 268.5h1M85 266.5h1M82 266.5h1M83 273.5h1M76 261.5h1M84 269.5h1M87 275.5h1M82 264.5h1M63 263.5h1M64 267.5h1M79 270.5h1M64 276.5h1M67 268.5h1M77 272.5h1M69 265.5h1M66 266.5h1M84 270.5h1M80 265.5h1M83 275.5h1M84 266.5h1M88 268.5h1M76 263.5h1M75 266.5h1M74 266.5h1M71 259.5h1M85 269.5h1M82 278.5h1M88 259.5h1M85 278.5h1M86 268.5h1M80 273.5h1M77 263.5h1M73 280.5h1M76 263.5h1M68 268.5h1M79 277.5h1M75 262.5h1M70 264.5h1M72 263.5h1M74 264.5h1M87 261.5h1M71 276.5h1M66 275.5h1M79 261.5h1M84 268.5h1M89 266.5h1M68 275.5h1M74 264.5h1M73 277.5h1M88 269.5h1M82 264.5h1M76 268.5h1M82 265.5h1M74 269.5h1M76 266.5h1M72 269.5h1M74 277.5h1M79 263.5h1M78 259.5h1M88 276.5h1M83 272.5h1M75 266.5h1M64 275.5h1M72 254.5h1M73 275.5h1M65 268.5h1M73 272.5h1M77 268.5h1M75 265.5h1M75 275.5h1M70 254.5h1M69 269.5h1M75 273.5h1M78 260.5h1M67 257.5h1M68 274.5h1M80 275.5h1M63 265.5h1M83 270.5h1M71 261.5h1M77 278.5h1M69 265.5h1M80 276.5h1M76 267.5h1M79 267.5h1M82 264.5h1M73 267.5h1M80 264.5h1M74 264.5h1M80 275.5h1M77 268.5h1M76 267.5h1M69 260.5h1M84 275.5h1M85 274.5h1M71 270.5h1M68 273.5h1M77 251.5h1M70 266.5h1M77 269.5h1M82 269.5h1M81 265.5h1M88 270.5h1M79 264.5h1M67 265.5h1M69 262.5h1M80 269.5h1M91 265.5h1M73 266.5h1M68 276.5h1M87 268.5h1M75 268.5h1M81 260.5h1M84 266.5h1M68 274.5h1M73 272.5h1M71 269.5h1M80 268.5h1M81 269.5h1M72 271.5h1M80 267.5h1M79 279.5h1M78 275.5h1M76 268.5h1M64 276.5h1M75 261.5h1M67 276.5h1M87 270.5h1M73 273.5h1M74 267.5h1M75 269.5h1M80 272.5h1M76 274.5h1M80 271.5h1M68 271.5h1M85 265.5h1M72 278.5h1M82 270.5h1M78 267.5h1M84 267.5h1M75 262.5h1M64 264.5h1M66 260.5h1M74 270.5h1M87 268.5h1M72 270.5h1M76 262.5h1M86 266.5h1M71 265.5h1M78 274.5h1M78 260.5h1M71 260.5h1M78 276.5h1M84 270.5h1M84 260.5h1M73 276.5h1M99 277.5h1M78 275.5h1M73 257.5h1M70 269.5h1M68 264.5h1M82 267.5h1M74 278.5h1M65 265.5h1M74 270.5h1M75 273.5h1M65 272.5h1M68 271.5h1M86 266.5h1M71 270.5h1M76 267.5h1M73 256.5h1M82 274.5h1M85 265.5h1M83 266.5h1M80 266.5h1M80 261.5h1M66 262.5h1M86 259.5h1M71 271.5h1M69 275.5h1M73 269.5h1M69 262.5h1M79 276.5h1M81 267.5h1M86 260.5h1M75 258.5h1M71 269.5h1M73 276.5h1M66 266.5h1M70 265.5h1M92 267.5h1M70 264.5h1M72 265.5h1M81 270.5h1M78 264.5h1M82 274.5h1M69 263.5h1M67 272.5h1M86 270.5h1M70 266.5h1M75 267.5h1M77 267.5h1M74 264.5h1M70 275.5h1M80 274.5h1M73 267.5h1M82 255.5h1M72 269.5h1M70 269.5h1M71 273.5h1M76 266.5h1M83 267.5h1M69 275.5h1M71 268.5h1M82 263.5h1M80 272.5h1M81 268.5h1M78 265.5h1M74 272.5h1M72 264.5h1M72 263.5h1M83 267.5h1M88 267.5h1M91 269.5h1M67 262.5h1M74 278.5h1M76 272.5h1M74 269.5h1M67 270.5h1M93 255.5h1M88 274.5h1M74 263.5h1M72 271.5h1M76 262.5h1M66 274.5h1M73 266.5h1M82 267.5h1M89 277.5h1M83 274.5h1M86 261.5h1M67 265.5h1M87 267.5h1M77 273.5h1M75 265.5h1M89 258.5h1M68 263.5h1M68 267.5h1M70 271.5h1M89 273.5h1M83 275.5h1M89 267.5h1M76 272.5h1M79 268.5h1M69 266.5h1M91 266.5h1M79 274.5h1M66 261.5h1M74 276.5h1M96 260.5h1M79 259.5h1M93 273.5h1M64 271.5h1M90 278.5h1M87 276.5h1M96 277.5h1M69 278.5h1M67 257.5h1M96 279.5h1M95 263.5h1M80 259.5h1M94 278.5h1M91 263.5h1M83 260.5h1M79 270.5h1M64 276.5h1M86 264.5h1M88 277.5h1M83 279.5h1M89 269.5h1M79 262.5h1M71 264.5h1M95 260.5h1M66 267.5h1M72 266.5h1M70 263.5h1M84 266.5h1M79 263.5h1M82 277.5h1M79 278.5h1M84 267.5h1M67 259.5h1M76 263.5h1M82 273.5h1M84 280.5h1M78 274.5h1M65 258.5h1M87 265.5h1M80 258.5h1M96 270.5h1M75 266.5h1M86 267.5h1M64 263.5h1M86 259.5h1M65 275.5h1M84 265.5h1M85 258.5h1M87 261.5h1M80 258.5h1M79 277.5h1M67 261.5h1M72 279.5h1M90 279.5h1M96 259.5h1M74 275.5h1M81 262.5h1M73 273.5h1M73 279.5h1M90 267.5h1M91 262.5h1M84 272.5h1M93 271.5h1M63 262.5h1M94 269.5h1M67 268.5h1M64 266.5h1M67 265.5h1M72 278.5h1M81 272.5h1M65 266.5h1M94 270.5h1M78 271.5h1M96 277.5h1M87 267.5h1M72 276.5h1M70 260.5h1M91 274.5h1M83 273.5h1M66 257.5h1M72 272.5h1M67 258.5h1M83 278.5h1M93 270.5h1M76 260.5h1M64 274.5h1M95 263.5h1M91 258.5h1M64 270.5h1M73 275.5h1M76 273.5h1M96 275.5h1M64 273.5h1M97 266.5h1M84 262.5h1M77 264.5h1M77 276.5h1M86 257.5h1M74 258.5h1M73 278.5h1M90 257.5h1M74 270.5h1M91 278.5h1M75 269.5h1M86 274.5h1M63 257.5h1M81 274.5h1M78 271.5h1M90 271.5h1M84 263.5h1M85 271.5h1M69 274.5h1M92 276.5h1M91 258.5h1M81 277.5h1M85 273.5h1M72 269.5h1M72 274.5h1M82 274.5h1M78 269.5h1M67 277.5h1M93 277.5h1M87 275.5h1M70 262.5h1M95 266.5h1M82 278.5h1M79 270.5h1M92 260.5h1M67 275.5h1M66 261.5h1M96 279.5h1M67 272.5h1M78 279.5h1M96 264.5h1M74 277.5h1M95 264.5h1M69 258.5h1M93 274.5h1M63 278.5h1M80 278.5h1M95 260.5h1M90 270.5h1M86 272.5h1M79 264.5h1M89 274.5h1M87 265.5h1M68 277.5h1M87 270.5h1M91 267.5h1M86 268.5h1M71 266.5h1M76 268.5h1M70 273.5h1M76 264.5h1M77 257.5h1M90 272.5h1M88 267.5h1M69 277.5h1M90 257.5h1M87 275.5h1M74 264.5h1M83 276.5h1M67 264.5h1M69 259.5h1M72 272.5h1M89 261.5h1M69 275.5h1M72 270.5h1M81 277.5h1M77 272.5h1M70 267.5h1M81 271.5h1M97 258.5h1M80 259.5h1M92 262.5h1M92 269.5h1M68 278.5h1M80 257.5h1M78 263.5h1M91 259.5h1M87 276.5h1M84 277.5h1M93 270.5h1M67 262.5h1M67 276.5h1M79 264.5h1M85 271.5h1M86 275.5h1M92 264.5h1M69 262.5h1M67 258.5h1M75 278.5h1M87 257.5h1M73 276.5h1M88 279.5h1M82 266.5h1M73 260.5h1M82 273.5h1M79 261.5h1M92 267.5h1M90 264.5h1M71 274.5h1M70 274.5h1M92 271.5h1M92 268.5h1M92 274.5h1M76 261.5h1M67 261.5h1M82 261.5h1M95 261.5h1M83 267.5h1M86 260.5h1M64 278.5h1M77 258.5h1M69 278.5h1M66 275.5h1M70 270.5h1M73 269.5h1M80 275.5h1M84 264.5h1M81 276.5h1M75 267.5h1M68 275.5h1M80 269.5h1M94 279.5h1M94 271.5h1M94 272.5h1M93 262.5h1M83 280.5h1M81 258.5h1M71 257.5h1M88 265.5h1M83 280.5h1M77 263.5h1M65 258.5h1M69 264.5h1M86 274.5h1M81 275.5h1M89 258.5h1M67 266.5h1M86 267.5h1M93 261.5h1M64 260.5h1M96 264.5h1M65 266.5h1M88 271.5h1M81 272.5h1M74 271.5h1M75 266.5h1M64 261.5h1M89 259.5h1M64 260.5h1M96 274.5h1M96 261.5h1M91 268.5h1M67 262.5h1M84 263.5h1M91 274.5h1M77 275.5h1M77 269.5h1M90 271.5h1M64 271.5h1M76 275.5h1M92 257.5h1M90 263.5h1M94 275.5h1M92 280.5h1M70 273.5h1M94 276.5h1M71 261.5h1M82 257.5h1M83 279.5h1M86 262.5h1M84 263.5h1M71 271.5h1M93 269.5h1M68 276.5h1M88 262.5h1M63 261.5h1M93 258.5h1M93 275.5h1M72 272.5h1M82 272.5h1M79 263.5h1M95 261.5h1M73 274.5h1M66 275.5h1M77 263.5h1M74 264.5h1M72 275.5h1M89 275.5h1M76 261.5h1M68 263.5h1M69 274.5h1M93 273.5h1M79 265.5h1M70 275.5h1M79 273.5h1M67 267.5h1M79 268.5h1M71 261.5h1M76 266.5h1M95 259.5h1M79 269.5h1M88 258.5h1M74 257.5h1M70 279.5h1M75 260.5h1M70 264.5h1M80 277.5h1M86 258.5h1M72 270.5h1M87 268.5h1M80 270.5h1M90 272.5h1M89 268.5h1M95 278.5h1M86 272.5h1M65 260.5h1M75 270.5h1M76 258.5h1M93 263.5h1M92 278.5h1M70 258.5h1M94 265.5h1M77 258.5h1M86 277.5h1M86 258.5h1M78 270.5h1M82 267.5h1M79 277.5h1M86 258.5h1M91 257.5h1M81 276.5h1M93 261.5h1M80 267.5h1M65 278.5h1M83 264.5h1M74 261.5h1M88 276.5h1M73 275.5h1M85 280.5h1M70 275.5h1M85 271.5h1M83 261.5h1M87 274.5h1M64 270.5h1M78 266.5h1M88 270.5h1M78 260.5h1M73 278.5h1M89 265.5h1M86 278.5h1M78 275.5h1M92 272.5h1M86 263.5h1M97 273.5h1M85 265.5h1M96 278.5h1M88 265.5h1M78 277.5h1M63 258.5h1M88 275.5h1M78 268.5h1M92 271.5h1M93 271.5h1M91 280.5h1M82 271.5h1M84 279.5h1M85 273.5h1M78 267.5h1M77 278.5h1M96 274.5h1M63 273.5h1M93 278.5h1M67 261.5h1M67 261.5h1M89 271.5h1M64 265.5h1M85 260.5h1M71 263.5h1M92 257.5h1M82 276.5h1M71 259.5h1M83 257.5h1M88 270.5h1M92 263.5h1M64 260.5h1M94 269.5h1M91 266.5h1M71 266.5h1M83 272.5h1M81 260.5h1M84 268.5h1M71 278.5h1M94 265.5h1M87 274.5h1M82 265.5h1M95 262.5h1M76 266.5h1M81 258.5h1M85 263.5h1M84 264.5h1M74 276.5h1M83 277.5h1M78 274.5h1M88 268.5h1M75 258.5h1M78 273.5h1M83 268.5h1M69 275.5h1M82 268.5h1M93 258.5h1M87 269.5h1M80 259.5h1M67 277.5h1M83 258.5h1M77 267.5h1M76 260.5h1M87 270.5h1M96 258.5h1M81 280.5h1M69 272.5h1M86 276.5h1M78 265.5h1M92 265.5h1M89 266.5h1M75 257.5h1M91 273.5h1M81 269.5h1M87 271.5h1M65 264.5h1M72 258.5h1M92 272.5h1M64 276.5h1M86 266.5h1M94 266.5h1M92 263.5h1M68 262.5h1M67 274.5h1M76 269.5h1M65 280.5h1M84 271.5h1M85 261.5h1M86 263.5h1M91 272.5h1M74 265.5h1M64 273.5h1M81 258.5h1M80 262.5h1M67 262.5h1M81 257.5h1M90 246.5h1M79 256.5h1M90 236.5h1M93 257.5h1M92 252.5h1M64 266.5h1M102 236.5h1M94 276.5h1M93 256.5h1M84 246.5h1M84 263.5h1M78 263.5h1M89 263.5h1M95 277.5h1M77 252.5h1M94 261.5h1M78 260.5h1M91 253.5h1M82 261.5h1M94 270.5h1M107 252.5h1M87 263.5h1M78 267.5h1M79 265.5h1M91 246.5h1M78 261.5h1M96 256.5h1M88 269.5h1M95 258.5h1M77 276.5h1M73 249.5h1M75 263.5h1M89 252.5h1M75 274.5h1M92 272.5h1M76 265.5h1M82 259.5h1M77 250.5h1M66 260.5h1M83 263.5h1M81 256.5h1M93 261.5h1M74 262.5h1M65 261.5h1M78 249.5h1M86 260.5h1M85 263.5h1M86 246.5h1M98 272.5h1M80 271.5h1M82 260.5h1M74 277.5h1M77 252.5h1M96 251.5h1M88 254.5h1M98 275.5h1M79 259.5h1M96 262.5h1M86 272.5h1M91 260.5h1M94 256.5h1M88 261.5h1M69 270.5h1M88 257.5h1M76 271.5h1M81 258.5h1M91 263.5h1M85 276.5h1M84 257.5h1M105 271.5h1M87 264.5h1M95 260.5h1M88 259.5h1M104 266.5h1M80 264.5h1M98 262.5h1M106 265.5h1M80 252.5h1M96 254.5h1M68 251.5h1M88 256.5h1M93 257.5h1M74 256.5h1M63 264.5h1M85 251.5h1M80 257.5h1M86 266.5h1M88 273.5h1M94 259.5h1M103 269.5h1M89 271.5h1M66 251.5h1M92 261.5h1M89 250.5h1M86 256.5h1M103 262.5h1M87 248.5h1M80 264.5h1M90 258.5h1M65 257.5h1M96 264.5h1M85 252.5h1M104 245.5h1M92 259.5h1M89 253.5h1M87 257.5h1M70 250.5h1M83 251.5h1M88 250.5h1M96 248.5h1M89 252.5h1M93 252.5h1M92 259.5h1M88 254.5h1M82 246.5h1M70 264.5h1M67 249.5h1M94 252.5h1M101 256.5h1M101 259.5h1M74 260.5h1M102 261.5h1M103 258.5h1M75 268.5h1M90 266.5h1M105 254.5h1M86 257.5h1M98 248.5h1M77 264.5h1M80 257.5h1M95 275.5h1M83 253.5h1M86 272.5h1M86 251.5h1M72 245.5h1M102 252.5h1M83 262.5h1M81 267.5h1M79 252.5h1M85 267.5h1M73 255.5h1M95 255.5h1M80 256.5h1M94 273.5h1M74 260.5h1M72 261.5h1M74 246.5h1M87 260.5h1M69 261.5h1M94 272.5h1M81 252.5h1M95 253.5h1M80 251.5h1M94 253.5h1M72 264.5h1M71 252.5h1M91 269.5h1M78 259.5h1M97 251.5h1M76 253.5h1M90 247.5h1M75 247.5h1M64 268.5h1M101 266.5h1M82 251.5h1M96 255.5h1M86 272.5h1M64 253.5h1M89 261.5h1M97 263.5h1M100 257.5h1M104 257.5h1M89 256.5h1M83 260.5h1M85 246.5h1M71 259.5h1M93 260.5h1M93 248.5h1M88 263.5h1M75 251.5h1M92 237.5h1M78 243.5h1M99 260.5h1M77 263.5h1M78 255.5h1M81 247.5h1M72 257.5h1M74 266.5h1M81 258.5h1M108 263.5h1M89 257.5h1M88 257.5h1M74 259.5h1M87 263.5h1M84 258.5h1M85 251.5h1M67 258.5h1M83 260.5h1M82 248.5h1M74 258.5h1M77 251.5h1M80 261.5h1M94 254.5h1M99 233.5h1M85 267.5h1M71 253.5h1M102 250.5h1M68 246.5h1M78 250.5h1M82 248.5h1M75 257.5h1M100 260.5h1M89 258.5h1M97 262.5h1M81 252.5h1M94 264.5h1M82 258.5h1M89 244.5h1M90 243.5h1M99 247.5h1M98 237.5h1M66 245.5h1M65 239.5h1M91 237.5h1M70 258.5h1M89 254.5h1M67 243.5h1M80 250.5h1M79 241.5h1M79 256.5h1M84 250.5h1M68 246.5h1M80 242.5h1M100 246.5h1M65 252.5h1M92 253.5h1M84 237.5h1M70 257.5h1M88 247.5h1M76 256.5h1M81 237.5h1M71 255.5h1M100 249.5h1M98 238.5h1M82 236.5h1M81 241.5h1M78 256.5h1M84 250.5h1M86 243.5h1M91 243.5h1M68 252.5h1M97 245.5h1M66 238.5h1M98 250.5h1M71 247.5h1M81 255.5h1M94 238.5h1M76 251.5h1M67 253.5h1M88 247.5h1M90 254.5h1M78 256.5h1M87 252.5h1M94 240.5h1M63 239.5h1M87 248.5h1M86 258.5h1M80 257.5h1M70 246.5h1M76 250.5h1M78 243.5h1M93 250.5h1M90 236.5h1M82 256.5h1M74 256.5h1M95 251.5h1M64 239.5h1M78 249.5h1M80 185.5h1M74 246.5h1M80 195.5h1M83 246.5h1M79 221.5h1M79 242.5h1M69 252.5h1M81 254.5h1M83 183.5h1M81 247.5h1M78 238.5h1M79 209.5h1M86 196.5h1M75 232.5h1M76 235.5h1M80 189.5h1M78 237.5h1M70 224.5h1M77 234.5h1M78 244.5h1M74 218.5h1M78 250.5h1M78 226.5h1M71 202.5h1M78 210.5h1M84 204.5h1M82 251.5h1M73 232.5h1M73 224.5h1M77 250.5h1M78 228.5h1M73 221.5h1M74 216.5h1M81 246.5h1M78 222.5h1M80 210.5h1M77 196.5h1M80 204.5h1M75 240.5h1M75 196.5h1M74 245.5h1M71 242.5h1M76 199.5h1M72 187.5h1M75 245.5h1M77 227.5h1M77 245.5h1M78 251.5h1M76 194.5h1M77 232.5h1M80 200.5h1M76 220.5h1M77 187.5h1M69 242.5h1M73 212.5h1M80 190.5h1M74 187.5h1M73 214.5h1M80 205.5h1M73 235.5h1M80 193.5h1M76 205.5h1M75 250.5h1M70 208.5h1M81 188.5h1M71 194.5h1M73 249.5h1M79 192.5h1M73 196.5h1M78 227.5h1M77 210.5h1M76 178.5h1M73 214.5h1M75 197.5h1M78 213.5h1M74 226.5h1M79 220.5h1M77 188.5h1M78 233.5h1M77 196.5h1M79 242.5h1M78 221.5h1M79 178.5h1M78 255.5h1M78 200.5h1M74 172.5h1M71 245.5h1M77 215.5h1M80 210.5h1M74 239.5h1M72 255.5h1M75 190.5h1M78 242.5h1M79 254.5h1M76 251.5h1M73 205.5h1M77 179.5h1M79 221.5h1M77 229.5h1M80 199.5h1M75 228.5h1M80 176.5h1M82 246.5h1M74 209.5h1M74 179.5h1M79 202.5h1M87 248.5h1M78 195.5h1M77 201.5h1M81 208.5h1M76 216.5h1M72 194.5h1M74 198.5h1M81 242.5h1M71 228.5h1M72 197.5h1M79 254.5h1M77 208.5h1M81 224.5h1M73 231.5h1M74 254.5h1M76 235.5h1M73 246.5h1M76 213.5h1M76 205.5h1M79 239.5h1M76 229.5h1M75 216.5h1M78 185.5h1M80 217.5h1M80 182.5h1M78 237.5h1M76 198.5h1M75 223.5h1M73 219.5h1M77 172.5h1M77 253.5h1M82 196.5h1M77 238.5h1M79 250.5h1M81 219.5h1M71 207.5h1M75 183.5h1M76 204.5h1M77 217.5h1M73 213.5h1M79 197.5h1M80 229.5h1M78 240.5h1M81 212.5h1M87 211.5h1M78 184.5h1M70 229.5h1M89 206.5h1M65 229.5h1M94 174.5h1M74 206.5h1M75 192.5h1M84 176.5h1M84 237.5h1M85 217.5h1M65 232.5h1M71 212.5h1M83 194.5h1M84 204.5h1M79 178.5h1M93 213.5h1M78 217.5h1M89 208.5h1M91 223.5h1M83 191.5h1M78 233.5h1M87 217.5h1M84 186.5h1M86 217.5h1M71 219.5h1M85 234.5h1M96 204.5h1M77 186.5h1M81 180.5h1M78 193.5h1M89 200.5h1M96 174.5h1M85 178.5h1M78 222.5h1M83 184.5h1M91 172.5h1M84 176.5h1M87 216.5h1M92 211.5h1M82 235.5h1M87 180.5h1M95 216.5h1M86 175.5h1M74 227.5h1M88 206.5h1M100 174.5h1M85 237.5h1M84 203.5h1M89 234.5h1M76 179.5h1M80 203.5h1M141 259.5h1M70 233.5h1M126 261.5h1M172 260.5h1M92 263.5h1M92 268.5h1M92 187.5h1M122 224.5h1M101 280.5h1M130 202.5h1M172 207.5h1M73 264.5h1M169 256.5h1M151 259.5h1M134 264.5h1M149 188.5h1M79 230.5h1M65 216.5h1M128 215.5h1M87 264.5h1M94 280.5h1M98 248.5h1M101 174.5h1M127 217.5h1M161 275.5h1M165 228.5h1M122 196.5h1M80 185.5h1M103 193.5h1M172 181.5h1M77 261.5h1M154 245.5h1M128 240.5h1M150 256.5h1M94 184.5h1M116 230.5h1M117 204.5h1M109 258.5h1M75 198.5h1M128 189.5h1M96 202.5h1M112 234.5h1M81 222.5h1M70 193.5h1M67 252.5h1M67 254.5h1M128 243.5h1M69 198.5h1M73 176.5h1M124 228.5h1M64 230.5h1M119 251.5h1M115 173.5h1M124 192.5h1M106 254.5h1M80 260.5h1M129 202.5h1M115 248.5h1M81 244.5h1M81 181.5h1M114 239.5h1M100 207.5h1M123 200.5h1M87 234.5h1M76 209.5h1M113 250.5h1M67 196.5h1M83 193.5h1M91 178.5h1M101 247.5h1M98 205.5h1M123 176.5h1M119 258.5h1M74 185.5h1M148 238.5h1M134 242.5h1M148 237.5h1M109 269.5h1M136 259.5h1M142 242.5h1M89 260.5h1M143 260.5h1M129 245.5h1M138 242.5h1M123 242.5h1M147 257.5h1M114 253.5h1M112 253.5h1M135 243.5h1M134 239.5h1M99 265.5h1M143 237.5h1M143 240.5h1M138 231.5h1M106 244.5h1M145 239.5h1M131 243.5h1M136 233.5h1M120 245.5h1M114 251.5h1M103 231.5h1M112 258.5h1M138 243.5h1M105 242.5h1M110 251.5h1M129 252.5h1M117 251.5h1M84 261.5h1M110 253.5h1M117 257.5h1M149 230.5h1M133 242.5h1M104 258.5h1M101 256.5h1M111 243.5h1M126 246.5h1M106 248.5h1M130 248.5h1M92 243.5h1M124 235.5h1M141 232.5h1M72 262.5h1M127 271.5h1M129 257.5h1M133 258.5h1M124 249.5h1M124 264.5h1M128 251.5h1M124 250.5h1M126 259.5h1M149 232.5h1M136 226.5h1M137 235.5h1M113 265.5h1M115 260.5h1M142 246.5h1M102 253.5h1M141 243.5h1M98 260.5h1M160 232.5h1M147 250.5h1M110 244.5h1M116 263.5h1M83 257.5h1M119 242.5h1M144 241.5h1M131 239.5h1M117 250.5h1M156 224.5h1M131 243.5h1M130 248.5h1M117 255.5h1M132 244.5h1M174 247.5h1M127 233.5h1M90 256.5h1M125 245.5h1M158 240.5h1M144 242.5h1M115 264.5h1M128 248.5h1M92 249.5h1M140 268.5h1M106 255.5h1M125 170.5h1M122 170.5h1M132 170.5h1M101 170.5h1M90 170.5h1M93 170.5h1M70 170.5h1M74 170.5h1M129 170.5h1M112 170.5h1M124 170.5h1M124 170.5h1M120 170.5h1M88 170.5h1M66 170.5h1M93 170.5h1M131 170.5h1M71 170.5h1M100 170.5h1M74 170.5h1M119 170.5h1M121 170.5h1M71 170.5h1M107 170.5h1M131 170.5h1M85 170.5h1M97 170.5h1M93 170.5h1M89 170.5h1M98 170.5h1M77 170.5h1M98 170.5h1M94 170.5h1M128 170.5h1M90 170.5h1M126 170.5h1M112 170.5h1M126 170.5h1M128 170.5h1M123 170.5h1M96 170.5h1M110 170.5h1M75 170.5h1M129 170.5h1M122 170.5h1M96 170.5h1M119 170.5h1M107 170.5h1M67 170.5h1M84 170.5h1M67 170.5h1M107 170.5h1M122 170.5h1M73 170.5h1M71 170.5h1M67 170.5h1M98 170.5h1M130 170.5h1M128 170.5h1M109 170.5h1M79 172.5h1M104 173.5h1M64 173.5h1M86 173.5h1M90 172.5h1M110 172.5h1M79 172.5h1M109 173.5h1M81 172.5h1M108 172.5h1M91 172.5h1M78 172.5h1M89 173.5h1M92 173.5h1M82 172.5h1M69 172.5h1M64 171.5h1M88 172.5h1M108 172.5h1M68 172.5h1M76 172.5h1M89 171.5h1M72 172.5h1M84 171.5h1M104 173.5h1" stroke="#000" stroke-opacity="0.88" stroke-width="1" fill="none"/>
<path d="M58.0 169.3V283.4H178.0" fill="none" stroke="#000" stroke-width="1.4" stroke-linecap="square"/>
<path d="M58.0 169.5H177.5V283.4" fill="none" stroke="#1a1a1a" stroke-width="1.15"/>
<path d="M58.90 283.40v4.6M81.78 283.40v4.6M104.66 283.40v4.6M127.54 283.40v4.6M150.42 283.40v4.6M173.30 283.40v4.6" stroke="#000" stroke-width="1.2" fill="none"/>
<path d="M58.90 283.40v2.8M63.48 283.40v2.8M68.05 283.40v2.8M72.63 283.40v2.8M77.20 283.40v2.8M81.78 283.40v2.8M86.36 283.40v2.8M90.93 283.40v2.8M95.51 283.40v2.8M100.08 283.40v2.8M104.66 283.40v2.8M109.24 283.40v2.8M113.81 283.40v2.8M118.39 283.40v2.8M122.96 283.40v2.8M127.54 283.40v2.8M132.12 283.40v2.8M136.69 283.40v2.8M141.27 283.40v2.8M145.84 283.40v2.8M150.42 283.40v2.8M155.00 283.40v2.8M159.57 283.40v2.8M164.15 283.40v2.8M168.72 283.40v2.8M173.30 283.40v2.8" stroke="#000" stroke-width="1.2" fill="none"/>
<path d="M58.00 282.60h-5.0M58.00 260.78h-5.0M58.00 238.96h-5.0M58.00 217.14h-5.0M58.00 195.32h-5.0M58.00 173.50h-5.0" stroke="#000" stroke-width="1.2" fill="none"/>
<path d="M58.00 282.60h-3.2M58.00 278.24h-3.2M58.00 273.87h-3.2M58.00 269.51h-3.2M58.00 265.14h-3.2M58.00 260.78h-3.2M58.00 256.42h-3.2M58.00 252.05h-3.2M58.00 247.69h-3.2M58.00 243.32h-3.2M58.00 238.96h-3.2M58.00 234.60h-3.2M58.00 230.23h-3.2M58.00 225.87h-3.2M58.00 221.50h-3.2M58.00 217.14h-3.2M58.00 212.78h-3.2M58.00 208.41h-3.2M58.00 204.05h-3.2M58.00 199.68h-3.2M58.00 195.32h-3.2M58.00 190.96h-3.2M58.00 186.59h-3.2M58.00 182.23h-3.2M58.00 177.86h-3.2M58.00 173.50h-3.2" stroke="#000" stroke-width="1.2" fill="none"/>
<text transform="translate(58.90,296.90) scale(0.81,1)" text-anchor="middle" font-size="9.9" fill="#111" stroke="#111" stroke-width="0.35">0</text>
<text transform="translate(50.50,282.60) rotate(-90) scale(0.81,1)" text-anchor="middle" font-size="9.9" fill="#111" stroke="#111" stroke-width="0.35">0</text>
<text transform="translate(81.78,296.90) scale(0.81,1)" text-anchor="middle" font-size="9.9" fill="#111" stroke="#111" stroke-width="0.35">200</text>
<text transform="translate(50.50,260.78) rotate(-90) scale(0.81,1)" text-anchor="middle" font-size="9.9" fill="#111" stroke="#111" stroke-width="0.35">200</text>
<text transform="translate(104.66,296.90) scale(0.81,1)" text-anchor="middle" font-size="9.9" fill="#111" stroke="#111" stroke-width="0.35">400</text>
<text transform="translate(50.50,238.96) rotate(-90) scale(0.81,1)" text-anchor="middle" font-size="9.9" fill="#111" stroke="#111" stroke-width="0.35">400</text>
<text transform="translate(127.54,296.90) scale(0.81,1)" text-anchor="middle" font-size="9.9" fill="#111" stroke="#111" stroke-width="0.35">600</text>
<text transform="translate(50.50,217.14) rotate(-90) scale(0.81,1)" text-anchor="middle" font-size="9.9" fill="#111" stroke="#111" stroke-width="0.35">600</text>
<text transform="translate(150.42,296.90) scale(0.81,1)" text-anchor="middle" font-size="9.9" fill="#111" stroke="#111" stroke-width="0.35">800</text>
<text transform="translate(50.50,195.32) rotate(-90) scale(0.81,1)" text-anchor="middle" font-size="9.9" fill="#111" stroke="#111" stroke-width="0.35">800</text>
<text transform="translate(174.10,296.90) scale(0.81,1)" text-anchor="middle" font-size="9.9" fill="#111" stroke="#111" stroke-width="0.35">1000</text>
<text transform="translate(50.50,173.00) rotate(-90) scale(0.81,1)" text-anchor="middle" font-size="9.9" fill="#111" stroke="#111" stroke-width="0.35">1000</text>
<ellipse cx="117.85" cy="263.2" rx="29.8" ry="13.6" transform="rotate(-20.5 117.85 263.2)" fill="none" stroke="#000" stroke-width="1.6"/>
<text transform="translate(117.90,310.80)" text-anchor="middle" font-size="13.9" font-weight="bold" fill="#111" stroke="#111" stroke-width="0.22" >FSC</text>
<text transform="translate(36.90,226.70) rotate(-90)" text-anchor="middle" font-size="14.3" font-weight="bold" fill="#111" stroke="#111" stroke-width="0.22" >SSC</text>
<path d="M237 264.5h1M241 269.5h1M243 267.5h1M243 267.5h1M239 257.5h1M246 260.5h1M250 259.5h1M247 260.5h1M237 260.5h1M228 271.5h1M243 269.5h1M246 261.5h1M246 263.5h1M232 267.5h1M246 263.5h1M236 261.5h1M252 266.5h1M234 256.5h1M235 263.5h1M234 256.5h1M244 267.5h1M232 259.5h1M258 255.5h1M239 265.5h1M254 257.5h1M240 266.5h1M239 263.5h1M238 275.5h1M234 260.5h1M244 260.5h1M251 265.5h1M242 265.5h1M235 268.5h1M243 263.5h1M236 270.5h1M244 271.5h1M227 261.5h1M237 267.5h1M242 263.5h1M239 267.5h1M238 260.5h1M254 266.5h1M247 256.5h1M254 266.5h1M244 267.5h1M241 255.5h1M255 264.5h1M235 256.5h1M245 267.5h1M241 256.5h1M244 264.5h1M246 262.5h1M241 256.5h1M246 254.5h1M236 268.5h1M245 261.5h1M235 272.5h1M250 263.5h1M252 276.5h1M240 266.5h1M239 274.5h1M242 266.5h1M246 264.5h1M230 270.5h1M233 262.5h1M248 260.5h1M242 273.5h1M231 266.5h1M239 268.5h1M227 263.5h1M242 265.5h1M242 270.5h1M257 268.5h1M234 276.5h1M247 269.5h1M233 270.5h1M234 269.5h1M240 266.5h1M235 266.5h1M258 273.5h1M241 264.5h1M237 274.5h1M259 260.5h1M237 272.5h1M235 251.5h1M240 266.5h1M235 263.5h1M248 271.5h1M252 270.5h1M231 264.5h1M237 265.5h1M239 270.5h1M231 269.5h1M231 267.5h1M239 270.5h1M233 260.5h1M245 272.5h1M248 266.5h1M240 250.5h1M242 260.5h1M234 266.5h1M239 277.5h1M244 264.5h1M244 257.5h1M242 272.5h1M246 266.5h1M239 265.5h1M233 272.5h1M243 263.5h1M238 265.5h1M229 273.5h1M248 266.5h1M245 269.5h1M246 262.5h1M239 274.5h1M251 256.5h1M243 258.5h1M249 266.5h1M236 265.5h1M239 267.5h1M251 263.5h1M241 264.5h1M240 260.5h1M253 264.5h1M251 270.5h1M242 261.5h1M258 271.5h1M232 275.5h1M240 261.5h1M238 270.5h1M251 257.5h1M253 262.5h1M237 261.5h1M242 262.5h1M246 255.5h1M245 264.5h1M242 260.5h1M248 259.5h1M254 252.5h1M242 265.5h1M235 276.5h1M240 264.5h1M241 264.5h1M237 260.5h1M246 262.5h1M246 260.5h1M247 256.5h1M244 260.5h1M243 262.5h1M234 268.5h1M238 264.5h1M235 268.5h1M245 271.5h1M241 270.5h1M241 263.5h1M243 256.5h1M239 265.5h1M249 264.5h1M250 268.5h1M234 267.5h1M254 277.5h1M238 264.5h1M237 269.5h1M238 261.5h1M231 262.5h1M244 263.5h1M251 264.5h1M231 271.5h1M241 249.5h1M247 270.5h1M248 271.5h1M248 271.5h1M245 269.5h1M238 265.5h1M249 266.5h1M245 271.5h1M246 259.5h1M244 268.5h1M240 268.5h1M241 264.5h1M248 273.5h1M248 260.5h1M232 267.5h1M228 264.5h1M239 272.5h1M235 258.5h1M241 258.5h1M239 267.5h1M252 267.5h1M235 260.5h1M237 272.5h1M233 257.5h1M240 270.5h1M242 260.5h1M237 263.5h1M236 275.5h1M231 267.5h1M242 261.5h1M237 267.5h1M236 276.5h1M239 266.5h1M243 261.5h1M257 263.5h1M252 256.5h1M234 263.5h1M237 263.5h1M227 271.5h1M228 270.5h1M249 269.5h1M242 273.5h1M229 259.5h1M236 266.5h1M236 260.5h1M237 269.5h1M252 264.5h1M227 268.5h1M237 263.5h1M242 260.5h1M243 256.5h1M242 264.5h1M232 267.5h1M237 267.5h1M230 271.5h1M249 273.5h1M264 259.5h1M249 266.5h1M237 257.5h1M228 266.5h1M247 260.5h1M249 260.5h1M234 272.5h1M248 264.5h1M228 268.5h1M232 267.5h1M242 264.5h1M231 266.5h1M246 260.5h1M251 260.5h1M241 263.5h1M245 263.5h1M251 253.5h1M245 264.5h1M251 263.5h1M252 265.5h1M232 261.5h1M257 257.5h1M251 267.5h1M242 261.5h1M248 266.5h1M243 261.5h1M242 259.5h1M232 259.5h1M238 262.5h1M238 263.5h1M248 257.5h1M246 271.5h1M244 264.5h1M240 261.5h1M252 270.5h1M234 263.5h1M247 258.5h1M238 265.5h1M247 267.5h1M252 255.5h1M249 269.5h1M230 265.5h1M241 269.5h1M233 266.5h1M246 266.5h1M250 266.5h1M241 271.5h1M245 261.5h1M242 274.5h1M254 256.5h1M243 266.5h1M244 268.5h1M246 264.5h1M250 267.5h1M245 256.5h1M241 265.5h1M243 270.5h1M245 264.5h1M245 259.5h1M239 266.5h1M237 267.5h1M239 260.5h1M246 270.5h1M238 263.5h1M232 262.5h1M239 266.5h1M237 262.5h1M246 263.5h1M238 267.5h1M238 263.5h1M256 265.5h1M245 266.5h1M236 272.5h1M249 258.5h1M239 266.5h1M236 267.5h1M247 265.5h1M229 257.5h1M240 260.5h1M246 266.5h1M248 266.5h1M238 266.5h1M238 266.5h1M242 271.5h1M250 261.5h1M227 264.5h1M249 271.5h1M244 267.5h1M252 262.5h1M233 263.5h1M252 271.5h1M235 265.5h1M243 260.5h1M240 272.5h1M241 264.5h1M245 267.5h1M248 262.5h1M236 263.5h1M233 269.5h1M246 258.5h1M239 264.5h1M250 267.5h1M251 257.5h1M241 272.5h1M240 264.5h1M236 266.5h1M242 268.5h1M247 261.5h1M250 264.5h1M243 271.5h1M257 268.5h1M236 258.5h1M243 271.5h1M237 263.5h1M239 267.5h1M240 266.5h1M237 267.5h1M238 263.5h1M244 267.5h1M244 270.5h1M233 264.5h1M245 264.5h1M236 270.5h1M246 269.5h1M243 266.5h1M228 269.5h1M234 269.5h1M248 262.5h1M237 267.5h1M237 265.5h1M238 264.5h1M240 253.5h1M244 255.5h1M240 267.5h1M255 266.5h1M238 268.5h1M238 266.5h1M240 264.5h1M244 267.5h1M252 261.5h1M259 261.5h1M241 273.5h1M239 258.5h1M246 261.5h1M241 264.5h1M246 254.5h1M233 261.5h1M249 269.5h1M245 263.5h1M248 270.5h1M259 256.5h1M237 275.5h1M247 263.5h1M246 261.5h1M236 271.5h1M244 267.5h1M236 267.5h1M233 266.5h1M229 258.5h1M238 255.5h1M234 266.5h1M227 273.5h1M243 260.5h1M229 268.5h1M245 256.5h1M242 257.5h1M235 266.5h1M230 271.5h1M236 270.5h1M233 273.5h1M238 261.5h1M239 264.5h1M261 265.5h1M237 264.5h1M246 264.5h1M249 263.5h1M253 267.5h1M235 268.5h1M247 261.5h1M241 269.5h1M249 268.5h1M247 266.5h1M231 269.5h1M236 268.5h1M235 263.5h1M231 267.5h1M243 259.5h1M236 265.5h1M245 260.5h1M240 261.5h1M237 256.5h1M255 261.5h1M251 268.5h1M228 252.5h1M253 269.5h1M247 263.5h1M251 259.5h1M245 265.5h1M228 266.5h1M239 265.5h1M231 268.5h1M237 267.5h1M251 261.5h1M242 264.5h1M242 260.5h1M247 263.5h1M234 262.5h1M251 268.5h1M243 263.5h1M235 270.5h1M238 272.5h1M241 270.5h1M245 260.5h1M254 270.5h1M237 256.5h1M241 272.5h1M253 249.5h1M265 255.5h1M255 261.5h1M242 261.5h1M237 255.5h1M245 256.5h1M244 265.5h1M234 258.5h1M252 265.5h1M262 266.5h1M236 272.5h1M236 267.5h1M238 265.5h1M231 265.5h1M250 276.5h1M232 273.5h1M247 266.5h1M245 266.5h1M248 269.5h1M228 258.5h1M243 268.5h1M243 261.5h1M246 252.5h1M245 269.5h1M236 262.5h1M251 265.5h1M251 259.5h1M251 260.5h1M237 273.5h1M246 265.5h1M235 268.5h1M239 257.5h1M248 268.5h1M230 264.5h1M263 262.5h1M250 258.5h1M236 268.5h1M238 268.5h1M239 258.5h1M241 266.5h1M231 262.5h1M242 271.5h1M230 269.5h1M237 266.5h1M258 276.5h1M242 269.5h1M238 263.5h1M254 266.5h1M244 265.5h1M248 270.5h1M236 261.5h1M252 272.5h1M238 263.5h1M248 261.5h1M246 260.5h1M254 260.5h1M251 272.5h1M242 265.5h1M232 261.5h1M239 264.5h1M236 267.5h1M254 267.5h1M238 264.5h1M247 278.5h1M248 263.5h1M235 267.5h1M246 258.5h1M232 271.5h1M243 262.5h1M242 274.5h1M245 270.5h1M246 268.5h1M236 263.5h1M247 262.5h1M237 264.5h1M242 265.5h1M252 261.5h1M234 263.5h1M242 265.5h1M254 262.5h1M251 261.5h1M237 270.5h1M238 271.5h1M245 261.5h1M239 276.5h1M242 266.5h1M232 273.5h1M248 273.5h1M228 260.5h1M243 267.5h1M248 268.5h1M238 272.5h1M230 271.5h1M233 272.5h1M254 257.5h1M227 271.5h1M229 257.5h1M243 261.5h1M242 264.5h1M250 265.5h1M253 267.5h1M245 265.5h1M240 261.5h1M236 261.5h1M248 257.5h1M250 263.5h1M247 257.5h1M245 255.5h1M244 273.5h1M228 263.5h1M243 260.5h1M251 260.5h1M231 268.5h1M248 262.5h1M251 259.5h1M269 266.5h1M243 265.5h1M240 257.5h1M230 256.5h1M231 275.5h1M251 269.5h1M243 264.5h1M247 262.5h1M261 258.5h1M255 263.5h1M229 257.5h1M244 265.5h1M245 254.5h1M233 268.5h1M236 267.5h1M254 266.5h1M251 260.5h1M253 274.5h1M247 280.5h1M245 263.5h1M249 258.5h1M242 269.5h1M262 263.5h1M246 265.5h1M249 269.5h1M242 254.5h1M236 270.5h1M243 256.5h1M240 254.5h1M235 261.5h1M252 276.5h1M265 259.5h1M247 268.5h1M242 257.5h1M236 269.5h1M227 267.5h1M250 273.5h1M250 266.5h1M235 264.5h1M244 249.5h1M234 267.5h1M259 270.5h1M245 266.5h1M248 266.5h1M262 269.5h1M248 257.5h1M246 264.5h1M240 268.5h1M244 266.5h1M257 257.5h1M236 249.5h1M237 267.5h1M262 270.5h1M255 277.5h1M249 268.5h1M252 257.5h1M245 268.5h1M240 263.5h1M242 259.5h1M247 253.5h1M239 250.5h1M242 261.5h1M247 265.5h1M242 264.5h1M251 266.5h1M247 279.5h1M254 264.5h1M245 275.5h1M242 258.5h1M250 258.5h1M253 260.5h1M239 250.5h1M234 277.5h1M258 266.5h1M238 270.5h1M248 278.5h1M239 268.5h1M246 277.5h1M259 246.5h1M262 274.5h1M230 267.5h1M228 260.5h1M250 264.5h1M261 259.5h1M247 249.5h1M241 278.5h1M253 243.5h1M234 265.5h1M251 277.5h1M258 269.5h1M257 259.5h1M251 262.5h1M238 259.5h1M240 266.5h1M234 264.5h1M264 254.5h1M257 252.5h1M243 273.5h1M243 254.5h1M246 255.5h1M249 257.5h1M249 254.5h1M248 256.5h1M244 270.5h1M242 263.5h1M229 246.5h1M268 264.5h1M238 264.5h1M242 276.5h1M240 268.5h1M234 241.5h1M261 251.5h1M249 262.5h1M237 264.5h1M257 269.5h1M253 250.5h1M244 246.5h1M227 270.5h1M252 256.5h1M254 245.5h1M251 256.5h1M240 260.5h1M250 254.5h1M235 254.5h1M246 272.5h1M247 255.5h1M241 266.5h1M302 192.5h1M296 206.5h1M316 193.5h1M290 199.5h1M317 196.5h1M293 197.5h1M296 209.5h1M304 178.5h1M306 204.5h1M306 187.5h1M298 194.5h1M298 189.5h1M308 189.5h1M312 181.5h1M305 213.5h1M303 201.5h1M302 190.5h1M296 174.5h1M291 197.5h1M301 207.5h1M282 194.5h1M299 176.5h1M304 188.5h1M289 193.5h1M311 193.5h1M310 204.5h1M295 182.5h1M300 186.5h1M295 202.5h1M296 198.5h1M304 189.5h1M313 177.5h1M300 200.5h1M303 179.5h1M303 180.5h1M299 174.5h1M306 179.5h1M298 183.5h1M296 181.5h1M303 203.5h1M287 197.5h1M297 192.5h1M299 186.5h1M300 192.5h1M292 178.5h1M294 195.5h1M301 183.5h1M305 188.5h1M299 195.5h1M300 184.5h1M297 178.5h1M299 202.5h1M285 173.5h1M306 181.5h1M308 182.5h1M301 185.5h1M294 190.5h1M297 187.5h1M307 206.5h1M297 203.5h1M294 200.5h1M299 191.5h1M296 193.5h1M300 187.5h1M306 177.5h1M298 195.5h1M296 202.5h1M300 195.5h1M303 192.5h1M299 200.5h1M304 195.5h1M303 203.5h1M303 188.5h1M307 176.5h1M300 197.5h1M307 201.5h1M304 185.5h1M306 195.5h1M298 199.5h1M294 215.5h1M300 199.5h1M303 190.5h1M302 181.5h1M312 178.5h1M288 223.5h1M290 187.5h1M298 198.5h1M297 185.5h1M301 189.5h1M304 199.5h1M319 185.5h1M292 190.5h1M294 189.5h1M300 197.5h1M290 199.5h1M296 190.5h1M307 206.5h1M301 187.5h1M301 188.5h1M307 194.5h1M290 188.5h1M300 200.5h1M305 175.5h1M297 170.5h1M296 205.5h1M299 200.5h1M306 186.5h1M295 195.5h1M307 176.5h1M287 187.5h1M301 207.5h1M305 199.5h1M292 212.5h1M299 187.5h1M299 203.5h1M302 193.5h1M308 196.5h1M301 195.5h1M298 199.5h1M297 205.5h1M302 193.5h1M305 196.5h1M302 191.5h1M297 194.5h1M299 184.5h1M294 201.5h1M294 198.5h1M297 195.5h1M297 191.5h1M306 186.5h1M294 182.5h1M302 182.5h1M294 184.5h1M304 202.5h1M302 197.5h1M310 180.5h1M305 183.5h1M292 204.5h1M298 208.5h1M295 200.5h1M294 212.5h1M295 185.5h1M298 196.5h1M302 186.5h1M299 214.5h1M315 199.5h1M299 196.5h1M300 196.5h1M301 186.5h1M299 192.5h1M302 170.5h1M301 188.5h1M301 183.5h1M304 201.5h1M301 206.5h1M295 194.5h1M302 183.5h1M304 182.5h1M298 199.5h1M299 190.5h1M300 190.5h1M306 183.5h1M301 195.5h1M297 194.5h1M299 200.5h1M309 185.5h1M295 192.5h1M306 180.5h1M299 195.5h1M323 196.5h1M305 190.5h1M300 201.5h1M301 180.5h1M289 206.5h1M297 196.5h1M312 200.5h1M302 196.5h1M300 186.5h1M301 187.5h1M299 202.5h1M295 192.5h1M301 196.5h1M304 190.5h1M290 200.5h1M298 199.5h1M285 178.5h1M287 210.5h1M304 203.5h1M307 202.5h1M311 198.5h1M293 191.5h1M299 201.5h1M295 217.5h1M307 193.5h1M304 183.5h1M301 193.5h1M304 194.5h1M296 202.5h1M308 182.5h1M299 188.5h1M308 191.5h1M300 202.5h1M300 204.5h1M293 194.5h1M290 202.5h1M291 192.5h1M303 194.5h1M310 185.5h1M300 182.5h1M292 196.5h1M302 194.5h1M294 181.5h1M301 193.5h1M299 191.5h1M307 197.5h1M307 188.5h1M307 186.5h1M296 204.5h1M308 191.5h1M299 202.5h1M302 184.5h1M303 191.5h1M303 190.5h1M294 182.5h1M303 200.5h1M293 178.5h1M303 195.5h1M303 172.5h1M300 199.5h1M294 192.5h1M305 204.5h1M297 211.5h1M307 187.5h1M296 192.5h1M298 180.5h1M302 188.5h1M307 194.5h1M292 192.5h1M296 199.5h1M297 197.5h1M298 201.5h1M299 185.5h1M307 195.5h1M306 183.5h1M301 191.5h1M307 192.5h1M297 192.5h1M297 187.5h1M305 189.5h1M316 178.5h1M287 184.5h1M297 186.5h1M305 195.5h1M295 196.5h1M306 189.5h1M302 191.5h1M292 194.5h1M299 183.5h1M301 202.5h1M292 211.5h1M304 196.5h1M303 188.5h1M298 194.5h1M301 204.5h1M297 204.5h1M304 180.5h1M294 194.5h1M310 187.5h1M299 188.5h1M307 196.5h1M313 199.5h1M311 191.5h1M302 184.5h1M302 190.5h1M302 182.5h1M300 209.5h1M298 177.5h1M289 196.5h1M302 193.5h1M301 192.5h1M311 184.5h1M312 189.5h1M293 188.5h1M296 186.5h1M306 190.5h1M308 194.5h1M302 188.5h1M300 196.5h1M288 197.5h1M315 189.5h1M295 198.5h1M304 193.5h1M303 187.5h1M294 196.5h1M304 203.5h1M310 190.5h1M303 175.5h1M300 199.5h1M303 202.5h1M308 182.5h1M306 192.5h1M294 196.5h1M296 199.5h1M283 196.5h1M291 198.5h1M297 206.5h1M298 182.5h1M294 200.5h1M303 214.5h1M306 171.5h1M306 189.5h1M299 198.5h1M299 185.5h1M298 174.5h1M302 195.5h1M289 192.5h1M296 184.5h1M304 195.5h1M305 201.5h1M299 201.5h1M293 195.5h1M306 181.5h1M296 188.5h1M303 170.5h1M296 181.5h1M312 195.5h1M309 198.5h1M295 191.5h1M293 191.5h1M303 173.5h1M306 180.5h1M310 182.5h1M301 186.5h1M294 185.5h1M299 212.5h1M301 201.5h1M292 181.5h1M300 185.5h1M299 186.5h1M295 185.5h1M303 187.5h1M310 173.5h1M305 203.5h1M294 197.5h1M296 197.5h1M305 193.5h1M298 196.5h1M299 188.5h1M317 175.5h1M285 191.5h1M297 191.5h1M297 178.5h1M303 170.5h1M310 204.5h1M301 182.5h1M299 189.5h1M302 185.5h1M296 207.5h1M305 178.5h1M315 204.5h1M298 200.5h1M301 187.5h1M304 193.5h1M300 191.5h1M291 175.5h1M298 195.5h1M302 191.5h1M294 195.5h1M309 179.5h1M298 184.5h1M293 181.5h1M305 193.5h1M300 186.5h1M303 182.5h1M289 203.5h1M293 185.5h1M293 201.5h1M299 199.5h1M301 185.5h1M311 175.5h1M310 195.5h1M300 198.5h1M298 202.5h1M312 197.5h1M300 196.5h1M308 186.5h1M299 184.5h1M296 222.5h1M297 202.5h1M298 178.5h1M302 195.5h1M295 195.5h1M302 174.5h1M303 189.5h1M313 199.5h1M287 206.5h1M299 207.5h1M305 189.5h1M299 188.5h1M307 188.5h1M304 194.5h1M302 200.5h1M299 181.5h1M299 190.5h1M300 186.5h1M296 183.5h1M302 187.5h1M292 208.5h1M293 207.5h1M290 204.5h1M310 177.5h1M297 194.5h1M292 214.5h1M305 196.5h1M299 184.5h1M302 198.5h1M300 189.5h1M303 188.5h1M301 194.5h1M287 194.5h1M310 191.5h1M307 192.5h1M293 181.5h1M306 192.5h1M298 198.5h1M301 193.5h1M309 191.5h1M309 179.5h1M305 203.5h1M314 182.5h1M306 199.5h1M297 188.5h1M292 198.5h1M304 202.5h1M290 187.5h1M301 172.5h1M298 182.5h1M310 184.5h1M302 195.5h1M297 210.5h1M305 199.5h1M298 190.5h1M306 206.5h1M313 192.5h1M299 200.5h1M299 195.5h1M310 174.5h1M287 199.5h1M291 207.5h1M295 188.5h1M290 198.5h1M300 197.5h1M303 189.5h1M301 188.5h1M299 201.5h1M307 186.5h1M308 188.5h1M307 201.5h1M298 200.5h1M299 207.5h1M310 187.5h1M305 179.5h1M307 203.5h1M300 177.5h1M301 188.5h1M297 189.5h1M298 208.5h1M303 192.5h1M299 180.5h1M313 193.5h1M290 203.5h1M308 175.5h1M296 178.5h1M301 202.5h1M296 192.5h1M302 182.5h1M301 190.5h1M296 192.5h1M295 180.5h1M297 186.5h1M299 206.5h1M305 195.5h1M309 204.5h1M290 190.5h1M304 187.5h1M297 194.5h1M302 183.5h1M302 196.5h1M306 190.5h1M303 189.5h1M301 189.5h1M311 184.5h1M300 205.5h1M302 177.5h1M307 195.5h1M295 179.5h1M294 200.5h1M310 191.5h1M299 193.5h1M289 195.5h1M305 196.5h1M308 195.5h1M295 195.5h1M292 194.5h1M301 187.5h1M303 189.5h1M297 189.5h1M296 184.5h1M304 187.5h1M302 205.5h1M293 177.5h1M291 207.5h1M299 187.5h1M296 197.5h1M302 192.5h1M304 191.5h1M311 199.5h1M300 208.5h1M306 191.5h1M291 190.5h1M297 186.5h1M304 212.5h1M290 202.5h1M307 204.5h1M304 193.5h1M304 174.5h1M299 196.5h1M296 174.5h1M295 185.5h1M296 200.5h1M299 186.5h1M309 186.5h1M297 171.5h1M296 198.5h1M289 194.5h1M302 187.5h1M300 195.5h1M309 178.5h1M313 185.5h1M303 194.5h1M294 199.5h1M302 192.5h1M304 180.5h1M301 187.5h1M292 201.5h1M303 186.5h1M293 193.5h1M299 196.5h1M299 186.5h1M285 190.5h1M306 175.5h1M314 188.5h1M298 192.5h1M296 197.5h1M304 205.5h1M293 186.5h1M300 196.5h1M302 191.5h1M298 184.5h1M301 184.5h1M295 190.5h1M297 191.5h1M305 185.5h1M291 217.5h1M297 191.5h1M295 197.5h1M304 190.5h1M294 218.5h1M303 189.5h1M288 192.5h1M287 201.5h1M302 191.5h1M313 184.5h1M295 206.5h1M302 198.5h1M292 188.5h1M301 189.5h1M302 189.5h1M304 194.5h1M298 175.5h1M312 195.5h1M295 185.5h1M309 198.5h1M293 194.5h1M307 182.5h1M307 205.5h1M313 201.5h1M301 183.5h1M292 180.5h1M306 186.5h1M296 194.5h1M292 203.5h1M298 183.5h1M296 184.5h1M304 197.5h1M302 191.5h1M305 192.5h1M306 191.5h1M299 188.5h1M302 209.5h1M307 202.5h1M312 190.5h1M300 204.5h1M296 209.5h1M294 195.5h1M298 194.5h1M301 187.5h1M302 193.5h1M292 193.5h1M296 203.5h1M301 183.5h1M299 176.5h1M297 186.5h1M302 195.5h1M297 172.5h1M304 190.5h1M295 183.5h1M303 181.5h1M294 192.5h1M306 203.5h1M307 179.5h1M308 195.5h1M296 189.5h1M292 197.5h1M292 190.5h1M300 185.5h1M306 201.5h1M304 196.5h1M306 183.5h1M296 172.5h1M308 186.5h1M305 194.5h1M296 198.5h1M286 184.5h1M296 187.5h1M302 174.5h1M311 189.5h1M302 193.5h1M301 186.5h1M310 192.5h1M311 184.5h1M304 183.5h1M304 195.5h1M310 178.5h1M296 191.5h1M301 203.5h1M299 186.5h1M295 186.5h1M305 184.5h1M309 180.5h1M313 188.5h1M307 180.5h1M308 190.5h1M300 186.5h1M293 179.5h1M297 191.5h1M302 201.5h1M296 198.5h1M313 190.5h1M308 192.5h1M301 181.5h1M312 190.5h1M304 198.5h1M310 200.5h1M298 204.5h1M307 178.5h1M297 206.5h1M300 195.5h1M306 207.5h1M312 193.5h1M300 203.5h1M303 191.5h1M297 180.5h1M299 194.5h1M304 187.5h1M293 190.5h1M297 196.5h1M293 197.5h1M301 197.5h1M305 201.5h1M305 177.5h1M297 202.5h1M296 182.5h1M291 191.5h1M301 187.5h1M312 182.5h1M298 199.5h1M302 182.5h1M299 186.5h1M292 204.5h1M310 171.5h1M307 176.5h1M290 199.5h1M294 186.5h1M308 200.5h1M295 190.5h1M301 187.5h1M293 197.5h1M304 185.5h1M297 185.5h1M297 193.5h1M295 180.5h1M314 179.5h1M319 178.5h1M301 200.5h1M302 210.5h1M303 203.5h1M302 185.5h1M301 186.5h1M300 182.5h1M306 192.5h1M292 200.5h1M296 190.5h1M305 192.5h1M310 195.5h1M301 180.5h1M302 189.5h1M308 196.5h1M300 192.5h1M301 198.5h1M295 205.5h1M307 170.5h1M307 177.5h1M293 206.5h1M304 196.5h1M308 185.5h1M304 189.5h1M296 191.5h1M305 202.5h1M310 189.5h1M298 191.5h1M291 177.5h1M294 204.5h1M300 196.5h1M309 188.5h1M310 180.5h1M305 192.5h1M296 199.5h1M302 214.5h1M298 209.5h1M295 187.5h1M290 186.5h1M308 183.5h1M290 194.5h1M309 185.5h1M314 199.5h1M300 195.5h1M295 195.5h1M298 182.5h1M295 202.5h1M303 190.5h1M308 181.5h1M296 191.5h1M298 193.5h1M297 192.5h1M306 201.5h1M305 204.5h1M292 212.5h1M299 190.5h1M300 203.5h1M295 209.5h1M301 192.5h1M290 202.5h1M302 190.5h1M300 197.5h1M296 197.5h1M308 187.5h1M296 185.5h1M298 197.5h1M308 191.5h1M296 189.5h1M303 204.5h1M304 196.5h1M307 195.5h1M313 175.5h1M291 192.5h1M301 189.5h1M293 200.5h1M307 188.5h1M311 181.5h1M299 189.5h1M300 209.5h1M310 185.5h1M300 204.5h1M300 190.5h1M293 171.5h1M295 197.5h1M304 215.5h1M291 195.5h1M304 182.5h1M302 190.5h1M302 183.5h1M302 220.5h1M295 196.5h1M312 171.5h1M297 199.5h1M306 197.5h1M298 182.5h1M303 186.5h1M299 191.5h1M309 210.5h1M295 186.5h1M298 184.5h1M308 202.5h1M306 186.5h1M302 182.5h1M299 190.5h1M292 198.5h1M299 193.5h1M303 189.5h1M306 206.5h1M305 206.5h1M312 178.5h1M305 181.5h1M297 182.5h1M299 189.5h1M310 195.5h1M301 191.5h1M309 194.5h1M290 195.5h1M299 179.5h1M299 170.5h1M302 195.5h1M294 203.5h1M292 192.5h1M301 188.5h1M286 195.5h1M297 188.5h1M305 180.5h1M294 187.5h1M299 199.5h1M295 194.5h1M298 198.5h1M303 187.5h1M303 197.5h1M301 206.5h1M296 188.5h1M311 189.5h1M301 204.5h1M296 192.5h1M310 182.5h1M299 188.5h1M311 206.5h1M305 196.5h1M297 209.5h1M297 197.5h1M295 194.5h1M294 201.5h1M300 186.5h1M308 203.5h1M302 191.5h1M300 190.5h1M303 196.5h1M299 187.5h1M294 180.5h1M293 182.5h1M309 198.5h1M299 195.5h1M311 194.5h1M312 200.5h1M304 184.5h1M306 189.5h1M296 207.5h1M301 183.5h1M300 204.5h1M298 177.5h1M308 183.5h1M304 179.5h1M299 183.5h1M303 178.5h1M312 180.5h1M296 192.5h1M291 179.5h1M310 172.5h1M299 191.5h1M301 187.5h1M300 183.5h1M297 181.5h1M283 187.5h1M301 181.5h1M298 189.5h1M287 183.5h1M295 180.5h1M305 186.5h1M320 176.5h1M297 187.5h1M316 174.5h1M297 181.5h1M307 183.5h1M299 179.5h1M311 187.5h1M303 182.5h1M298 185.5h1M284 174.5h1M313 184.5h1M286 186.5h1M294 173.5h1M321 182.5h1M305 184.5h1M302 179.5h1M303 177.5h1M304 175.5h1M298 184.5h1M306 183.5h1M300 182.5h1M300 194.5h1M307 182.5h1M309 183.5h1M305 174.5h1M313 183.5h1M323 185.5h1M320 175.5h1M305 194.5h1M290 181.5h1M315 182.5h1M303 181.5h1M310 180.5h1M312 186.5h1M288 173.5h1M305 189.5h1M287 179.5h1M324 177.5h1M301 197.5h1M279 181.5h1M316 180.5h1M312 175.5h1M317 180.5h1M290 187.5h1M308 191.5h1M300 183.5h1M307 185.5h1M301 188.5h1M298 179.5h1M317 181.5h1M295 194.5h1M303 185.5h1M310 194.5h1M302 176.5h1M311 178.5h1M281 186.5h1M314 175.5h1M290 188.5h1M299 177.5h1M299 185.5h1M306 174.5h1M300 178.5h1M298 185.5h1M310 185.5h1M324 174.5h1M295 175.5h1M296 187.5h1M295 178.5h1M290 187.5h1M290 192.5h1M298 187.5h1M309 173.5h1M298 190.5h1M294 190.5h1M301 180.5h1M294 182.5h1M333 187.5h1M319 182.5h1M303 185.5h1M285 191.5h1M297 187.5h1M295 200.5h1M294 192.5h1M279 187.5h1M297 184.5h1M296 182.5h1M296 191.5h1M288 178.5h1M307 187.5h1M293 181.5h1M277 176.5h1M292 190.5h1M311 184.5h1M315 183.5h1M290 183.5h1M300 183.5h1M308 179.5h1M313 189.5h1M298 191.5h1M305 182.5h1M298 184.5h1M283 187.5h1M313 187.5h1M302 184.5h1M306 180.5h1M300 182.5h1M293 186.5h1M297 183.5h1M305 180.5h1M289 192.5h1M319 183.5h1M327 185.5h1M277 182.5h1M313 186.5h1M297 184.5h1M308 181.5h1M304 179.5h1M300 180.5h1M311 179.5h1M303 184.5h1M318 180.5h1M307 194.5h1M287 188.5h1M301 185.5h1M302 183.5h1M295 180.5h1M288 181.5h1M323 182.5h1M300 175.5h1M303 192.5h1M286 194.5h1M307 174.5h1M302 190.5h1M315 188.5h1M321 187.5h1M296 188.5h1M296 193.5h1M314 177.5h1M313 179.5h1M306 186.5h1M310 182.5h1M298 176.5h1M303 188.5h1M303 189.5h1M279 185.5h1M310 184.5h1M311 187.5h1M291 173.5h1M296 181.5h1M305 178.5h1M310 181.5h1M301 176.5h1M296 177.5h1M307 184.5h1M305 193.5h1M291 178.5h1M300 192.5h1M299 189.5h1M310 188.5h1M289 192.5h1M293 182.5h1M299 190.5h1M301 175.5h1M327 175.5h1M301 185.5h1M314 186.5h1M309 175.5h1M315 171.5h1M321 183.5h1M309 184.5h1M293 188.5h1M298 183.5h1M317 174.5h1M326 186.5h1M316 186.5h1M328 181.5h1M311 194.5h1M294 186.5h1M305 191.5h1M305 182.5h1M311 176.5h1M315 180.5h1M297 190.5h1M304 173.5h1M310 186.5h1M310 181.5h1M309 187.5h1M297 186.5h1M300 178.5h1M313 185.5h1M297 184.5h1M290 190.5h1M277 198.5h1M302 182.5h1M294 194.5h1M302 183.5h1M291 188.5h1M298 185.5h1M298 180.5h1M312 183.5h1M293 182.5h1M290 188.5h1M303 177.5h1M310 177.5h1M293 189.5h1M308 185.5h1M303 186.5h1M308 186.5h1M283 192.5h1M304 186.5h1M300 189.5h1M304 179.5h1M295 187.5h1M300 179.5h1M278 180.5h1M302 182.5h1M317 185.5h1M304 183.5h1M304 193.5h1M306 187.5h1M318 184.5h1M295 185.5h1M285 178.5h1M290 185.5h1M295 184.5h1M304 193.5h1M310 178.5h1M294 184.5h1M291 181.5h1M312 183.5h1M312 172.5h1M294 186.5h1M310 182.5h1M300 185.5h1M299 198.5h1M301 183.5h1M293 187.5h1M284 186.5h1M288 191.5h1M296 197.5h1M307 192.5h1M306 185.5h1M310 175.5h1M294 187.5h1M300 174.5h1M286 181.5h1M291 182.5h1M312 176.5h1M300 184.5h1M322 178.5h1M309 178.5h1M297 186.5h1M294 180.5h1M281 194.5h1M317 185.5h1M312 179.5h1M341 180.5h1M324 176.5h1M305 179.5h1M291 191.5h1M282 177.5h1M298 186.5h1M303 194.5h1M284 173.5h1M311 195.5h1M311 171.5h1M290 172.5h1M298 172.5h1M286 179.5h1M312 178.5h1M291 174.5h1M289 184.5h1M281 191.5h1M290 181.5h1M283 187.5h1M314 185.5h1M310 192.5h1M288 185.5h1M293 189.5h1M301 186.5h1M303 183.5h1M290 183.5h1M317 183.5h1M309 186.5h1M323 173.5h1M271 185.5h1M285 188.5h1M310 184.5h1M305 185.5h1M300 193.5h1M290 191.5h1M306 175.5h1M297 193.5h1M316 177.5h1M313 177.5h1M313 188.5h1M282 184.5h1M304 173.5h1M322 184.5h1M322 183.5h1M316 184.5h1M313 174.5h1M294 189.5h1M317 177.5h1M323 185.5h1M306 176.5h1M307 177.5h1M299 172.5h1M303 179.5h1M299 190.5h1M307 184.5h1M300 180.5h1M286 193.5h1M295 185.5h1M307 187.5h1M305 185.5h1M318 180.5h1M313 182.5h1M316 184.5h1M302 190.5h1M314 185.5h1M295 189.5h1M294 178.5h1M310 171.5h1M305 185.5h1M293 185.5h1M313 184.5h1M317 175.5h1M310 183.5h1M316 175.5h1M312 182.5h1M312 181.5h1M293 183.5h1M282 188.5h1M298 181.5h1M266 188.5h1M296 188.5h1M329 177.5h1M321 177.5h1M325 181.5h1M323 180.5h1M330 175.5h1M333 174.5h1M314 179.5h1M324 180.5h1M321 180.5h1M329 174.5h1M301 181.5h1M314 179.5h1M306 179.5h1M328 176.5h1M320 174.5h1M322 174.5h1M321 178.5h1M320 178.5h1M321 176.5h1M317 186.5h1M304 180.5h1M321 180.5h1M318 179.5h1M314 177.5h1M314 181.5h1M328 180.5h1M313 179.5h1M311 181.5h1M325 187.5h1M328 173.5h1M309 179.5h1M312 181.5h1M311 179.5h1M320 175.5h1M322 176.5h1M328 175.5h1M318 177.5h1M316 179.5h1M315 184.5h1M326 177.5h1M314 177.5h1M313 181.5h1M317 181.5h1M317 174.5h1M321 175.5h1M313 175.5h1M331 177.5h1M332 179.5h1M310 179.5h1M320 182.5h1M311 177.5h1M316 177.5h1M309 179.5h1M316 179.5h1M321 183.5h1M319 174.5h1M309 182.5h1M304 181.5h1M306 184.5h1M326 172.5h1M316 174.5h1M320 184.5h1M329 181.5h1M312 183.5h1M321 177.5h1M314 183.5h1M319 178.5h1M304 177.5h1M315 178.5h1M317 177.5h1M318 174.5h1M308 178.5h1M316 176.5h1M325 179.5h1M318 182.5h1M325 181.5h1M323 181.5h1M319 174.5h1M316 180.5h1M319 181.5h1M312 181.5h1M322 174.5h1M327 177.5h1M333 172.5h1M325 180.5h1M321 172.5h1M320 180.5h1M324 175.5h1M327 172.5h1M316 177.5h1M309 179.5h1M309 183.5h1M326 180.5h1M322 182.5h1M322 180.5h1M306 179.5h1M314 177.5h1M307 181.5h1M310 178.5h1M313 173.5h1M312 172.5h1M330 179.5h1M309 180.5h1M315 186.5h1M312 177.5h1M319 182.5h1M323 178.5h1M313 181.5h1M306 180.5h1M316 182.5h1M321 179.5h1M310 178.5h1M325 176.5h1M311 179.5h1M314 179.5h1M315 179.5h1M331 174.5h1M323 175.5h1M321 178.5h1M310 173.5h1M310 181.5h1M313 180.5h1M327 173.5h1M319 178.5h1M312 171.5h1M306 182.5h1M315 182.5h1M322 179.5h1M323 181.5h1M321 177.5h1M314 182.5h1M322 180.5h1M317 178.5h1M324 177.5h1M319 172.5h1M323 172.5h1M321 181.5h1M315 182.5h1M326 174.5h1M310 174.5h1M322 170.5h1M316 183.5h1M316 180.5h1M321 184.5h1M315 183.5h1M312 186.5h1M312 182.5h1M310 177.5h1M318 177.5h1M321 181.5h1M317 173.5h1M307 182.5h1M319 176.5h1M325 181.5h1M310 177.5h1M311 177.5h1M325 180.5h1M326 180.5h1M316 179.5h1M308 178.5h1M318 180.5h1M317 176.5h1M320 180.5h1M312 179.5h1M315 181.5h1M332 172.5h1M314 176.5h1M330 182.5h1M310 180.5h1M320 177.5h1M320 174.5h1M324 175.5h1M318 179.5h1M313 175.5h1M319 178.5h1M307 179.5h1M299 174.5h1M307 180.5h1M330 180.5h1M324 175.5h1M331 175.5h1M322 178.5h1M307 178.5h1M310 173.5h1M320 178.5h1M312 177.5h1M311 177.5h1M311 184.5h1M313 179.5h1M304 178.5h1M321 175.5h1M314 184.5h1M327 179.5h1M318 180.5h1M325 175.5h1M325 175.5h1M309 241.5h1M306 244.5h1M297 254.5h1M302 244.5h1M306 234.5h1M301 245.5h1M304 246.5h1M298 245.5h1M310 261.5h1M311 253.5h1M298 258.5h1M293 243.5h1M299 252.5h1M307 249.5h1M303 246.5h1M302 241.5h1M303 248.5h1M293 234.5h1M302 253.5h1M301 265.5h1M298 257.5h1M307 233.5h1M298 248.5h1M298 242.5h1M306 243.5h1M306 245.5h1M302 255.5h1M303 252.5h1M304 241.5h1M304 251.5h1M296 248.5h1M307 260.5h1M314 237.5h1M304 246.5h1M300 241.5h1M309 247.5h1M306 234.5h1M297 241.5h1M301 246.5h1M299 243.5h1M308 241.5h1M294 246.5h1M310 243.5h1M298 241.5h1M304 245.5h1M299 247.5h1M304 249.5h1M309 235.5h1M306 244.5h1M295 254.5h1M300 237.5h1M303 248.5h1M313 244.5h1M299 254.5h1M300 255.5h1M297 249.5h1M302 244.5h1M306 236.5h1M296 243.5h1M310 241.5h1M310 247.5h1M307 257.5h1M306 259.5h1M317 249.5h1M296 248.5h1M299 246.5h1M315 249.5h1M295 245.5h1M304 258.5h1M301 242.5h1M296 248.5h1M296 243.5h1M301 253.5h1M304 259.5h1M305 251.5h1M306 248.5h1M302 247.5h1M302 251.5h1M306 244.5h1M298 258.5h1M294 258.5h1M307 253.5h1M289 252.5h1M305 244.5h1M310 259.5h1M294 238.5h1M289 242.5h1M297 261.5h1M304 244.5h1M296 242.5h1M308 236.5h1M306 254.5h1M296 255.5h1M307 248.5h1M293 237.5h1M299 246.5h1M303 242.5h1M310 253.5h1M307 257.5h1M311 250.5h1M293 250.5h1M321 257.5h1M297 258.5h1M304 239.5h1M311 250.5h1M305 240.5h1M309 242.5h1M295 255.5h1M295 240.5h1M299 246.5h1M299 255.5h1M303 250.5h1M300 237.5h1M295 247.5h1M303 246.5h1M293 241.5h1M298 260.5h1M304 248.5h1M297 248.5h1M302 254.5h1M306 248.5h1M311 239.5h1M309 247.5h1M307 250.5h1M305 248.5h1M294 254.5h1M297 253.5h1M297 251.5h1M299 246.5h1M301 248.5h1M249 236.5h1M278 195.5h1M267 239.5h1M253 239.5h1M301 205.5h1M260 246.5h1M287 210.5h1M289 221.5h1M299 220.5h1M301 203.5h1M263 230.5h1M285 225.5h1M242 260.5h1M294 210.5h1M270 224.5h1M277 196.5h1M279 205.5h1M265 235.5h1M244 256.5h1M246 252.5h1M280 231.5h1M276 239.5h1M256 235.5h1M249 262.5h1M270 219.5h1M282 209.5h1M299 208.5h1M316 200.5h1M266 259.5h1M264 248.5h1M281 240.5h1M276 239.5h1M246 249.5h1M286 191.5h1M275 237.5h1M283 198.5h1M266 248.5h1M250 251.5h1M254 244.5h1M283 245.5h1M257 249.5h1M289 187.5h1M278 237.5h1M284 217.5h1M275 238.5h1M282 208.5h1M277 236.5h1M291 207.5h1M250 239.5h1M285 219.5h1M267 249.5h1M258 216.5h1M241 242.5h1M289 203.5h1M294 206.5h1M252 232.5h1M253 256.5h1M280 215.5h1M301 228.5h1M253 242.5h1M298 209.5h1M249 265.5h1M286 214.5h1M249 240.5h1M286 197.5h1M278 210.5h1M288 201.5h1M294 202.5h1M249 250.5h1M244 242.5h1M256 232.5h1M234 266.5h1M287 206.5h1M292 194.5h1M284 212.5h1M254 266.5h1M323 181.5h1M298 208.5h1M236 249.5h1M272 246.5h1M299 218.5h1M269 234.5h1M257 251.5h1M296 191.5h1M288 213.5h1M264 256.5h1M276 237.5h1M292 214.5h1M249 252.5h1M245 268.5h1M284 218.5h1M313 191.5h1M276 221.5h1M241 273.5h1M249 268.5h1M264 221.5h1M312 185.5h1M282 245.5h1M296 205.5h1M293 183.5h1M254 241.5h1M305 219.5h1M285 224.5h1M272 222.5h1M258 242.5h1M280 204.5h1M296 211.5h1M268 239.5h1M257 266.5h1M239 277.5h1M262 259.5h1M271 217.5h1M262 217.5h1M270 223.5h1M278 219.5h1M261 226.5h1M273 217.5h1M257 250.5h1M261 247.5h1M252 236.5h1M253 244.5h1M274 197.5h1M267 221.5h1M284 207.5h1M281 202.5h1M271 228.5h1M268 235.5h1M242 251.5h1M268 223.5h1M296 197.5h1M313 196.5h1M296 235.5h1M260 235.5h1M293 195.5h1M283 228.5h1M258 252.5h1M317 197.5h1M294 213.5h1M313 208.5h1M282 196.5h1M244 254.5h1M283 223.5h1M265 250.5h1M259 242.5h1M297 216.5h1M293 204.5h1M302 208.5h1M288 207.5h1M252 242.5h1M276 225.5h1M285 216.5h1M252 266.5h1M276 237.5h1M245 260.5h1M265 229.5h1M249 252.5h1M278 224.5h1M277 241.5h1M255 246.5h1M252 249.5h1M305 210.5h1M238 256.5h1M280 235.5h1M270 218.5h1M257 259.5h1M251 238.5h1M292 193.5h1M291 199.5h1M244 246.5h1M293 197.5h1M284 231.5h1M277 247.5h1M248 244.5h1M263 232.5h1M272 212.5h1M258 241.5h1M258 229.5h1M291 205.5h1M253 258.5h1M261 248.5h1M277 205.5h1M292 196.5h1M272 213.5h1M253 228.5h1M301 201.5h1M258 249.5h1M265 229.5h1M271 249.5h1M266 257.5h1M297 203.5h1M269 259.5h1M290 221.5h1M300 179.5h1M303 195.5h1M293 222.5h1M256 235.5h1M273 215.5h1M267 249.5h1M274 235.5h1M294 204.5h1M241 267.5h1M276 225.5h1M271 229.5h1M271 206.5h1M269 235.5h1M245 262.5h1M303 203.5h1M305 202.5h1M270 240.5h1M288 218.5h1M302 181.5h1M240 264.5h1M323 193.5h1M273 231.5h1M278 225.5h1M298 210.5h1M240 259.5h1M242 252.5h1M248 232.5h1M275 226.5h1M299 206.5h1M312 199.5h1M268 218.5h1M285 226.5h1M288 215.5h1M269 221.5h1M271 237.5h1M284 223.5h1M255 256.5h1M284 230.5h1M238 262.5h1M264 256.5h1M275 220.5h1M243 240.5h1M253 254.5h1M253 251.5h1M298 197.5h1M230 244.5h1M247 264.5h1M254 242.5h1M266 193.5h1M297 213.5h1M244 256.5h1M247 247.5h1M260 223.5h1M293 207.5h1M260 260.5h1M280 225.5h1M278 252.5h1M287 206.5h1M242 258.5h1M281 218.5h1M284 225.5h1M280 196.5h1M295 205.5h1M270 234.5h1M300 211.5h1M280 221.5h1M289 190.5h1M310 191.5h1M287 241.5h1M253 259.5h1M299 196.5h1M256 245.5h1M272 223.5h1M234 253.5h1M245 271.5h1M298 213.5h1M308 196.5h1M261 252.5h1M289 228.5h1M236 256.5h1M254 272.5h1M244 255.5h1M305 194.5h1M244 267.5h1M265 256.5h1M286 232.5h1M240 264.5h1M311 186.5h1M293 205.5h1M296 222.5h1M260 240.5h1M279 216.5h1M268 220.5h1M241 256.5h1M287 210.5h1M288 200.5h1M252 243.5h1M296 221.5h1M258 252.5h1M241 276.5h1M281 235.5h1M272 242.5h1M274 232.5h1M269 257.5h1M239 260.5h1M278 251.5h1M246 249.5h1M247 244.5h1M308 210.5h1M305 200.5h1M293 219.5h1M279 231.5h1M285 231.5h1M301 208.5h1M311 215.5h1M249 246.5h1M285 196.5h1M259 228.5h1M279 212.5h1M240 253.5h1M265 228.5h1M256 240.5h1M282 212.5h1M256 218.5h1M262 254.5h1M302 221.5h1M264 225.5h1M244 255.5h1M282 212.5h1M289 222.5h1M261 267.5h1M252 250.5h1M239 271.5h1M291 226.5h1M274 232.5h1M300 213.5h1M280 220.5h1M258 238.5h1M310 187.5h1M259 238.5h1M285 222.5h1M254 258.5h1M299 225.5h1M268 270.5h1M237 260.5h1M233 249.5h1M294 209.5h1M261 232.5h1M281 217.5h1M245 255.5h1M300 195.5h1M309 199.5h1M261 236.5h1M282 206.5h1M308 192.5h1M270 225.5h1M272 228.5h1M281 207.5h1M233 277.5h1M258 272.5h1M266 242.5h1M276 246.5h1M263 242.5h1M265 218.5h1M270 219.5h1M276 216.5h1M295 199.5h1M270 236.5h1M290 202.5h1M302 211.5h1M244 240.5h1M276 217.5h1M298 210.5h1M260 230.5h1M255 248.5h1M255 254.5h1M265 216.5h1M279 209.5h1M267 225.5h1M276 218.5h1M282 214.5h1M283 215.5h1M267 207.5h1M283 246.5h1M315 185.5h1M256 254.5h1M275 224.5h1M245 237.5h1M253 239.5h1M278 227.5h1M271 233.5h1M296 205.5h1M297 209.5h1M292 207.5h1M272 224.5h1M270 229.5h1M283 217.5h1M295 214.5h1M258 251.5h1M244 247.5h1M261 246.5h1M275 245.5h1M313 177.5h1M273 210.5h1M280 201.5h1M311 197.5h1M301 189.5h1M257 239.5h1M245 244.5h1M292 203.5h1M305 194.5h1M269 228.5h1M298 198.5h1M248 260.5h1M247 250.5h1M302 201.5h1M274 235.5h1M228 258.5h1M293 211.5h1M271 245.5h1M284 204.5h1M302 187.5h1M279 246.5h1M255 253.5h1M288 196.5h1M273 252.5h1M300 250.5h1M312 260.5h1M298 261.5h1M308 277.5h1M282 247.5h1M302 259.5h1M263 255.5h1M303 276.5h1M262 278.5h1M295 243.5h1M293 262.5h1M268 260.5h1M286 241.5h1M275 257.5h1M307 242.5h1M286 247.5h1M292 255.5h1M268 239.5h1M300 247.5h1M277 251.5h1M312 236.5h1M310 276.5h1M266 278.5h1M275 265.5h1M268 270.5h1M314 243.5h1M301 257.5h1M263 237.5h1M297 246.5h1M305 238.5h1M263 271.5h1M274 275.5h1M274 242.5h1M270 239.5h1M268 241.5h1M298 277.5h1M270 247.5h1M302 254.5h1M288 275.5h1M270 235.5h1M290 262.5h1M314 258.5h1M314 243.5h1M319 263.5h1M295 274.5h1M270 242.5h1M271 242.5h1M308 261.5h1M295 268.5h1M315 271.5h1M313 279.5h1M301 273.5h1M311 258.5h1M292 257.5h1M315 260.5h1M291 253.5h1M297 272.5h1M319 241.5h1M308 269.5h1M296 241.5h1M271 247.5h1M270 257.5h1M314 276.5h1M262 278.5h1M298 272.5h1M301 259.5h1M282 265.5h1M275 242.5h1M296 263.5h1M318 275.5h1M292 263.5h1M299 257.5h1M287 251.5h1M276 254.5h1M298 253.5h1M304 261.5h1M293 277.5h1M312 253.5h1M319 259.5h1M270 268.5h1M278 244.5h1M303 262.5h1M294 260.5h1M267 271.5h1M283 267.5h1M282 236.5h1M318 248.5h1M269 236.5h1M313 267.5h1M316 265.5h1M291 255.5h1M314 263.5h1M320 248.5h1M264 223.5h1M315 245.5h1M283 226.5h1M323 220.5h1M238 210.5h1M246 265.5h1M297 199.5h1M248 180.5h1M297 175.5h1M245 202.5h1M316 177.5h1M284 253.5h1M235 189.5h1M262 201.5h1M280 247.5h1M302 266.5h1M260 254.5h1M301 241.5h1M297 249.5h1M318 207.5h1M271 276.5h1M244 218.5h1M254 245.5h1M312 227.5h1M280 218.5h1M288 195.5h1M264 277.5h1M313 242.5h1M237 258.5h1M329 232.5h1M306 209.5h1M254 231.5h1M300 239.5h1M255 211.5h1M260 176.5h1M290 266.5h1M286 207.5h1M310 273.5h1M297 266.5h1M232 271.5h1M249 178.5h1M233 235.5h1M303 255.5h1M295 186.5h1M325 240.5h1M285 265.5h1M293 259.5h1M300 280.5h1M253 264.5h1M274 189.5h1M299 233.5h1M273 218.5h1M285 247.5h1M234 254.5h1M269 251.5h1M272 280.5h1M305 231.5h1" stroke="#000" stroke-opacity="0.88" stroke-width="1" fill="none"/>
<path d="M226.0 169.10000000000002V282.7H344.7" fill="none" stroke="#000" stroke-width="1.4" stroke-linecap="square"/>
<path d="M226.0 169.3H344.2V282.7" fill="none" stroke="#1a1a1a" stroke-width="1.15"/>
<path d="M226.80 282.70v4.6M256.20 282.70v4.6M285.60 282.70v4.6M315.00 282.70v4.6M344.40 282.70v4.6" stroke="#000" stroke-width="1.2" fill="none"/>
<path d="M235.65 282.70v2.5M240.83 282.70v2.5M244.50 282.70v2.5M247.35 282.70v2.5M249.68 282.70v2.5M251.65 282.70v2.5M253.35 282.70v2.5M254.85 282.70v2.5M265.05 282.70v2.5M270.23 282.70v2.5M273.90 282.70v2.5M276.75 282.70v2.5M279.08 282.70v2.5M281.05 282.70v2.5M282.75 282.70v2.5M284.25 282.70v2.5M294.45 282.70v2.5M299.63 282.70v2.5M303.30 282.70v2.5M306.15 282.70v2.5M308.48 282.70v2.5M310.45 282.70v2.5M312.15 282.70v2.5M313.65 282.70v2.5M323.85 282.70v2.5M329.03 282.70v2.5M332.70 282.70v2.5M335.55 282.70v2.5M337.88 282.70v2.5M339.85 282.70v2.5M341.55 282.70v2.5M343.05 282.70v2.5" stroke="#000" stroke-width="0.9" fill="none"/>
<path d="M226.00 282.50h-4.6M226.00 254.40h-4.6M226.00 226.30h-4.6M226.00 198.20h-4.6M226.00 170.10h-4.6" stroke="#000" stroke-width="1.2" fill="none"/>
<path d="M226.00 274.04h-2.8M226.00 269.09h-2.8M226.00 265.58h-2.8M226.00 262.86h-2.8M226.00 260.63h-2.8M226.00 258.75h-2.8M226.00 257.12h-2.8M226.00 255.69h-2.8M226.00 245.94h-2.8M226.00 240.99h-2.8M226.00 237.48h-2.8M226.00 234.76h-2.8M226.00 232.53h-2.8M226.00 230.65h-2.8M226.00 229.02h-2.8M226.00 227.59h-2.8M226.00 217.84h-2.8M226.00 212.89h-2.8M226.00 209.38h-2.8M226.00 206.66h-2.8M226.00 204.43h-2.8M226.00 202.55h-2.8M226.00 200.92h-2.8M226.00 199.49h-2.8M226.00 189.74h-2.8M226.00 184.79h-2.8M226.00 181.28h-2.8M226.00 178.56h-2.8M226.00 176.33h-2.8M226.00 174.45h-2.8M226.00 172.82h-2.8M226.00 171.39h-2.8" stroke="#000" stroke-width="0.9" fill="none"/>
<g transform="translate(227.60,297.50)"><text transform="translate(1.6,0) scale(0.81,1)" text-anchor="end" font-size="9.9" fill="#111" stroke="#111" stroke-width="0.35">10</text><text transform="translate(1.9,-4.3) scale(0.81,1)" font-size="9.9" fill="#111" stroke="#111" stroke-width="0.35">0</text></g>
<g transform="translate(220.00,282.50) rotate(-90)"><text transform="translate(1.6,0) scale(0.81,1)" text-anchor="end" font-size="9.9" fill="#111" stroke="#111" stroke-width="0.35">10</text><text transform="translate(1.9,-5.2) scale(0.81,1)" font-size="9.9" fill="#111" stroke="#111" stroke-width="0.35">0</text></g>
<g transform="translate(257.00,297.50)"><text transform="translate(1.6,0) scale(0.81,1)" text-anchor="end" font-size="9.9" fill="#111" stroke="#111" stroke-width="0.35">10</text><text transform="translate(1.9,-4.3) scale(0.81,1)" font-size="9.9" fill="#111" stroke="#111" stroke-width="0.35">1</text></g>
<g transform="translate(220.00,254.40) rotate(-90)"><text transform="translate(1.6,0) scale(0.81,1)" text-anchor="end" font-size="9.9" fill="#111" stroke="#111" stroke-width="0.35">10</text><text transform="translate(1.9,-5.2) scale(0.81,1)" font-size="9.9" fill="#111" stroke="#111" stroke-width="0.35">1</text></g>
<g transform="translate(286.40,297.50)"><text transform="translate(1.6,0) scale(0.81,1)" text-anchor="end" font-size="9.9" fill="#111" stroke="#111" stroke-width="0.35">10</text><text transform="translate(1.9,-4.3) scale(0.81,1)" font-size="9.9" fill="#111" stroke="#111" stroke-width="0.35">2</text></g>
<g transform="translate(220.00,226.30) rotate(-90)"><text transform="translate(1.6,0) scale(0.81,1)" text-anchor="end" font-size="9.9" fill="#111" stroke="#111" stroke-width="0.35">10</text><text transform="translate(1.9,-5.2) scale(0.81,1)" font-size="9.9" fill="#111" stroke="#111" stroke-width="0.35">2</text></g>
<g transform="translate(315.80,297.50)"><text transform="translate(1.6,0) scale(0.81,1)" text-anchor="end" font-size="9.9" fill="#111" stroke="#111" stroke-width="0.35">10</text><text transform="translate(1.9,-4.3) scale(0.81,1)" font-size="9.9" fill="#111" stroke="#111" stroke-width="0.35">3</text></g>
<g transform="translate(220.00,198.20) rotate(-90)"><text transform="translate(1.6,0) scale(0.81,1)" text-anchor="end" font-size="9.9" fill="#111" stroke="#111" stroke-width="0.35">10</text><text transform="translate(1.9,-5.2) scale(0.81,1)" font-size="9.9" fill="#111" stroke="#111" stroke-width="0.35">3</text></g>
<g transform="translate(345.20,297.50)"><text transform="translate(1.6,0) scale(0.81,1)" text-anchor="end" font-size="9.9" fill="#111" stroke="#111" stroke-width="0.35">10</text><text transform="translate(1.9,-4.3) scale(0.81,1)" font-size="9.9" fill="#111" stroke="#111" stroke-width="0.35">4</text></g>
<g transform="translate(220.00,170.10) rotate(-90)"><text transform="translate(1.6,0) scale(0.81,1)" text-anchor="end" font-size="9.9" fill="#111" stroke="#111" stroke-width="0.35">10</text><text transform="translate(1.9,-5.2) scale(0.81,1)" font-size="9.9" fill="#111" stroke="#111" stroke-width="0.35">4</text></g>
<rect x="226.6" y="251.2" width="34.6" height="31.0" fill="none" stroke="#000" stroke-width="2"/>
<text transform="translate(288.60,310.70)" text-anchor="middle" font-size="13.8" font-weight="bold" fill="#111" stroke="#111" stroke-width="0.22" >Annexin V</text>
<text transform="translate(201.90,228.50) rotate(-90)" text-anchor="middle" font-size="14" font-weight="bold" fill="#111" stroke="#111" stroke-width="0.22" >PI</text>
<path d="M442 280.5h1M438 274.5h1M438 213.5h1M439 221.5h1M436 274.5h1M440 253.5h1M437 226.5h1M438 184.5h1M436 202.5h1M436 242.5h1M436 267.5h1M436 192.5h1M437 243.5h1M440 215.5h1M438 265.5h1M437 182.5h1M438 176.5h1M437 252.5h1M440 184.5h1M439 263.5h1M437 273.5h1M438 247.5h1M438 273.5h1M436 244.5h1M436 274.5h1M438 274.5h1M436 179.5h1M438 181.5h1M439 176.5h1M437 249.5h1M439 280.5h1M441 266.5h1M437 189.5h1M440 279.5h1M436 267.5h1M436 186.5h1M438 198.5h1M438 183.5h1M435 255.5h1M440 268.5h1M439 196.5h1M436 273.5h1M437 216.5h1M438 253.5h1M436 246.5h1M438 205.5h1M436 270.5h1M435 204.5h1M440 266.5h1M437 208.5h1M437 205.5h1M437 187.5h1M437 219.5h1M441 233.5h1M439 216.5h1M439 263.5h1M439 278.5h1M441 190.5h1M434 241.5h1M439 180.5h1M438 268.5h1M438 195.5h1M440 217.5h1M439 200.5h1M435 205.5h1M438 265.5h1M438 205.5h1M440 198.5h1M434 264.5h1M439 226.5h1M438 252.5h1M439 247.5h1M438 181.5h1M434 251.5h1M439 176.5h1M438 244.5h1M436 252.5h1M439 241.5h1M438 234.5h1M441 256.5h1M440 269.5h1M436 208.5h1M439 252.5h1M438 250.5h1M438 222.5h1M438 267.5h1M439 280.5h1M436 222.5h1M439 275.5h1M435 217.5h1M438 253.5h1M436 177.5h1M436 260.5h1M438 192.5h1M436 268.5h1M440 179.5h1M436 238.5h1M440 173.5h1M439 226.5h1M438 221.5h1M439 277.5h1M438 272.5h1M442 242.5h1M439 236.5h1M437 269.5h1M438 232.5h1M437 222.5h1M438 179.5h1M437 266.5h1M437 223.5h1M439 197.5h1M438 188.5h1M439 212.5h1M437 235.5h1M438 261.5h1M437 218.5h1M440 275.5h1M441 173.5h1M438 219.5h1M439 186.5h1M435 200.5h1M436 182.5h1M439 270.5h1M435 201.5h1M442 228.5h1M440 193.5h1M441 205.5h1M438 268.5h1M436 206.5h1M436 195.5h1M436 196.5h1M439 273.5h1M436 239.5h1M436 254.5h1M440 191.5h1M436 216.5h1M437 195.5h1M440 256.5h1M442 174.5h1M435 229.5h1M434 176.5h1M437 200.5h1M438 212.5h1M438 247.5h1M437 258.5h1M436 240.5h1M439 239.5h1M437 245.5h1M437 227.5h1M438 231.5h1M440 253.5h1M438 216.5h1M442 180.5h1M437 254.5h1M439 242.5h1M434 230.5h1M437 175.5h1M438 257.5h1M437 237.5h1M437 273.5h1M437 198.5h1M436 257.5h1M437 206.5h1M438 235.5h1M438 198.5h1M436 221.5h1M437 203.5h1M436 238.5h1M439 225.5h1M441 243.5h1M438 208.5h1M439 254.5h1M437 179.5h1M439 232.5h1M438 194.5h1M436 195.5h1M440 246.5h1M442 202.5h1M439 207.5h1M438 225.5h1M439 198.5h1M441 218.5h1M437 250.5h1M439 195.5h1M438 206.5h1M434 264.5h1M437 259.5h1M439 206.5h1M438 252.5h1M438 248.5h1M436 245.5h1M438 260.5h1M438 183.5h1M439 194.5h1M441 279.5h1M438 222.5h1M440 180.5h1M439 246.5h1M443 176.5h1M439 182.5h1M442 238.5h1M436 226.5h1M436 180.5h1M439 279.5h1M438 194.5h1M440 240.5h1M439 175.5h1M439 220.5h1M437 275.5h1M438 204.5h1M439 178.5h1M437 204.5h1M438 242.5h1M440 203.5h1M438 177.5h1M438 213.5h1M440 232.5h1M439 195.5h1M435 184.5h1M438 187.5h1M438 249.5h1M439 214.5h1M442 193.5h1M440 196.5h1M438 189.5h1M437 198.5h1M439 238.5h1M438 273.5h1M440 227.5h1M439 180.5h1M440 253.5h1M437 236.5h1M438 190.5h1M438 181.5h1M437 173.5h1M439 279.5h1M437 281.5h1M437 237.5h1M437 186.5h1M438 275.5h1M435 212.5h1M439 239.5h1M439 215.5h1M439 258.5h1M440 188.5h1M438 246.5h1M437 248.5h1M440 275.5h1M437 231.5h1M438 215.5h1M438 232.5h1M441 211.5h1M440 231.5h1M439 224.5h1M436 226.5h1M440 238.5h1M436 209.5h1M439 219.5h1M435 241.5h1M437 243.5h1M440 234.5h1M437 203.5h1M440 225.5h1M437 215.5h1M442 216.5h1M437 195.5h1M444 186.5h1M440 239.5h1M438 235.5h1M435 197.5h1M437 216.5h1M443 223.5h1M435 212.5h1M434 230.5h1M439 215.5h1M441 198.5h1M437 214.5h1M436 229.5h1M437 206.5h1M437 234.5h1M441 239.5h1M442 232.5h1M437 231.5h1M436 220.5h1M435 231.5h1M434 209.5h1M438 182.5h1M434 210.5h1M440 246.5h1M437 239.5h1M436 203.5h1M441 218.5h1M434 209.5h1M440 201.5h1M438 216.5h1M438 235.5h1M438 222.5h1M435 217.5h1M439 184.5h1M441 258.5h1M433 201.5h1M438 222.5h1M437 235.5h1M437 224.5h1M439 235.5h1M437 182.5h1M437 206.5h1M441 210.5h1M435 198.5h1M437 194.5h1M437 236.5h1M436 199.5h1M436 240.5h1M441 236.5h1M436 215.5h1M444 197.5h1M434 211.5h1M432 209.5h1M436 210.5h1M435 208.5h1M441 222.5h1M439 216.5h1M435 220.5h1M437 220.5h1M437 242.5h1M444 255.5h1M438 221.5h1M438 220.5h1M439 218.5h1M438 237.5h1M438 233.5h1M436 223.5h1M438 219.5h1M438 231.5h1M434 239.5h1M438 214.5h1M435 228.5h1M434 190.5h1M438 210.5h1M439 229.5h1M440 194.5h1M436 195.5h1M434 225.5h1M436 188.5h1M437 215.5h1M437 256.5h1M439 227.5h1M437 251.5h1M440 247.5h1M436 208.5h1M439 218.5h1M439 227.5h1M439 240.5h1M439 245.5h1M435 234.5h1M440 227.5h1M436 203.5h1M437 239.5h1M435 211.5h1M439 238.5h1M437 244.5h1M436 197.5h1M439 255.5h1M436 218.5h1M439 239.5h1M438 237.5h1M439 253.5h1M438 241.5h1M435 249.5h1M438 235.5h1M439 208.5h1M442 218.5h1M442 233.5h1M440 237.5h1M440 224.5h1M432 209.5h1M436 200.5h1M435 223.5h1M439 272.5h1M439 219.5h1M439 213.5h1M439 232.5h1M439 234.5h1M438 223.5h1M436 187.5h1M439 210.5h1M438 211.5h1M440 232.5h1M437 211.5h1M437 217.5h1M436 202.5h1M439 212.5h1M436 259.5h1M432 235.5h1M436 229.5h1M436 207.5h1M438 201.5h1M437 239.5h1M441 221.5h1M439 231.5h1M440 226.5h1M441 223.5h1M440 179.5h1M440 237.5h1M437 251.5h1M439 223.5h1M438 218.5h1M440 225.5h1M436 217.5h1M439 190.5h1M437 215.5h1M440 221.5h1M441 239.5h1M441 205.5h1M437 216.5h1M441 222.5h1M434 229.5h1M438 254.5h1M434 232.5h1M438 233.5h1M435 201.5h1M438 249.5h1M436 192.5h1M441 244.5h1M443 236.5h1M440 223.5h1M440 204.5h1M439 231.5h1M438 214.5h1M437 245.5h1M435 172.5h1M436 223.5h1M440 177.5h1M437 223.5h1M439 216.5h1M436 236.5h1M443 202.5h1M441 205.5h1M438 185.5h1M442 214.5h1M439 224.5h1M441 217.5h1M438 205.5h1M437 218.5h1M441 231.5h1M440 227.5h1M440 188.5h1M440 213.5h1M438 206.5h1M437 174.5h1M439 232.5h1M434 227.5h1M438 204.5h1M441 230.5h1M437 225.5h1M442 213.5h1M437 227.5h1M435 218.5h1M439 210.5h1M437 239.5h1M436 276.5h1M441 274.5h1M438 279.5h1M437 275.5h1M439 279.5h1M437 276.5h1M437 279.5h1M441 279.5h1M439 273.5h1M438 270.5h1M438 274.5h1M439 269.5h1M439 274.5h1M438 274.5h1M440 280.5h1M438 276.5h1M438 275.5h1M439 274.5h1M437 280.5h1M436 268.5h1M438 279.5h1M439 274.5h1M438 274.5h1M439 271.5h1M440 274.5h1M438 269.5h1M438 279.5h1M438 276.5h1M439 281.5h1M439 278.5h1M438 272.5h1M440 270.5h1M439 281.5h1M438 277.5h1M437 273.5h1M416 209.5h1M417 194.5h1M425 182.5h1M435 206.5h1M424 180.5h1M417 186.5h1M411 187.5h1M419 192.5h1M436 179.5h1M431 186.5h1M407 199.5h1M431 193.5h1M407 195.5h1M408 203.5h1M413 198.5h1M422 204.5h1M412 194.5h1M426 184.5h1M418 210.5h1M432 176.5h1M400 180.5h1M416 182.5h1M422 217.5h1M432 194.5h1M412 178.5h1M420 197.5h1M409 189.5h1M418 195.5h1M426 199.5h1M424 194.5h1M413 194.5h1M422 196.5h1M449 191.5h1M410 197.5h1M421 203.5h1M410 184.5h1M424 196.5h1M406 202.5h1M422 192.5h1M399 193.5h1M417 212.5h1M442 205.5h1M403 217.5h1M409 212.5h1M425 190.5h1M403 187.5h1M397 202.5h1M427 194.5h1M416 206.5h1M416 194.5h1M427 197.5h1M415 191.5h1M430 177.5h1M431 203.5h1M412 191.5h1M429 198.5h1M423 194.5h1M414 213.5h1M415 198.5h1M427 198.5h1M402 193.5h1M398 185.5h1M428 198.5h1M436 204.5h1M418 194.5h1M426 172.5h1M397 186.5h1M401 213.5h1M409 188.5h1M411 195.5h1M417 174.5h1M410 188.5h1M414 185.5h1M413 202.5h1M422 200.5h1M427 199.5h1M425 204.5h1M430 189.5h1M413 211.5h1M410 191.5h1M394 203.5h1M396 215.5h1M424 188.5h1M420 197.5h1M415 192.5h1M411 195.5h1M401 197.5h1M408 194.5h1M412 201.5h1M429 186.5h1M407 189.5h1M419 180.5h1M429 197.5h1M431 189.5h1M411 185.5h1M425 180.5h1M425 185.5h1M415 198.5h1M418 181.5h1M405 203.5h1M418 200.5h1M407 196.5h1M412 177.5h1M416 186.5h1M425 204.5h1M412 190.5h1M412 186.5h1M410 186.5h1M445 197.5h1M410 175.5h1M420 204.5h1M398 196.5h1M415 183.5h1M401 200.5h1M423 181.5h1M434 197.5h1M417 208.5h1M421 182.5h1M417 179.5h1M410 193.5h1M416 194.5h1M425 186.5h1M417 185.5h1M410 209.5h1M409 184.5h1M420 177.5h1M411 189.5h1M425 206.5h1M399 200.5h1M423 193.5h1M406 180.5h1M414 192.5h1M438 222.5h1M426 199.5h1M409 204.5h1M410 177.5h1M425 189.5h1M425 188.5h1M414 211.5h1M423 190.5h1M410 193.5h1M409 205.5h1M421 174.5h1M413 187.5h1M412 177.5h1M405 187.5h1M423 189.5h1M424 188.5h1M429 208.5h1M422 181.5h1M420 190.5h1M409 199.5h1M415 189.5h1M419 188.5h1M402 201.5h1M413 185.5h1M424 196.5h1M430 184.5h1M434 198.5h1M406 179.5h1M415 201.5h1M409 197.5h1M406 197.5h1M411 193.5h1M416 195.5h1M424 184.5h1M398 194.5h1M413 199.5h1M404 198.5h1M430 184.5h1M434 199.5h1M409 181.5h1M407 186.5h1M421 185.5h1M425 187.5h1M404 192.5h1M410 200.5h1M418 204.5h1M403 198.5h1M410 215.5h1M398 194.5h1M413 189.5h1M431 209.5h1M425 202.5h1M421 188.5h1M429 200.5h1M427 191.5h1M427 204.5h1M434 175.5h1M419 202.5h1M420 177.5h1M432 180.5h1M401 182.5h1M435 204.5h1M434 212.5h1M417 193.5h1M428 203.5h1M425 198.5h1M416 193.5h1M399 213.5h1M419 206.5h1M407 192.5h1M415 210.5h1M400 176.5h1M415 203.5h1M433 183.5h1M429 186.5h1M425 192.5h1M398 178.5h1M421 191.5h1M401 175.5h1M430 206.5h1M430 188.5h1M429 188.5h1M411 177.5h1M402 201.5h1M432 189.5h1M401 176.5h1M426 213.5h1M405 181.5h1M399 174.5h1M423 185.5h1M423 201.5h1M431 212.5h1M427 212.5h1M430 191.5h1M423 187.5h1M408 173.5h1M431 195.5h1M420 208.5h1M399 204.5h1M409 206.5h1M397 183.5h1M410 185.5h1M434 188.5h1M407 196.5h1M427 188.5h1M418 213.5h1M401 185.5h1M415 176.5h1M420 192.5h1M434 172.5h1M416 174.5h1M425 191.5h1M426 202.5h1M434 198.5h1M410 183.5h1M431 190.5h1M408 184.5h1M404 175.5h1M415 191.5h1M429 197.5h1M419 187.5h1M419 193.5h1M399 204.5h1M399 175.5h1M435 173.5h1M426 192.5h1M414 191.5h1M422 211.5h1M434 206.5h1M425 184.5h1M400 208.5h1M426 192.5h1M424 200.5h1M418 181.5h1M417 185.5h1M411 210.5h1M398 179.5h1M428 174.5h1M432 175.5h1M417 198.5h1M418 192.5h1M434 199.5h1M410 187.5h1M396 177.5h1M406 180.5h1M406 215.5h1M419 206.5h1M407 201.5h1M429 216.5h1M397 202.5h1M434 176.5h1M409 187.5h1M415 203.5h1M413 209.5h1M399 204.5h1M414 210.5h1M403 194.5h1M401 180.5h1M401 196.5h1M407 204.5h1M430 207.5h1M425 176.5h1M416 180.5h1M407 213.5h1M420 205.5h1M417 186.5h1M406 175.5h1M406 199.5h1M407 202.5h1M430 176.5h1M428 215.5h1M416 183.5h1M430 201.5h1M423 188.5h1M433 175.5h1M406 180.5h1M414 198.5h1M432 209.5h1M403 212.5h1M412 194.5h1M430 187.5h1M410 182.5h1M399 173.5h1M413 210.5h1M413 178.5h1M401 189.5h1M409 199.5h1M421 203.5h1M432 214.5h1M412 185.5h1M399 186.5h1M405 191.5h1M404 208.5h1M408 207.5h1M431 213.5h1M429 182.5h1M414 200.5h1M435 197.5h1M427 173.5h1M429 180.5h1M435 198.5h1M434 175.5h1M403 203.5h1M423 186.5h1M432 173.5h1M420 214.5h1M424 214.5h1M423 188.5h1M404 193.5h1M426 199.5h1M416 209.5h1M397 183.5h1M423 202.5h1M430 197.5h1M416 195.5h1M410 187.5h1M398 193.5h1M410 179.5h1M404 207.5h1M398 194.5h1M427 198.5h1M420 203.5h1M421 196.5h1M414 191.5h1M403 188.5h1M400 187.5h1M432 190.5h1M413 194.5h1M399 207.5h1M424 213.5h1M414 205.5h1M427 214.5h1M424 213.5h1M425 210.5h1M413 212.5h1M410 189.5h1M401 194.5h1M400 203.5h1M423 213.5h1M434 175.5h1M426 198.5h1M412 192.5h1M418 173.5h1M398 201.5h1M429 177.5h1M397 200.5h1M405 176.5h1M408 193.5h1M435 190.5h1M422 191.5h1M410 190.5h1M405 191.5h1M404 190.5h1M435 193.5h1M425 192.5h1M404 190.5h1M423 192.5h1M403 190.5h1M409 189.5h1M425 192.5h1M433 192.5h1M438 190.5h1M437 193.5h1M417 192.5h1M413 192.5h1M428 193.5h1M422 192.5h1M399 194.5h1M415 192.5h1M416 192.5h1M414 187.5h1M410 191.5h1M402 195.5h1M434 191.5h1M429 191.5h1M404 191.5h1M437 189.5h1M412 193.5h1M429 195.5h1M406 194.5h1M437 191.5h1M429 190.5h1M427 191.5h1M434 192.5h1M427 191.5h1M433 193.5h1M411 192.5h1M431 190.5h1M423 190.5h1M420 193.5h1M437 193.5h1M415 192.5h1M421 194.5h1M403 191.5h1M408 191.5h1M426 191.5h1M404 192.5h1M403 188.5h1M433 192.5h1M402 192.5h1M438 190.5h1M413 190.5h1M436 194.5h1M416 191.5h1M408 191.5h1M419 193.5h1M430 190.5h1M429 196.5h1M440 190.5h1M405 191.5h1M404 189.5h1M420 191.5h1M407 190.5h1M399 191.5h1M421 190.5h1M431 188.5h1M436 193.5h1M410 193.5h1M419 193.5h1M426 192.5h1M397 192.5h1M425 190.5h1M402 196.5h1M420 191.5h1M428 190.5h1M413 195.5h1M437 191.5h1M406 257.5h1M401 261.5h1M405 246.5h1M408 226.5h1M408 271.5h1M400 237.5h1M410 216.5h1M402 228.5h1M398 241.5h1M411 245.5h1M408 254.5h1M405 240.5h1M402 267.5h1M410 265.5h1M405 233.5h1M403 258.5h1M409 257.5h1M408 232.5h1M400 272.5h1M412 239.5h1M398 247.5h1M402 219.5h1M408 221.5h1M406 243.5h1M410 244.5h1M409 262.5h1M413 216.5h1M404 217.5h1M406 234.5h1M402 261.5h1M401 236.5h1M409 223.5h1M408 219.5h1M407 257.5h1M403 241.5h1M414 249.5h1M408 267.5h1M409 250.5h1M407 220.5h1M408 234.5h1M412 258.5h1M411 213.5h1M412 268.5h1M407 268.5h1M407 226.5h1M400 272.5h1M405 247.5h1M403 225.5h1M402 255.5h1M406 255.5h1M407 253.5h1M403 266.5h1M398 262.5h1M405 217.5h1M406 230.5h1M408 249.5h1M402 237.5h1M400 239.5h1M397 228.5h1M406 242.5h1M403 214.5h1M409 239.5h1M399 266.5h1M413 231.5h1M405 261.5h1M405 218.5h1M407 263.5h1M410 230.5h1M410 252.5h1M397 245.5h1M403 257.5h1M408 238.5h1M409 238.5h1M407 228.5h1M402 237.5h1M408 265.5h1M405 244.5h1M406 244.5h1M412 271.5h1M406 246.5h1M408 248.5h1M413 261.5h1M411 231.5h1M400 268.5h1M485 194.5h1M469 184.5h1M508 216.5h1M504 191.5h1M455 228.5h1M484 174.5h1M476 181.5h1M440 197.5h1M471 217.5h1M488 180.5h1M495 196.5h1M505 196.5h1M476 173.5h1M455 189.5h1M485 173.5h1M459 183.5h1M462 212.5h1M447 220.5h1M482 203.5h1M449 197.5h1M509 194.5h1M495 202.5h1M494 186.5h1M493 173.5h1M453 218.5h1M444 190.5h1M488 205.5h1M461 201.5h1M486 187.5h1M484 198.5h1M486 183.5h1M461 184.5h1M507 201.5h1M509 221.5h1M470 189.5h1M465 210.5h1M458 191.5h1M476 200.5h1M467 177.5h1M501 193.5h1M464 229.5h1M504 213.5h1M487 200.5h1M464 183.5h1M487 183.5h1M448 210.5h1M503 188.5h1M483 187.5h1M497 186.5h1M460 216.5h1M481 175.5h1M454 198.5h1M448 190.5h1M451 195.5h1M470 189.5h1M489 216.5h1M492 199.5h1M455 217.5h1M491 180.5h1M470 203.5h1M457 186.5h1M441 199.5h1M459 227.5h1M485 173.5h1M463 183.5h1M460 212.5h1M502 214.5h1M487 182.5h1M459 202.5h1M482 194.5h1M450 181.5h1M470 175.5h1M457 194.5h1M471 193.5h1M463 192.5h1M450 192.5h1M469 198.5h1M441 203.5h1M473 201.5h1M443 203.5h1M472 177.5h1M442 192.5h1M446 197.5h1M450 196.5h1M472 190.5h1M455 182.5h1M470 204.5h1M450 173.5h1M467 174.5h1M458 193.5h1M467 187.5h1M463 196.5h1M466 175.5h1M446 203.5h1M445 198.5h1M444 195.5h1M471 201.5h1M460 185.5h1M447 182.5h1M455 197.5h1M466 185.5h1M462 174.5h1M464 189.5h1M466 198.5h1M470 187.5h1M455 176.5h1M448 200.5h1M473 205.5h1M471 188.5h1M451 184.5h1M466 180.5h1M460 181.5h1M464 201.5h1M471 177.5h1M457 181.5h1M468 193.5h1M451 184.5h1M465 200.5h1M453 198.5h1M474 175.5h1M443 190.5h1M453 173.5h1M456 201.5h1M447 201.5h1M455 184.5h1M451 174.5h1M460 194.5h1M449 201.5h1M448 195.5h1M443 180.5h1M480 245.5h1M493 255.5h1M483 267.5h1M487 236.5h1M462 257.5h1M453 275.5h1M500 273.5h1M466 275.5h1M459 244.5h1M448 246.5h1M503 235.5h1M450 276.5h1M463 231.5h1M453 230.5h1M501 236.5h1M410 265.5h1M429 278.5h1M419 267.5h1M420 263.5h1M398 277.5h1M424 272.5h1M431 275.5h1M398 271.5h1M428 278.5h1M414 278.5h1M409 271.5h1M426 278.5h1M402 278.5h1M414 272.5h1M422 280.5h1M415 263.5h1M415 271.5h1M413 272.5h1M408 265.5h1M432 264.5h1" stroke="#000" stroke-opacity="0.88" stroke-width="1" fill="none"/>
<path d="M393.7 169.0V282.6H512.4" fill="none" stroke="#000" stroke-width="1.4" stroke-linecap="square"/>
<path d="M393.7 169.2H511.9V282.6" fill="none" stroke="#1a1a1a" stroke-width="1.15"/>
<path d="M394.90 282.60v4.6M433.30 282.60v4.6M471.70 282.60v4.6M510.10 282.60v4.6" stroke="#000" stroke-width="1.2" fill="none"/>
<path d="M394.90 282.60v2.4M402.58 282.60v2.4M410.26 282.60v2.4M417.94 282.60v2.4M425.62 282.60v2.4M433.30 282.60v2.4M440.98 282.60v2.4M448.66 282.60v2.4M456.34 282.60v2.4M464.02 282.60v2.4M471.70 282.60v2.4M479.38 282.60v2.4M487.06 282.60v2.4M494.74 282.60v2.4M502.42 282.60v2.4M510.10 282.60v2.4" stroke="#000" stroke-width="0.9" fill="none"/>
<path d="M393.70 282.70h-4.6M393.70 245.40h-4.6M393.70 208.10h-4.6M393.70 170.80h-4.6" stroke="#000" stroke-width="1.2" fill="none"/>
<path d="M393.70 271.47h-2.8M393.70 264.90h-2.8M393.70 260.24h-2.8M393.70 256.63h-2.8M393.70 253.67h-2.8M393.70 251.18h-2.8M393.70 249.01h-2.8M393.70 247.11h-2.8M393.70 234.17h-2.8M393.70 227.60h-2.8M393.70 222.94h-2.8M393.70 219.33h-2.8M393.70 216.37h-2.8M393.70 213.88h-2.8M393.70 211.71h-2.8M393.70 209.81h-2.8M393.70 196.87h-2.8M393.70 190.30h-2.8M393.70 185.64h-2.8M393.70 182.03h-2.8M393.70 179.07h-2.8M393.70 176.58h-2.8M393.70 174.41h-2.8M393.70 172.51h-2.8" stroke="#000" stroke-width="0.9" fill="none"/>
<text transform="translate(394.90,295.60) scale(0.81,1)" text-anchor="middle" font-size="9.9" fill="#111" stroke="#111" stroke-width="0.35">0</text>
<text transform="translate(433.30,295.60) scale(0.81,1)" text-anchor="middle" font-size="9.9" fill="#111" stroke="#111" stroke-width="0.35">200</text>
<text transform="translate(471.70,295.60) scale(0.81,1)" text-anchor="middle" font-size="9.9" fill="#111" stroke="#111" stroke-width="0.35">400</text>
<text transform="translate(512.10,295.60) scale(0.81,1)" text-anchor="middle" font-size="9.9" fill="#111" stroke="#111" stroke-width="0.35">600</text>
<g transform="translate(385.80,282.70) rotate(-90)"><text transform="translate(1.6,0) scale(0.81,1)" text-anchor="end" font-size="9.9" fill="#111" stroke="#111" stroke-width="0.35">10</text><text transform="translate(1.9,-5.2) scale(0.81,1)" font-size="9.9" fill="#111" stroke="#111" stroke-width="0.35">0</text></g>
<g transform="translate(385.80,245.40) rotate(-90)"><text transform="translate(1.6,0) scale(0.81,1)" text-anchor="end" font-size="9.9" fill="#111" stroke="#111" stroke-width="0.35">10</text><text transform="translate(1.9,-5.2) scale(0.81,1)" font-size="9.9" fill="#111" stroke="#111" stroke-width="0.35">1</text></g>
<g transform="translate(385.80,208.10) rotate(-90)"><text transform="translate(1.6,0) scale(0.81,1)" text-anchor="end" font-size="9.9" fill="#111" stroke="#111" stroke-width="0.35">10</text><text transform="translate(1.9,-5.2) scale(0.81,1)" font-size="9.9" fill="#111" stroke="#111" stroke-width="0.35">2</text></g>
<g transform="translate(385.80,170.80) rotate(-90)"><text transform="translate(1.6,0) scale(0.81,1)" text-anchor="end" font-size="9.9" fill="#111" stroke="#111" stroke-width="0.35">10</text><text transform="translate(1.9,-5.2) scale(0.81,1)" font-size="9.9" fill="#111" stroke="#111" stroke-width="0.35">3</text></g>
<rect x="422.6" y="246.0" width="70.5" height="36.2" fill="none" stroke="#000" stroke-width="2"/>
<text transform="translate(455.20,310.00)" text-anchor="middle" font-size="14.05" font-weight="bold" fill="#111" stroke="#111" stroke-width="0.22" >DNA Content (PI)</text>
<text transform="translate(373.80,227.50) rotate(-90)" text-anchor="middle" font-size="14.3" font-weight="bold" fill="#111" stroke="#111" stroke-width="0.22" >dUTP-BrdU</text>
<text transform="translate(15.00,64.60) rotate(-90)" text-anchor="middle" font-size="17.6" font-weight="bold" fill="#111" stroke="#111" stroke-width="0.22" >Before culture</text>
<text transform="translate(15.70,224.60) rotate(-90)" text-anchor="middle" font-size="17.6" font-weight="bold" fill="#111" stroke="#111" stroke-width="0.22" >After culture</text>
</svg>
</body></html>
